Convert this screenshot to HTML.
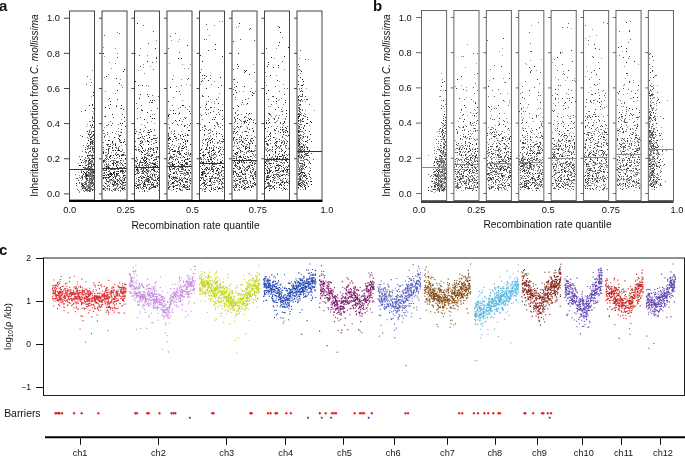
<!DOCTYPE html><html><head><meta charset="utf-8"><style>html,body{margin:0;padding:0;background:#fff;}svg{display:block;will-change:transform;}</style></head><body>
<svg width="685" height="456" viewBox="0 0 685 456" font-family='"Liberation Sans", sans-serif' fill="#111">
<path stroke="#222" stroke-width="1" fill="none" transform="translate(0,0.5)" d="M76 183h1M81 162h1M89 176h1M93 164h1M89 178h1M93 184h1M92 166h1M89 159h1M86 184h1M86 175h1M91 165h1M91 182h1M92 104h1M90 173h1M89 184h1M84 188h1M92 143h1M91 136h1M83 185h1M92 183h1M93 121h1M89 159h1M88 155h1M92 160h1M89 175h1M89 191h1M80 159h1M89 160h1M91 164h1M89 155h1M89 159h1M91 179h1M91 162h1M83 171h1M87 175h1M84 187h1M85 110h1M92 141h1M93 148h1M89 158h1M82 175h1M89 168h1M92 155h1M86 184h1M92 156h1M88 186h1M78 180h1M90 179h1M86 176h1M92 120h1M89 186h1M90 188h1M91 139h1M93 172h1M89 189h1M93 108h1M84 184h1M89 180h1M90 174h1M93 131h1M92 125h1M86 181h1M86 172h1M87 148h1M90 179h1M93 135h1M93 169h1M93 134h1M91 163h1M92 118h1M90 125h1M92 158h1M80 165h1M90 180h1M92 186h1M90 154h1M90 139h1M92 173h1M91 166h1M92 185h1M87 131h1M93 146h1M91 158h1M92 172h1M92 181h1M86 173h1M88 176h1M91 171h1M90 137h1M86 178h1M90 154h1M90 184h1M89 105h1M89 160h1M92 190h1M83 167h1M93 140h1M90 184h1M88 167h1M91 188h1M87 168h1M85 149h1M89 168h1M90 187h1M85 163h1M86 189h1M90 144h1M84 172h1M92 164h1M93 189h1M82 188h1M93 171h1M92 136h1M91 139h1M92 160h1M92 174h1M79 165h1M91 167h1M86 187h1M89 162h1M83 171h1M90 161h1M86 174h1M88 182h1M89 166h1M91 178h1M91 189h1M92 171h1M93 158h1M89 151h1M92 142h1M88 166h1M90 142h1M92 164h1M89 186h1M92 166h1M91 183h1M93 175h1M83 174h1M91 163h1M90 175h1M83 190h1M85 173h1M93 158h1M93 163h1M88 172h1M82 177h1M89 160h1M90 179h1M89 166h1M92 180h1M93 182h1M93 92h1M93 155h1M88 182h1M82 186h1M91 142h1M90 148h1M88 187h1M92 172h1M91 163h1M82 184h1M82 136h1M87 176h1M90 121h1M92 171h1M88 140h1M92 148h1M92 156h1M87 155h1M87 178h1M90 170h1M83 186h1M92 175h1M90 173h1M91 168h1M83 190h1M87 174h1M82 185h1M90 134h1M90 150h1M87 189h1M87 178h1M86 165h1M89 183h1M93 176h1M83 167h1M92 161h1M92 176h1M85 178h1M89 162h1M88 175h1M92 168h1M90 176h1M92 161h1M110 176h1M120 142h1M103 178h1M106 179h1M123 175h1M107 188h1M113 164h1M118 184h1M117 90h1M115 150h1M104 173h1M119 150h1M117 181h1M119 83h1M106 167h1M113 164h1M109 157h1M115 144h1M116 188h1M118 173h1M115 143h1M123 71h1M117 167h1M108 167h1M125 158h1M112 132h1M113 165h1M122 173h1M108 167h1M124 189h1M121 142h1M114 175h1M114 137h1M106 179h1M115 143h1M124 187h1M118 150h1M124 141h1M119 158h1M104 186h1M110 173h1M106 175h1M108 171h1M113 177h1M119 175h1M114 169h1M123 152h1M116 188h1M108 140h1M105 187h1M103 185h1M121 155h1M111 169h1M113 163h1M103 153h1M114 175h1M121 163h1M117 161h1M108 153h1M109 184h1M116 155h1M109 146h1M105 107h1M120 123h1M110 104h1M111 174h1M107 189h1M106 167h1M117 179h1M105 183h1M124 175h1M113 179h1M108 144h1M108 182h1M123 165h1M112 142h1M110 174h1M113 150h1M112 174h1M117 183h1M121 132h1M120 171h1M116 78h1M110 165h1M123 173h1M108 177h1M103 152h1M103 53h1M118 171h1M104 175h1M115 182h1M104 160h1M108 175h1M111 179h1M103 177h1M118 162h1M125 177h1M115 188h1M115 163h1M106 164h1M113 172h1M109 136h1M121 184h1M121 160h1M106 164h1M125 126h1M111 155h1M109 176h1M115 184h1M108 149h1M124 163h1M115 177h1M120 171h1M112 147h1M106 169h1M124 178h1M116 106h1M115 178h1M125 163h1M106 159h1M103 142h1M106 163h1M119 136h1M105 166h1M116 173h1M111 180h1M122 165h1M120 160h1M111 173h1M110 172h1M113 184h1M113 155h1M103 175h1M125 182h1M118 190h1M114 172h1M116 164h1M120 180h1M104 164h1M116 166h1M114 158h1M115 143h1M120 186h1M108 165h1M111 173h1M108 174h1M123 109h1M110 156h1M112 168h1M122 187h1M105 190h1M113 173h1M118 180h1M123 154h1M117 186h1M112 184h1M118 138h1M112 141h1M106 164h1M124 179h1M105 116h1M113 172h1M115 145h1M121 158h1M123 188h1M120 135h1M106 76h1M114 174h1M115 181h1M112 163h1M122 189h1M122 123h1M121 105h1M105 135h1M113 185h1M106 166h1M105 177h1M123 142h1M122 155h1M110 155h1M109 108h1M117 154h1M116 174h1M122 171h1M119 139h1M107 177h1M110 174h1M109 189h1M122 188h1M120 183h1M107 185h1M123 171h1M111 175h1M103 189h1M124 69h1M112 114h1M103 160h1M119 178h1M110 101h1M119 181h1M121 170h1M124 117h1M119 156h1M117 183h1M107 145h1M104 164h1M109 167h1M103 188h1M116 162h1M123 182h1M114 182h1M158 177h1M148 164h1M139 98h1M146 169h1M144 184h1M141 178h1M145 160h1M143 150h1M154 159h1M146 158h1M148 179h1M135 133h1M141 180h1M151 184h1M142 110h1M142 152h1M153 186h1M149 137h1M153 168h1M155 164h1M152 169h1M154 164h1M140 162h1M145 157h1M136 178h1M140 167h1M142 85h1M143 159h1M149 155h1M157 166h1M142 148h1M157 163h1M147 176h1M152 175h1M145 165h1M154 152h1M151 169h1M156 152h1M140 141h1M135 174h1M137 163h1M143 188h1M136 178h1M149 132h1M157 176h1M155 186h1M153 150h1M151 184h1M142 173h1M153 184h1M144 183h1M137 169h1M157 171h1M152 174h1M139 167h1M146 180h1M136 169h1M137 23h1M142 171h1M145 150h1M153 135h1M142 162h1M149 177h1M157 147h1M153 138h1M144 182h1M157 178h1M136 188h1M138 179h1M154 170h1M144 119h1M136 186h1M158 156h1M154 180h1M136 183h1M148 134h1M148 130h1M143 185h1M144 190h1M143 186h1M145 154h1M140 184h1M151 139h1M152 118h1M147 94h1M142 141h1M152 184h1M153 187h1M146 180h1M156 159h1M143 160h1M137 185h1M136 161h1M143 186h1M135 146h1M147 155h1M147 112h1M154 186h1M148 165h1M147 140h1M150 149h1M144 177h1M148 141h1M152 155h1M154 175h1M144 161h1M147 61h1M157 183h1M148 178h1M140 94h1M147 155h1M155 177h1M146 173h1M153 160h1M148 148h1M151 184h1M145 165h1M152 187h1M155 187h1M135 149h1M143 170h1M146 187h1M150 116h1M145 184h1M156 58h1M138 138h1M147 181h1M144 167h1M155 48h1M154 163h1M157 178h1M139 165h1M150 188h1M147 170h1M155 166h1M148 155h1M143 169h1M148 132h1M135 183h1M146 159h1M148 96h1M151 158h1M135 185h1M152 163h1M138 188h1M136 166h1M144 181h1M154 118h1M144 158h1M151 131h1M153 148h1M141 151h1M148 182h1M150 167h1M156 151h1M138 171h1M144 156h1M150 131h1M148 144h1M145 162h1M152 182h1M146 161h1M148 176h1M140 143h1M140 176h1M151 148h1M152 100h1M140 137h1M140 167h1M140 129h1M148 149h1M143 177h1M144 171h1M150 129h1M135 81h1M141 146h1M157 179h1M138 173h1M158 180h1M138 187h1M156 142h1M135 174h1M148 180h1M157 185h1M183 186h1M189 158h1M180 179h1M168 139h1M173 168h1M174 151h1M178 147h1M176 188h1M185 181h1M187 140h1M180 189h1M184 184h1M168 182h1M172 163h1M168 133h1M177 168h1M189 111h1M172 141h1M187 172h1M184 126h1M174 181h1M182 169h1M174 136h1M172 164h1M179 154h1M169 159h1M169 167h1M183 105h1M183 156h1M176 177h1M180 183h1M174 164h1M189 189h1M181 180h1M185 135h1M170 139h1M188 78h1M175 138h1M169 168h1M185 141h1M187 189h1M178 180h1M184 160h1M178 153h1M189 161h1M190 161h1M173 154h1M173 178h1M173 151h1M187 159h1M187 179h1M187 164h1M187 141h1M175 159h1M187 186h1M182 167h1M184 172h1M190 144h1M182 181h1M174 156h1M179 178h1M178 58h1M183 173h1M172 182h1M169 177h1M175 180h1M189 130h1M184 161h1M179 120h1M188 177h1M184 147h1M172 161h1M176 158h1M189 189h1M190 183h1M185 169h1M182 139h1M181 58h1M183 184h1M168 180h1M179 180h1M182 179h1M181 148h1M190 154h1M170 147h1M173 177h1M181 186h1M173 189h1M180 153h1M170 171h1M185 163h1M170 169h1M185 178h1M184 157h1M184 147h1M173 183h1M179 182h1M168 101h1M183 148h1M183 142h1M173 176h1M179 180h1M174 177h1M187 134h1M177 178h1M182 169h1M178 161h1M179 171h1M178 147h1M182 105h1M173 113h1M187 158h1M168 187h1M178 151h1M170 174h1M169 189h1M176 91h1M169 158h1M170 184h1M177 151h1M179 179h1M178 162h1M176 178h1M186 159h1M173 165h1M171 176h1M190 168h1M182 160h1M183 136h1M172 149h1M183 165h1M169 153h1M179 178h1M189 189h1M173 182h1M173 110h1M188 130h1M186 181h1M182 164h1M186 154h1M169 138h1M190 172h1M190 164h1M174 183h1M173 185h1M187 45h1M175 178h1M173 134h1M168 115h1M180 189h1M179 188h1M186 189h1M169 143h1M189 170h1M179 179h1M168 138h1M173 186h1M177 159h1M184 153h1M168 134h1M180 175h1M173 173h1M180 135h1M186 166h1M190 123h1M185 159h1M174 150h1M172 183h1M185 118h1M171 178h1M169 176h1M175 113h1M177 124h1M168 187h1M181 164h1M178 184h1M173 187h1M168 116h1M172 165h1M176 178h1M175 120h1M170 87h1M186 163h1M169 166h1M190 153h1M185 173h1M181 177h1M177 166h1M182 171h1M179 113h1M182 146h1M171 149h1M182 148h1M209 176h1M205 176h1M211 177h1M204 185h1M208 159h1M215 177h1M212 162h1M209 164h1M211 168h1M222 119h1M223 139h1M217 122h1M221 161h1M216 170h1M211 102h1M211 177h1M212 119h1M213 166h1M202 174h1M210 159h1M214 163h1M212 138h1M202 163h1M219 133h1M204 169h1M210 142h1M221 171h1M218 168h1M220 161h1M206 187h1M201 172h1M207 185h1M211 159h1M218 142h1M213 149h1M222 166h1M217 178h1M200 166h1M204 75h1M217 181h1M207 168h1M202 155h1M202 177h1M218 188h1M203 155h1M202 162h1M220 162h1M212 155h1M213 150h1M218 103h1M203 159h1M219 188h1M209 168h1M210 158h1M210 179h1M206 109h1M207 152h1M200 150h1M202 169h1M202 175h1M212 164h1M201 161h1M202 173h1M211 157h1M221 184h1M209 152h1M201 178h1M201 159h1M205 189h1M202 183h1M222 125h1M218 172h1M204 182h1M210 107h1M205 169h1M202 75h1M211 167h1M204 134h1M201 81h1M211 189h1M211 159h1M206 169h1M212 150h1M209 147h1M203 162h1M203 171h1M209 181h1M204 130h1M222 110h1M212 161h1M220 77h1M216 147h1M200 55h1M209 138h1M218 148h1M206 88h1M213 170h1M206 176h1M210 140h1M215 178h1M204 173h1M210 112h1M211 151h1M222 136h1M208 152h1M210 180h1M222 56h1M211 162h1M206 114h1M215 173h1M212 131h1M203 164h1M219 183h1M209 122h1M202 129h1M200 157h1M207 142h1M208 169h1M201 174h1M219 163h1M202 172h1M205 159h1M205 176h1M223 167h1M210 142h1M219 155h1M204 171h1M221 85h1M203 155h1M223 149h1M220 149h1M217 170h1M206 167h1M208 80h1M202 163h1M214 166h1M209 156h1M200 153h1M215 117h1M212 181h1M202 119h1M206 149h1M202 61h1M215 189h1M206 104h1M213 166h1M215 49h1M205 188h1M211 188h1M218 177h1M217 168h1M205 175h1M215 177h1M201 149h1M214 153h1M220 172h1M206 169h1M208 130h1M220 172h1M214 119h1M213 158h1M222 167h1M222 186h1M213 177h1M205 168h1M218 177h1M216 99h1M212 171h1M218 168h1M201 168h1M202 165h1M221 162h1M212 176h1M220 147h1M205 184h1M218 163h1M217 163h1M203 159h1M218 152h1M205 154h1M207 157h1M207 145h1M221 154h1M210 181h1M216 133h1M212 169h1M209 185h1M200 180h1M210 178h1M215 44h1M221 163h1M211 169h1M209 178h1M252 163h1M245 173h1M236 139h1M234 131h1M244 173h1M237 143h1M246 153h1M246 169h1M240 179h1M237 126h1M235 153h1M237 176h1M236 92h1M241 161h1M242 180h1M244 162h1M243 146h1M255 175h1M237 131h1M233 150h1M250 156h1M244 70h1M251 165h1M246 180h1M237 180h1M249 129h1M255 171h1M245 178h1M240 150h1M234 165h1M248 142h1M233 172h1M237 166h1M239 156h1M249 113h1M250 118h1M249 166h1M235 163h1M241 171h1M248 159h1M244 117h1M247 170h1M252 143h1M245 149h1M253 131h1M238 163h1M247 167h1M250 181h1M245 160h1M247 187h1M237 152h1M240 156h1M250 159h1M240 168h1M239 23h1M254 162h1M244 187h1M237 118h1M233 168h1M234 145h1M251 119h1M251 151h1M239 139h1M249 148h1M252 92h1M246 148h1M236 180h1M241 170h1M240 176h1M252 176h1M250 168h1M254 166h1M253 183h1M252 95h1M237 143h1M254 172h1M240 175h1M234 158h1M239 162h1M249 143h1M255 123h1M251 186h1M233 41h1M233 174h1M255 176h1M244 187h1M248 184h1M237 183h1M236 158h1M234 137h1M234 181h1M247 103h1M250 171h1M238 66h1M235 165h1M237 166h1M248 157h1M239 161h1M244 182h1M246 187h1M244 180h1M242 186h1M233 108h1M245 131h1M246 70h1M245 71h1M254 184h1M251 187h1M255 163h1M234 79h1M233 138h1M234 129h1M249 74h1M242 173h1M235 90h1M253 140h1M239 185h1M242 184h1M250 140h1M248 124h1M245 148h1M237 64h1M236 132h1M246 113h1M235 171h1M248 160h1M241 137h1M236 165h1M248 168h1M241 144h1M233 182h1M238 106h1M248 186h1M245 138h1M239 179h1M246 159h1M239 176h1M249 119h1M244 86h1M235 119h1M236 185h1M238 174h1M243 145h1M252 128h1M255 184h1M253 179h1M249 162h1M251 138h1M238 53h1M234 117h1M254 182h1M247 182h1M241 172h1M253 122h1M236 173h1M235 185h1M243 180h1M236 86h1M234 161h1M248 165h1M240 135h1M235 187h1M241 187h1M244 158h1M246 169h1M237 163h1M243 185h1M247 120h1M234 168h1M242 159h1M253 178h1M249 165h1M244 121h1M252 185h1M253 168h1M237 153h1M237 148h1M244 170h1M235 153h1M245 158h1M243 174h1M238 127h1M244 122h1M242 141h1M237 126h1M236 174h1M288 165h1M266 187h1M270 180h1M279 156h1M280 165h1M266 93h1M272 172h1M282 130h1M285 151h1M281 166h1M279 158h1M284 155h1M286 174h1M279 141h1M270 181h1M285 189h1M285 127h1M268 62h1M269 169h1M287 169h1M281 185h1M266 141h1M287 141h1M281 156h1M276 141h1M287 182h1M273 177h1M281 162h1M274 189h1M287 131h1M279 161h1M269 154h1M270 176h1M270 181h1M266 177h1M286 110h1M288 47h1M278 169h1M277 159h1M275 156h1M267 66h1M269 172h1M284 152h1M285 157h1M277 179h1M280 132h1M274 185h1M277 176h1M280 32h1M270 171h1M286 161h1M268 186h1M287 167h1M277 170h1M281 182h1M265 165h1M277 174h1M282 175h1M286 180h1M265 128h1M275 170h1M284 143h1M276 182h1M267 166h1M275 151h1M286 166h1M269 114h1M276 159h1M280 159h1M282 154h1M265 188h1M283 132h1M283 157h1M266 178h1M274 188h1M285 102h1M266 122h1M283 170h1M271 159h1M282 136h1M268 175h1M285 178h1M271 57h1M285 160h1M276 98h1M275 142h1M283 123h1M265 181h1M272 149h1M270 163h1M268 168h1M272 181h1M277 80h1M280 184h1M266 179h1M278 65h1M287 162h1M274 178h1M267 177h1M265 173h1M286 113h1M272 182h1M286 182h1M273 67h1M269 188h1M283 134h1M269 134h1M279 139h1M279 185h1M268 182h1M284 131h1M273 158h1M269 190h1M273 118h1M266 177h1M286 158h1M286 130h1M276 101h1M273 175h1M280 129h1M287 170h1M267 144h1M282 155h1M267 172h1M282 182h1M266 123h1M277 158h1M279 176h1M274 182h1M270 75h1M282 150h1M268 140h1M267 170h1M279 42h1M267 179h1M279 187h1M271 150h1M275 167h1M266 143h1M283 171h1M281 175h1M268 90h1M268 136h1M286 181h1M269 177h1M281 151h1M284 188h1M284 121h1M284 182h1M284 183h1M268 177h1M266 180h1M269 122h1M268 182h1M276 158h1M275 109h1M271 167h1M287 155h1M275 168h1M279 165h1M269 170h1M284 56h1M268 127h1M285 159h1M265 138h1M285 132h1M280 174h1M268 179h1M276 165h1M265 162h1M270 186h1M266 163h1M271 188h1M276 170h1M272 177h1M279 27h1M284 121h1M270 133h1M286 169h1M280 171h1M282 127h1M288 135h1M275 152h1M268 99h1M276 145h1M273 137h1M272 186h1M280 156h1M267 173h1M265 183h1M277 165h1M273 163h1M269 155h1M278 182h1M286 128h1M299 111h1M298 99h1M301 146h1M298 116h1M299 174h1M298 131h1M302 94h1M304 186h1M299 145h1M301 99h1M298 143h1M304 164h1M304 175h1M302 164h1M300 173h1M298 152h1M301 174h1M300 175h1M302 172h1M299 147h1M298 151h1M304 173h1M298 174h1M300 167h1M300 163h1M301 71h1M299 138h1M309 162h1M302 85h1M305 141h1M299 170h1M300 124h1M298 151h1M305 188h1M298 96h1M300 96h1M298 84h1M304 147h1M298 151h1M303 137h1M301 174h1M299 144h1M300 179h1M306 182h1M299 184h1M310 163h1M300 119h1M299 141h1M302 121h1M302 163h1M298 100h1M298 141h1M304 147h1M299 143h1M299 157h1M298 132h1M311 184h1M305 167h1M298 130h1M300 186h1M309 174h1M305 101h1M299 162h1M298 145h1M299 139h1M298 142h1M305 130h1M298 121h1M299 147h1M307 147h1M299 162h1M298 145h1M304 154h1M300 104h1M298 155h1M298 182h1M298 148h1M310 121h1M308 173h1M307 153h1M298 145h1M303 172h1M298 120h1M299 150h1M309 150h1M299 127h1M307 119h1M298 160h1M303 144h1M305 185h1M298 184h1M300 163h1M301 152h1M298 153h1M304 152h1M298 130h1M299 169h1M299 152h1M298 158h1M307 123h1M310 134h1M298 146h1M298 187h1M299 138h1M304 165h1M300 129h1M300 185h1M298 156h1M300 70h1M302 147h1M300 148h1M304 156h1M298 132h1M305 155h1M299 152h1M298 114h1M299 149h1M298 164h1M301 85h1M299 183h1M307 155h1M299 145h1M306 166h1M311 181h1M301 168h1M300 91h1M302 79h1M299 169h1M306 123h1M305 188h1M303 81h1M299 126h1M304 125h1M300 114h1M304 173h1M304 163h1M303 148h1M298 148h1M299 155h1M298 117h1M300 137h1M307 137h1M311 122h1M307 99h1M305 187h1M298 137h1M299 140h1M307 117h1M299 176h1M302 156h1M303 160h1M299 184h1M299 116h1M298 148h1M300 178h1M299 162h1M299 115h1M299 141h1M307 151h1M298 135h1M300 176h1M301 184h1M298 140h1M306 159h1M305 187h1M298 136h1M302 91h1M299 140h1M299 177h1M300 77h1M298 178h1M303 115h1M301 150h1M301 172h1M303 128h1M308 186h1M298 185h1"/>
<path stroke="#555" stroke-width="1" fill="none" transform="translate(0,0.5)" d="M86 186h1M76 178h1M84 184h1M89 182h1M90 163h1M91 168h1M86 160h1M85 175h1M91 132h1M92 181h1M87 186h1M91 158h1M89 163h1M85 162h1M92 189h1M90 141h1M88 173h1M83 188h1M91 170h1M81 186h1M85 151h1M91 183h1M92 156h1M88 180h1M90 172h1M90 146h1M85 168h1M90 163h1M91 182h1M91 181h1M84 191h1M81 184h1M75 174h1M88 161h1M92 161h1M93 127h1M84 159h1M90 187h1M91 179h1M89 174h1M91 127h1M93 140h1M91 173h1M85 174h1M87 189h1M90 155h1M93 179h1M92 166h1M88 176h1M89 163h1M85 187h1M89 158h1M89 176h1M77 178h1M89 184h1M93 187h1M84 169h1M91 82h1M92 164h1M91 171h1M92 181h1M87 168h1M86 179h1M90 180h1M91 184h1M86 187h1M88 170h1M90 172h1M88 167h1M83 186h1M93 95h1M93 150h1M92 166h1M89 180h1M91 158h1M92 171h1M85 188h1M87 76h1M89 186h1M89 173h1M92 142h1M92 160h1M86 190h1M87 137h1M92 174h1M87 156h1M85 184h1M90 159h1M83 145h1M90 180h1M93 189h1M93 178h1M90 146h1M88 186h1M90 189h1M88 160h1M92 154h1M90 162h1M88 152h1M89 190h1M92 182h1M87 146h1M83 190h1M79 156h1M90 150h1M86 84h1M91 166h1M92 175h1M89 163h1M82 175h1M85 182h1M85 187h1M92 105h1M86 183h1M89 187h1M81 172h1M86 173h1M90 151h1M92 169h1M91 168h1M92 183h1M93 138h1M89 181h1M87 171h1M85 183h1M91 167h1M92 176h1M89 158h1M90 148h1M92 150h1M86 186h1M92 124h1M92 176h1M83 188h1M90 176h1M87 185h1M91 136h1M89 179h1M89 178h1M92 161h1M92 177h1M91 178h1M91 164h1M81 156h1M90 183h1M85 165h1M91 137h1M93 135h1M84 188h1M89 121h1M88 190h1M92 136h1M88 176h1M79 182h1M93 170h1M88 145h1M92 170h1M88 155h1M79 177h1M93 152h1M90 143h1M88 164h1M89 175h1M89 184h1M89 131h1M87 167h1M90 161h1M76 185h1M92 171h1M84 176h1M90 167h1M89 164h1M85 160h1M82 183h1M92 117h1M92 172h1M82 160h1M88 169h1M86 183h1M87 149h1M81 171h1M91 182h1M91 188h1M91 183h1M83 190h1M91 172h1M92 179h1M92 144h1M87 180h1M87 143h1M83 187h1M91 181h1M93 184h1M88 176h1M82 178h1M86 168h1M85 167h1M91 181h1M92 147h1M92 181h1M84 186h1M88 163h1M81 176h1M90 182h1M88 188h1M89 181h1M86 171h1M88 175h1M88 157h1M90 179h1M86 186h1M86 126h1M88 134h1M91 186h1M90 187h1M87 188h1M90 182h1M91 131h1M89 188h1M90 171h1M93 142h1M89 121h1M85 190h1M89 185h1M91 152h1M88 180h1M89 176h1M89 130h1M89 162h1M92 162h1M79 191h1M86 180h1M89 166h1M90 187h1M91 160h1M92 149h1M92 176h1M88 175h1M90 172h1M90 172h1M86 152h1M80 178h1M90 146h1M86 182h1M89 134h1M89 158h1M91 166h1M88 187h1M91 141h1M93 155h1M86 173h1M92 142h1M93 165h1M92 176h1M85 188h1M88 161h1M90 182h1M85 177h1M83 169h1M77 189h1M117 57h1M108 178h1M108 159h1M125 166h1M107 134h1M107 186h1M122 183h1M106 180h1M118 188h1M120 162h1M114 175h1M106 172h1M124 167h1M122 188h1M116 176h1M112 132h1M110 158h1M122 182h1M124 121h1M104 159h1M119 182h1M119 135h1M120 162h1M114 158h1M115 143h1M122 172h1M117 175h1M116 171h1M117 99h1M122 154h1M105 155h1M104 137h1M121 167h1M115 178h1M122 169h1M107 132h1M112 169h1M119 187h1M103 147h1M113 189h1M122 168h1M109 156h1M125 159h1M108 171h1M106 149h1M112 148h1M114 171h1M116 175h1M117 174h1M111 169h1M108 150h1M111 190h1M121 125h1M118 149h1M117 161h1M107 188h1M123 180h1M113 181h1M119 182h1M118 169h1M105 187h1M110 146h1M104 173h1M114 162h1M113 162h1M115 176h1M118 168h1M104 35h1M103 151h1M124 180h1M122 114h1M123 180h1M122 168h1M121 180h1M125 171h1M106 172h1M123 185h1M108 182h1M118 162h1M122 170h1M117 189h1M118 169h1M110 161h1M113 144h1M118 147h1M109 148h1M104 161h1M112 169h1M117 173h1M123 167h1M107 174h1M106 167h1M124 182h1M116 147h1M118 134h1M109 173h1M103 185h1M103 130h1M115 190h1M122 187h1M103 169h1M111 125h1M109 171h1M106 155h1M120 190h1M117 164h1M104 177h1M115 168h1M119 178h1M105 158h1M120 167h1M109 174h1M108 164h1M109 188h1M121 151h1M121 181h1M122 173h1M116 183h1M124 185h1M104 177h1M110 169h1M125 155h1M116 176h1M108 124h1M121 171h1M115 188h1M108 185h1M104 160h1M108 148h1M103 168h1M107 144h1M121 188h1M118 190h1M120 170h1M124 182h1M104 172h1M123 160h1M122 177h1M122 165h1M107 185h1M107 181h1M104 170h1M112 123h1M114 180h1M106 170h1M118 154h1M108 181h1M109 167h1M113 117h1M120 177h1M120 180h1M103 142h1M108 166h1M121 129h1M125 170h1M125 144h1M116 161h1M116 179h1M120 151h1M118 148h1M125 175h1M117 171h1M121 108h1M115 154h1M112 183h1M121 163h1M123 176h1M109 186h1M117 162h1M124 139h1M112 180h1M124 172h1M119 33h1M106 177h1M118 169h1M120 170h1M109 177h1M105 178h1M123 155h1M105 170h1M104 136h1M108 151h1M115 189h1M110 144h1M113 160h1M120 140h1M114 183h1M120 167h1M107 154h1M112 176h1M116 152h1M116 165h1M109 98h1M103 189h1M106 179h1M107 177h1M109 179h1M103 162h1M124 167h1M108 181h1M109 140h1M103 161h1M139 172h1M147 174h1M144 168h1M143 168h1M157 148h1M157 182h1M157 161h1M139 55h1M136 150h1M144 186h1M147 179h1M146 188h1M141 162h1M153 152h1M150 171h1M143 183h1M147 150h1M142 173h1M154 182h1M138 185h1M137 173h1M150 188h1M147 173h1M138 180h1M141 134h1M153 167h1M147 170h1M148 43h1M152 102h1M138 177h1M141 140h1M140 66h1M141 168h1M141 105h1M137 159h1M145 180h1M137 118h1M149 164h1M143 25h1M138 171h1M150 100h1M137 108h1M146 177h1M151 110h1M142 172h1M157 149h1M151 169h1M141 109h1M144 136h1M138 170h1M146 172h1M143 169h1M140 160h1M143 173h1M138 150h1M148 172h1M139 162h1M154 187h1M139 132h1M139 164h1M157 176h1M153 170h1M152 95h1M140 145h1M153 180h1M149 102h1M144 165h1M144 151h1M156 174h1M138 167h1M140 162h1M155 140h1M153 69h1M150 151h1M145 186h1M144 163h1M139 151h1M146 162h1M150 174h1M138 184h1M152 154h1M154 176h1M140 117h1M151 144h1M139 184h1M144 154h1M150 151h1M147 153h1M142 187h1M154 166h1M158 178h1M138 85h1M152 184h1M145 163h1M145 167h1M148 151h1M153 152h1M153 166h1M158 169h1M144 174h1M141 175h1M154 100h1M139 144h1M155 180h1M149 184h1M140 161h1M135 160h1M146 180h1M155 138h1M154 152h1M151 179h1M137 168h1M143 131h1M138 147h1M136 183h1M147 122h1M148 184h1M136 103h1M153 164h1M142 157h1M149 179h1M146 170h1M154 169h1M150 129h1M149 187h1M142 181h1M136 131h1M138 188h1M142 176h1M148 166h1M156 165h1M155 159h1M136 157h1M145 149h1M147 178h1M156 156h1M138 185h1M143 168h1M141 158h1M154 174h1M142 178h1M147 163h1M152 139h1M150 181h1M151 169h1M154 167h1M155 186h1M142 142h1M144 139h1M158 184h1M155 171h1M156 167h1M150 176h1M147 141h1M153 31h1M138 149h1M150 156h1M137 172h1M142 164h1M158 157h1M155 138h1M156 156h1M148 181h1M143 172h1M135 141h1M156 138h1M155 147h1M154 138h1M148 179h1M155 162h1M145 168h1M149 162h1M156 57h1M139 180h1M149 188h1M153 163h1M149 180h1M148 168h1M147 171h1M141 154h1M150 149h1M140 186h1M141 169h1M139 162h1M142 165h1M147 185h1M154 171h1M150 177h1M136 178h1M139 182h1M142 158h1M152 178h1M145 127h1M144 160h1M143 160h1M144 191h1M146 153h1M139 166h1M152 62h1M151 177h1M141 152h1M151 155h1M138 165h1M158 156h1M156 157h1M148 172h1M157 186h1M145 150h1M146 170h1M136 157h1M147 170h1M155 135h1M146 135h1M143 138h1M148 171h1M137 170h1M140 187h1M137 187h1M139 177h1M138 181h1M145 175h1M146 164h1M157 108h1M151 102h1M142 136h1M144 174h1M146 85h1M158 96h1M149 189h1M180 154h1M172 105h1M187 184h1M179 146h1M169 137h1M175 185h1M173 183h1M184 187h1M175 166h1M176 156h1M180 143h1M170 156h1M184 186h1M171 156h1M171 131h1M174 173h1M172 151h1M184 184h1M186 162h1M184 177h1M176 177h1M186 172h1M188 153h1M178 149h1M186 187h1M183 169h1M175 178h1M172 186h1M182 150h1M175 150h1M181 178h1M177 174h1M172 123h1M178 170h1M177 182h1M175 177h1M168 140h1M186 164h1M178 147h1M170 147h1M168 136h1M186 152h1M185 154h1M174 133h1M174 172h1M169 186h1M179 151h1M181 165h1M174 179h1M176 138h1M190 180h1M168 163h1M178 139h1M169 114h1M176 185h1M177 152h1M169 175h1M189 125h1M169 178h1M182 160h1M190 178h1M181 171h1M182 180h1M169 128h1M182 134h1M179 179h1M168 173h1M175 151h1M188 174h1M178 168h1M180 162h1M189 155h1M188 135h1M178 157h1M187 163h1M168 163h1M175 138h1M168 160h1M176 91h1M185 187h1M185 143h1M184 117h1M171 183h1M170 36h1M181 150h1M183 145h1M182 165h1M182 180h1M185 107h1M179 182h1M174 131h1M174 145h1M180 167h1M181 85h1M169 163h1M182 179h1M179 188h1M178 170h1M190 180h1M174 186h1M174 168h1M179 152h1M172 157h1M184 139h1M185 140h1M179 163h1M186 179h1M189 180h1M190 168h1M177 181h1M186 174h1M181 171h1M176 177h1M181 173h1M171 157h1M178 134h1M181 169h1M185 185h1M177 188h1M169 181h1M172 144h1M189 182h1M169 127h1M185 167h1M182 121h1M180 164h1M168 188h1M187 135h1M176 191h1M185 170h1M177 174h1M186 146h1M168 185h1M168 183h1M187 173h1M168 153h1M180 167h1M183 168h1M168 139h1M181 155h1M175 33h1M187 181h1M187 174h1M184 165h1M170 157h1M177 182h1M170 164h1M178 153h1M177 185h1M176 140h1M180 164h1M186 149h1M181 160h1M179 189h1M169 169h1M183 165h1M181 167h1M178 165h1M174 167h1M174 154h1M168 48h1M168 145h1M169 187h1M176 173h1M168 148h1M175 136h1M184 177h1M168 135h1M189 186h1M176 185h1M187 174h1M189 185h1M180 157h1M171 162h1M184 185h1M172 79h1M172 179h1M180 144h1M178 165h1M184 125h1M180 173h1M173 183h1M170 110h1M178 143h1M168 162h1M176 181h1M168 143h1M180 184h1M170 165h1M178 180h1M173 164h1M169 149h1M176 172h1M179 179h1M176 169h1M170 137h1M178 148h1M179 91h1M174 131h1M176 178h1M170 156h1M180 107h1M179 52h1M168 146h1M178 169h1M188 189h1M174 150h1M187 162h1M179 178h1M187 187h1M172 169h1M173 134h1M181 124h1M169 143h1M185 144h1M189 175h1M173 159h1M214 157h1M202 165h1M209 169h1M200 130h1M213 177h1M217 142h1M201 184h1M206 174h1M211 167h1M216 180h1M206 184h1M223 178h1M203 182h1M211 139h1M208 153h1M211 176h1M219 140h1M204 125h1M208 101h1M221 141h1M213 164h1M221 181h1M200 162h1M205 140h1M222 160h1M202 80h1M218 184h1M205 149h1M222 183h1M214 180h1M204 78h1M212 142h1M200 166h1M202 145h1M213 145h1M213 154h1M209 152h1M219 173h1M217 174h1M219 114h1M202 95h1M200 162h1M202 127h1M219 150h1M222 191h1M211 178h1M201 69h1M215 164h1M217 180h1M211 185h1M219 187h1M220 127h1M209 148h1M202 171h1M209 133h1M218 174h1M207 173h1M208 141h1M216 114h1M206 170h1M220 165h1M206 139h1M207 144h1M222 178h1M214 189h1M218 178h1M210 158h1M214 184h1M222 141h1M203 163h1M219 179h1M212 141h1M211 168h1M217 123h1M203 143h1M210 173h1M201 115h1M218 177h1M209 154h1M206 76h1M221 174h1M208 109h1M219 187h1M214 162h1M205 180h1M207 167h1M215 178h1M210 178h1M223 154h1M204 126h1M216 173h1M215 152h1M206 183h1M205 128h1M221 170h1M220 179h1M223 187h1M202 96h1M222 125h1M217 122h1M206 24h1M203 183h1M210 170h1M220 143h1M207 182h1M210 191h1M211 188h1M213 182h1M220 153h1M218 126h1M222 179h1M216 122h1M215 187h1M220 163h1M213 169h1M204 39h1M220 180h1M206 161h1M211 107h1M205 173h1M219 181h1M200 188h1M203 139h1M222 157h1M213 134h1M208 50h1M203 164h1M209 150h1M205 168h1M208 173h1M219 181h1M204 155h1M218 87h1M204 183h1M217 159h1M214 128h1M223 141h1M220 188h1M217 124h1M222 151h1M218 142h1M217 143h1M211 160h1M209 190h1M204 180h1M201 69h1M211 148h1M218 109h1M208 96h1M213 188h1M210 132h1M216 136h1M219 175h1M212 167h1M213 111h1M204 191h1M209 178h1M204 189h1M214 178h1M210 78h1M222 104h1M201 159h1M211 185h1M213 188h1M220 180h1M210 185h1M209 161h1M221 175h1M208 161h1M200 72h1M203 186h1M214 139h1M215 163h1M219 169h1M205 186h1M206 147h1M200 177h1M214 125h1M203 154h1M211 187h1M211 162h1M205 139h1M201 168h1M207 185h1M219 151h1M204 155h1M202 165h1M200 107h1M205 107h1M203 179h1M215 168h1M208 160h1M204 165h1M205 191h1M221 161h1M222 182h1M206 148h1M234 189h1M248 118h1M239 172h1M233 185h1M245 116h1M240 120h1M236 156h1M245 121h1M238 114h1M243 181h1M235 113h1M234 180h1M239 182h1M242 151h1M241 178h1M253 177h1M245 186h1M234 176h1M247 144h1M255 173h1M249 147h1M246 162h1M255 172h1M235 166h1M248 132h1M255 178h1M235 172h1M250 182h1M240 172h1M250 91h1M253 130h1M253 170h1M238 169h1M248 151h1M239 137h1M253 155h1M236 152h1M239 181h1M242 180h1M234 84h1M242 132h1M247 169h1M251 113h1M235 164h1M255 154h1M250 151h1M238 148h1M252 138h1M240 135h1M250 28h1M241 186h1M239 119h1M235 121h1M235 183h1M246 140h1M237 160h1M251 161h1M235 133h1M242 165h1M237 68h1M240 176h1M243 161h1M239 159h1M243 188h1M236 186h1M236 157h1M235 183h1M239 189h1M244 183h1M251 150h1M244 169h1M242 102h1M240 181h1M253 120h1M239 141h1M247 147h1M243 166h1M249 167h1M234 158h1M244 167h1M246 131h1M239 166h1M249 29h1M252 169h1M244 189h1M242 181h1M252 162h1M234 190h1M235 112h1M237 115h1M233 180h1M254 173h1M237 82h1M240 126h1M234 142h1M237 134h1M250 190h1M237 183h1M248 98h1M233 187h1M243 178h1M233 69h1M253 93h1M245 177h1M245 99h1M234 171h1M245 176h1M255 174h1M245 184h1M245 146h1M252 153h1M237 105h1M236 154h1M233 158h1M233 146h1M240 157h1M236 156h1M239 169h1M255 175h1M254 136h1M241 140h1M252 167h1M233 89h1M240 152h1M242 164h1M250 162h1M250 185h1M254 40h1M234 122h1M250 172h1M241 121h1M247 138h1M241 176h1M245 174h1M249 150h1M233 138h1M248 159h1M239 139h1M233 171h1M235 97h1M246 122h1M247 151h1M235 179h1M244 72h1M235 113h1M249 162h1M244 163h1M244 167h1M246 135h1M253 151h1M248 114h1M240 172h1M252 151h1M249 177h1M251 141h1M255 145h1M235 165h1M247 128h1M235 162h1M253 168h1M240 167h1M237 162h1M241 136h1M235 154h1M241 157h1M246 152h1M233 133h1M235 119h1M244 160h1M247 135h1M244 143h1M254 72h1M242 174h1M237 173h1M245 147h1M242 142h1M247 156h1M245 173h1M252 165h1M243 180h1M243 178h1M246 167h1M253 186h1M244 188h1M248 166h1M239 172h1M252 171h1M250 175h1M237 139h1M233 140h1M233 94h1M243 157h1M254 164h1M242 162h1M239 167h1M246 146h1M247 166h1M234 176h1M245 168h1M253 169h1M244 188h1M254 174h1M255 183h1M237 123h1M243 145h1M240 39h1M233 139h1M251 141h1M250 175h1M275 149h1M280 174h1M279 91h1M286 145h1M282 171h1M281 142h1M267 183h1M267 148h1M279 184h1M282 129h1M278 175h1M282 114h1M271 160h1M282 158h1M275 122h1M277 141h1M275 133h1M269 183h1M274 160h1M285 175h1M277 161h1M281 145h1M266 48h1M282 136h1M270 140h1M286 154h1M279 172h1M279 153h1M278 154h1M267 151h1M275 174h1M265 168h1M284 169h1M279 185h1M267 159h1M285 100h1M278 131h1M278 146h1M267 171h1M278 107h1M286 116h1M265 141h1M269 185h1M285 147h1M278 174h1M267 186h1M283 84h1M282 170h1M269 164h1M280 180h1M280 146h1M268 64h1M286 135h1M288 183h1M286 160h1M268 118h1M284 122h1M283 144h1M281 149h1M286 158h1M269 160h1M272 96h1M269 163h1M281 111h1M267 182h1M266 143h1M278 45h1M281 156h1M276 183h1M274 119h1M274 176h1M286 166h1M273 174h1M273 96h1M287 88h1M283 174h1M268 184h1M270 185h1M269 160h1M267 158h1M282 61h1M270 165h1M270 138h1M271 158h1M279 168h1M268 183h1M286 161h1M276 128h1M285 170h1M287 126h1M275 86h1M271 167h1M271 163h1M266 155h1M279 151h1M275 177h1M280 123h1M266 160h1M272 151h1M281 188h1M285 130h1M275 174h1M280 183h1M276 182h1M268 113h1M272 147h1M275 159h1M282 111h1M271 170h1M270 143h1M278 118h1M268 150h1M266 169h1M287 158h1M274 143h1M280 145h1M273 187h1M277 147h1M284 141h1M283 189h1M270 188h1M270 132h1M277 156h1M287 171h1M278 26h1M266 159h1M269 139h1M274 129h1M274 118h1M274 130h1M269 171h1M276 145h1M284 168h1M284 185h1M282 181h1M282 190h1M275 139h1M278 170h1M287 155h1M281 143h1M284 94h1M288 148h1M276 146h1M278 166h1M284 142h1M283 187h1M283 167h1M280 180h1M267 176h1M269 164h1M271 104h1M271 160h1M276 148h1M278 165h1M268 120h1M271 185h1M276 161h1M273 186h1M283 159h1M267 143h1M279 178h1M268 185h1M273 179h1M279 151h1M288 169h1M272 181h1M276 143h1M275 122h1M282 142h1M286 172h1M266 177h1M269 139h1M268 161h1M275 130h1M275 145h1M268 186h1M283 178h1M284 142h1M283 140h1M286 143h1M278 67h1M268 179h1M282 137h1M270 136h1M280 122h1M270 170h1M283 165h1M269 169h1M277 157h1M283 129h1M279 147h1M298 153h1M303 181h1M299 185h1M301 147h1M299 163h1M308 173h1M301 135h1M311 141h1M304 181h1M303 121h1M301 151h1M301 169h1M298 81h1M304 151h1M298 157h1M303 158h1M298 182h1M300 186h1M309 171h1M305 154h1M310 181h1M298 173h1M300 121h1M298 141h1M298 148h1M305 116h1M298 181h1M299 100h1M301 169h1M305 189h1M299 184h1M302 174h1M301 176h1M299 167h1M301 88h1M301 113h1M299 173h1M304 184h1M299 156h1M298 152h1M300 172h1M313 159h1M301 124h1M300 101h1M300 124h1M298 128h1M301 96h1M299 163h1M303 166h1M310 179h1M302 118h1M299 171h1M298 113h1M299 131h1M298 75h1M302 165h1M299 66h1M302 182h1M310 170h1M300 109h1M300 172h1M310 177h1M301 160h1M299 152h1M301 184h1M301 154h1M301 170h1M300 50h1M309 104h1M304 149h1M299 179h1M298 126h1M303 168h1M301 88h1M309 176h1M300 157h1M306 176h1M298 160h1M298 64h1M303 118h1M302 110h1M300 151h1M303 176h1M303 132h1M300 73h1M304 154h1M304 150h1M307 148h1M300 183h1M298 161h1M305 153h1M298 150h1M300 121h1M298 157h1M304 182h1M302 167h1M300 96h1M299 115h1M299 120h1M306 153h1M298 97h1M300 156h1M298 185h1M298 183h1M302 119h1M308 152h1M298 145h1M305 180h1M301 160h1M308 155h1M298 151h1M298 174h1M305 177h1M300 70h1M298 138h1M306 141h1M299 155h1M308 181h1M305 155h1M306 99h1M305 116h1M298 144h1M298 139h1M303 157h1M301 157h1M300 150h1M298 150h1M300 160h1M300 135h1M307 140h1M307 136h1M304 162h1M300 156h1M305 136h1M300 146h1M302 152h1M298 123h1M300 73h1M307 149h1M302 138h1M299 176h1M299 109h1M299 114h1M305 175h1M303 136h1M299 180h1M302 131h1M302 118h1M305 96h1M304 152h1M305 174h1M299 132h1M300 176h1M301 157h1M301 143h1M309 157h1M300 119h1M303 84h1M299 168h1M298 118h1M298 171h1M302 167h1M300 176h1M299 107h1M303 184h1M304 176h1M300 170h1M300 121h1M299 170h1M306 183h1M298 143h1M301 166h1M306 178h1M298 125h1M299 135h1M301 90h1M299 169h1M303 157h1M298 123h1M301 154h1M303 145h1M309 131h1M307 178h1M301 155h1M301 171h1M301 113h1M302 165h1M299 181h1M303 175h1M306 155h1M302 149h1M305 59h1M298 148h1M311 153h1M300 100h1M302 183h1M299 108h1M300 167h1M300 112h1M299 95h1M298 162h1M301 152h1M302 146h1M301 186h1M299 147h1M299 155h1M300 165h1M301 163h1M300 148h1M300 148h1M309 139h1M298 100h1M298 160h1M298 121h1M304 149h1M298 146h1M301 151h1M307 142h1M299 154h1M303 189h1"/>
<path stroke="#888" stroke-width="1" fill="none" transform="translate(0,0.5)" d="M82 165h1M90 154h1M91 163h1M92 173h1M79 183h1M87 176h1M92 120h1M91 143h1M90 79h1M91 156h1M90 146h1M91 161h1M92 171h1M81 189h1M92 154h1M91 169h1M89 135h1M91 96h1M92 181h1M93 170h1M87 191h1M90 190h1M85 163h1M92 164h1M93 146h1M91 133h1M86 161h1M84 182h1M85 178h1M87 179h1M85 162h1M90 184h1M89 186h1M91 171h1M92 116h1M91 174h1M89 180h1M89 148h1M91 189h1M92 144h1M81 170h1M85 147h1M86 186h1M93 187h1M87 124h1M86 187h1M89 184h1M86 184h1M92 181h1M93 113h1M88 168h1M88 162h1M89 136h1M92 111h1M90 175h1M91 131h1M93 159h1M90 178h1M90 185h1M79 191h1M91 173h1M90 170h1M92 171h1M90 79h1M88 138h1M90 173h1M90 168h1M86 145h1M92 173h1M90 172h1M93 182h1M89 174h1M89 170h1M91 166h1M86 169h1M88 147h1M91 146h1M82 187h1M91 174h1M87 190h1M83 188h1M92 154h1M91 174h1M89 182h1M93 151h1M89 176h1M88 173h1M81 177h1M85 182h1M91 171h1M90 129h1M87 185h1M93 173h1M85 189h1M85 157h1M92 160h1M87 167h1M92 178h1M93 165h1M86 180h1M91 136h1M86 169h1M92 157h1M91 173h1M90 191h1M88 165h1M89 169h1M91 186h1M91 162h1M81 183h1M86 182h1M87 167h1M85 181h1M81 183h1M92 131h1M88 158h1M88 180h1M91 186h1M92 135h1M90 150h1M93 177h1M89 186h1M86 181h1M91 142h1M92 150h1M91 170h1M90 147h1M90 188h1M87 164h1M91 175h1M89 132h1M93 150h1M90 180h1M92 146h1M83 162h1M81 182h1M92 174h1M92 140h1M87 158h1M79 175h1M89 185h1M91 186h1M88 188h1M88 153h1M82 176h1M84 161h1M90 178h1M90 179h1M84 167h1M84 168h1M88 148h1M93 169h1M88 146h1M86 171h1M92 164h1M89 183h1M93 176h1M81 111h1M90 162h1M85 161h1M82 186h1M86 182h1M89 177h1M89 145h1M89 189h1M92 160h1M85 158h1M92 154h1M85 176h1M87 186h1M90 138h1M83 173h1M93 173h1M91 180h1M80 135h1M91 188h1M87 148h1M88 174h1M93 185h1M91 180h1M84 187h1M81 156h1M91 176h1M86 126h1M90 166h1M82 179h1M89 176h1M89 164h1M91 175h1M92 179h1M92 177h1M83 183h1M89 173h1M93 179h1M89 175h1M91 176h1M81 189h1M90 186h1M86 185h1M91 126h1M93 144h1M86 177h1M82 160h1M93 183h1M79 192h1M89 158h1M89 172h1M91 184h1M83 187h1M78 163h1M92 168h1M92 162h1M92 186h1M91 177h1M91 155h1M86 186h1M90 85h1M82 156h1M78 190h1M93 155h1M78 172h1M91 152h1M85 162h1M88 184h1M93 163h1M92 186h1M87 174h1M81 180h1M92 70h1M79 177h1M85 169h1M91 168h1M85 152h1M88 133h1M88 185h1M82 151h1M90 166h1M89 169h1M90 121h1M86 161h1M86 182h1M112 160h1M109 170h1M110 182h1M120 79h1M103 173h1M117 180h1M107 185h1M109 179h1M115 185h1M107 125h1M106 181h1M124 182h1M106 152h1M123 183h1M124 152h1M124 152h1M105 160h1M113 180h1M117 53h1M107 158h1M123 178h1M122 169h1M122 185h1M108 99h1M108 163h1M115 147h1M116 188h1M125 189h1M116 158h1M118 124h1M118 131h1M119 181h1M123 160h1M107 166h1M109 173h1M109 184h1M106 183h1M119 141h1M115 184h1M119 146h1M122 149h1M116 179h1M103 170h1M109 181h1M116 184h1M105 152h1M108 105h1M104 189h1M119 140h1M122 181h1M121 160h1M116 131h1M113 179h1M119 158h1M117 32h1M108 152h1M122 164h1M114 160h1M104 56h1M106 188h1M104 164h1M106 161h1M114 176h1M118 161h1M122 179h1M106 125h1M106 156h1M104 116h1M104 182h1M108 165h1M111 160h1M107 165h1M112 176h1M112 182h1M114 184h1M114 160h1M117 184h1M112 167h1M107 156h1M114 189h1M106 163h1M120 172h1M115 93h1M121 154h1M116 164h1M112 145h1M123 161h1M117 169h1M105 174h1M115 153h1M122 150h1M104 167h1M117 189h1M105 166h1M122 169h1M104 165h1M122 184h1M120 132h1M107 189h1M114 185h1M120 108h1M118 162h1M115 153h1M122 179h1M116 148h1M114 188h1M123 165h1M115 48h1M116 187h1M113 169h1M125 175h1M114 180h1M112 183h1M111 155h1M108 168h1M120 164h1M114 190h1M120 179h1M110 179h1M108 146h1M108 178h1M117 157h1M104 77h1M104 188h1M122 164h1M104 133h1M119 155h1M115 133h1M105 162h1M104 159h1M114 181h1M111 68h1M116 105h1M108 161h1M123 173h1M120 187h1M119 167h1M122 150h1M124 189h1M125 168h1M108 169h1M114 173h1M118 128h1M111 180h1M107 167h1M121 119h1M105 140h1M115 160h1M121 125h1M114 162h1M118 165h1M103 149h1M112 182h1M106 184h1M108 74h1M125 185h1M106 144h1M103 47h1M122 87h1M121 145h1M105 135h1M110 180h1M120 191h1M109 190h1M113 161h1M104 127h1M121 85h1M111 152h1M123 170h1M119 175h1M112 157h1M124 163h1M119 179h1M124 188h1M110 183h1M122 186h1M106 157h1M107 145h1M109 136h1M117 150h1M105 91h1M124 154h1M104 137h1M118 147h1M116 179h1M117 185h1M119 163h1M112 178h1M123 190h1M110 121h1M109 62h1M119 176h1M112 191h1M103 133h1M110 165h1M112 150h1M116 188h1M109 180h1M114 168h1M115 63h1M115 169h1M118 175h1M112 143h1M113 186h1M123 152h1M125 184h1M110 179h1M142 147h1M144 180h1M148 189h1M143 176h1M157 163h1M144 168h1M148 154h1M147 180h1M151 188h1M150 182h1M156 174h1M155 174h1M143 162h1M142 191h1M152 179h1M139 163h1M147 169h1M140 186h1M155 142h1M147 55h1M137 160h1M135 161h1M142 168h1M145 180h1M158 172h1M149 159h1M153 135h1M137 171h1M150 162h1M137 138h1M145 172h1M147 165h1M135 53h1M145 141h1M153 185h1M147 184h1M157 156h1M151 154h1M155 135h1M151 173h1M156 185h1M141 188h1M151 165h1M141 175h1M147 175h1M149 175h1M136 165h1M146 178h1M152 185h1M146 173h1M154 176h1M153 143h1M156 158h1M139 144h1M158 190h1M144 125h1M151 156h1M152 149h1M139 191h1M140 132h1M153 187h1M136 150h1M136 181h1M138 169h1M141 183h1M153 149h1M150 66h1M141 171h1M151 187h1M152 162h1M150 148h1M146 166h1M155 165h1M147 191h1M149 153h1M156 147h1M145 171h1M150 186h1M145 181h1M154 182h1M135 183h1M151 185h1M149 182h1M156 181h1M144 130h1M136 173h1M147 132h1M147 174h1M144 157h1M136 149h1M148 155h1M147 175h1M136 158h1M141 152h1M135 129h1M140 48h1M148 159h1M141 188h1M141 124h1M135 165h1M153 183h1M137 184h1M138 147h1M150 166h1M154 160h1M151 163h1M157 137h1M145 179h1M156 140h1M155 167h1M155 185h1M158 175h1M154 114h1M155 157h1M154 130h1M149 160h1M147 158h1M141 110h1M151 141h1M157 165h1M143 166h1M143 67h1M144 130h1M140 169h1M157 167h1M141 143h1M139 163h1M155 163h1M146 162h1M156 183h1M154 123h1M148 172h1M150 147h1M146 157h1M142 167h1M141 173h1M148 165h1M149 142h1M139 185h1M142 189h1M141 165h1M140 150h1M153 169h1M142 137h1M145 179h1M142 172h1M138 180h1M155 147h1M138 70h1M136 170h1M143 184h1M154 143h1M135 171h1M150 163h1M152 114h1M141 142h1M156 40h1M147 138h1M148 172h1M150 131h1M151 121h1M146 181h1M142 182h1M156 172h1M149 170h1M154 154h1M139 138h1M152 176h1M153 169h1M143 144h1M151 170h1M155 179h1M139 149h1M158 190h1M151 163h1M144 73h1M145 185h1M144 181h1M138 134h1M153 179h1M148 86h1M138 170h1M153 157h1M156 180h1M152 166h1M151 178h1M148 170h1M154 129h1M143 64h1M141 177h1M139 165h1M153 173h1M155 167h1M147 152h1M146 165h1M151 183h1M153 179h1M143 166h1M144 165h1M156 61h1M154 135h1M144 174h1M146 179h1M145 149h1M148 164h1M149 135h1M142 170h1M169 174h1M184 173h1M184 164h1M175 176h1M173 75h1M188 189h1M185 146h1M172 168h1M180 118h1M188 154h1M176 180h1M169 164h1M181 186h1M169 63h1M174 183h1M171 190h1M184 170h1M185 125h1M187 178h1M190 173h1M176 158h1M185 185h1M181 168h1M172 169h1M188 150h1M188 68h1M176 158h1M184 172h1M183 182h1M179 167h1M168 118h1M181 131h1M177 176h1M188 152h1M168 162h1M184 175h1M175 160h1M171 184h1M173 172h1M189 188h1M182 162h1M171 164h1M170 184h1M173 134h1M176 155h1M186 185h1M171 183h1M179 150h1M186 147h1M168 176h1M179 186h1M178 125h1M187 167h1M185 162h1M171 176h1M188 173h1M175 171h1M183 178h1M179 179h1M169 148h1M170 186h1M182 187h1M178 143h1M169 178h1M172 158h1M186 159h1M169 151h1M181 178h1M174 183h1M168 180h1M173 147h1M183 119h1M176 121h1M183 182h1M181 138h1M179 185h1M184 178h1M186 182h1M182 173h1M168 114h1M187 182h1M168 134h1M187 174h1M185 188h1M188 189h1M179 185h1M181 177h1M187 79h1M169 157h1M185 166h1M177 184h1M186 174h1M179 147h1M186 117h1M183 166h1M183 173h1M169 170h1M172 168h1M187 162h1M176 137h1M184 68h1M171 167h1M181 190h1M173 157h1M185 174h1M185 173h1M185 175h1M186 171h1M182 168h1M181 160h1M183 174h1M173 176h1M179 147h1M180 182h1M187 156h1M190 113h1M184 178h1M183 168h1M181 178h1M168 175h1M170 150h1M168 160h1M189 182h1M178 114h1M171 145h1M187 124h1M168 189h1M189 176h1M173 139h1M173 122h1M187 187h1M182 189h1M185 185h1M181 177h1M182 157h1M180 136h1M190 85h1M176 146h1M170 180h1M174 169h1M188 172h1M168 124h1M168 184h1M179 112h1M182 162h1M169 152h1M175 167h1M186 182h1M176 171h1M176 163h1M180 144h1M188 159h1M182 190h1M178 184h1M178 108h1M182 171h1M169 162h1M177 168h1M171 133h1M188 187h1M185 182h1M169 189h1M179 153h1M189 165h1M190 64h1M180 190h1M171 40h1M170 162h1M180 94h1M187 184h1M190 156h1M168 145h1M172 177h1M189 106h1M174 130h1M179 178h1M168 114h1M183 187h1M186 84h1M173 97h1M188 177h1M188 169h1M182 185h1M181 79h1M190 168h1M179 39h1M171 158h1M187 166h1M182 64h1M170 164h1M182 100h1M176 86h1M187 109h1M172 186h1M178 41h1M187 127h1M172 169h1M180 138h1M189 179h1M185 174h1M180 171h1M190 181h1M188 170h1M187 184h1M173 185h1M170 155h1M179 177h1M180 162h1M187 162h1M185 133h1M212 162h1M211 158h1M210 135h1M205 112h1M219 176h1M210 75h1M213 172h1M207 152h1M206 101h1M216 156h1M208 136h1M209 35h1M220 110h1M207 146h1M204 135h1M207 143h1M211 147h1M217 122h1M206 184h1M214 146h1M215 182h1M201 177h1M211 154h1M212 142h1M220 123h1M213 152h1M202 152h1M215 164h1M203 152h1M223 176h1M206 103h1M201 148h1M221 183h1M217 187h1M202 129h1M214 154h1M213 155h1M210 129h1M211 102h1M207 182h1M204 172h1M207 29h1M217 169h1M216 167h1M209 140h1M222 147h1M214 164h1M214 101h1M217 191h1M213 117h1M216 164h1M209 169h1M211 165h1M218 173h1M208 139h1M216 156h1M213 190h1M205 189h1M208 185h1M213 171h1M210 158h1M203 180h1M209 168h1M201 188h1M212 181h1M206 129h1M211 176h1M210 136h1M212 168h1M211 160h1M210 184h1M200 124h1M202 142h1M200 185h1M207 149h1M205 169h1M209 129h1M217 160h1M203 186h1M223 183h1M211 84h1M222 142h1M210 173h1M219 165h1M207 179h1M200 159h1M206 174h1M206 161h1M218 97h1M217 186h1M217 162h1M211 177h1M214 107h1M222 129h1M204 184h1M203 152h1M203 151h1M206 39h1M207 159h1M201 158h1M205 105h1M214 150h1M200 158h1M219 163h1M222 21h1M222 138h1M218 112h1M219 141h1M205 159h1M215 154h1M203 159h1M223 173h1M215 126h1M217 180h1M214 146h1M220 159h1M209 164h1M203 96h1M206 162h1M217 142h1M218 151h1M222 170h1M203 172h1M218 171h1M210 156h1M212 184h1M214 103h1M216 177h1M203 161h1M211 177h1M202 140h1M202 119h1M205 189h1M200 114h1M210 143h1M204 158h1M211 166h1M222 104h1M203 174h1M221 188h1M215 157h1M217 181h1M223 170h1M202 190h1M222 176h1M216 155h1M221 161h1M220 153h1M213 148h1M217 180h1M222 189h1M202 78h1M213 148h1M218 184h1M218 189h1M214 182h1M214 81h1M217 160h1M214 25h1M211 153h1M212 178h1M217 169h1M203 177h1M216 171h1M210 130h1M201 175h1M205 126h1M206 179h1M211 102h1M219 21h1M208 113h1M202 163h1M218 173h1M213 174h1M205 181h1M209 180h1M219 146h1M208 172h1M209 171h1M212 165h1M211 155h1M212 175h1M203 178h1M202 189h1M202 129h1M213 147h1M205 181h1M218 182h1M209 167h1M217 175h1M215 154h1M210 157h1M205 181h1M200 84h1M223 118h1M201 177h1M218 124h1M219 93h1M203 156h1M203 188h1M207 138h1M205 144h1M222 116h1M209 151h1M217 169h1M214 159h1M214 143h1M209 155h1M210 99h1M212 155h1M222 187h1M211 183h1M212 165h1M204 184h1M203 173h1M221 134h1M213 147h1M216 131h1M203 157h1M205 159h1M211 182h1M221 168h1M208 133h1M203 178h1M216 134h1M236 184h1M254 151h1M249 145h1M245 156h1M234 156h1M234 143h1M255 91h1M255 148h1M250 139h1M245 189h1M242 177h1M250 183h1M244 154h1M241 114h1M233 156h1M239 147h1M255 137h1M240 178h1M233 162h1M237 160h1M251 175h1M240 175h1M235 163h1M239 91h1M236 159h1M238 161h1M234 153h1M249 159h1M235 128h1M234 118h1M238 175h1M250 164h1M248 174h1M233 177h1M249 165h1M252 183h1M243 162h1M244 182h1M236 27h1M246 159h1M254 150h1M238 145h1M249 152h1M242 160h1M246 183h1M243 141h1M243 145h1M243 142h1M241 139h1M250 168h1M251 172h1M235 120h1M242 162h1M236 167h1M246 104h1M233 137h1M244 131h1M240 141h1M244 152h1M247 167h1M253 175h1M246 170h1M251 113h1M235 190h1M254 172h1M241 147h1M248 150h1M234 186h1M246 178h1M234 87h1M240 172h1M239 157h1M255 173h1M242 168h1M243 156h1M237 184h1M244 173h1M233 128h1M249 187h1M246 153h1M233 79h1M237 183h1M252 175h1M242 184h1M249 180h1M242 184h1M236 127h1M233 182h1M235 178h1M241 123h1M246 117h1M237 110h1M248 147h1M237 155h1M244 123h1M254 156h1M236 141h1M251 172h1M251 172h1M246 144h1M255 185h1M243 182h1M255 155h1M233 132h1M244 160h1M242 164h1M235 184h1M237 142h1M252 142h1M245 188h1M250 141h1M246 169h1M236 157h1M249 122h1M247 127h1M235 181h1M254 180h1M242 180h1M248 165h1M240 127h1M233 131h1M239 182h1M245 120h1M242 100h1M250 170h1M247 181h1M238 151h1M241 151h1M234 145h1M233 163h1M254 119h1M245 140h1M251 88h1M250 176h1M241 104h1M238 26h1M249 144h1M255 150h1M238 157h1M243 104h1M255 175h1M243 91h1M245 177h1M236 160h1M238 176h1M252 186h1M253 64h1M235 179h1M237 168h1M240 182h1M242 186h1M255 81h1M255 154h1M251 156h1M239 129h1M253 161h1M238 184h1M254 136h1M233 173h1M248 187h1M243 154h1M234 168h1M240 155h1M240 151h1M242 145h1M248 184h1M235 99h1M234 126h1M234 188h1M238 189h1M236 175h1M254 163h1M237 183h1M239 168h1M240 172h1M254 166h1M233 155h1M250 143h1M253 170h1M251 135h1M247 157h1M253 155h1M241 126h1M236 174h1M239 190h1M243 121h1M254 162h1M247 183h1M254 93h1M236 146h1M239 142h1M234 181h1M255 146h1M244 174h1M245 180h1M233 170h1M236 187h1M239 149h1M245 171h1M241 162h1M243 138h1M235 140h1M239 187h1M253 154h1M252 158h1M255 161h1M255 157h1M251 173h1M246 126h1M242 168h1M240 183h1M238 178h1M240 176h1M254 166h1M251 173h1M244 139h1M252 178h1M246 187h1M249 146h1M237 190h1M275 116h1M277 179h1M267 161h1M276 174h1M286 140h1M277 159h1M280 162h1M270 132h1M269 164h1M287 172h1M273 118h1M283 131h1M287 136h1M268 172h1M266 149h1M269 186h1M270 149h1M285 182h1M287 172h1M280 174h1M270 158h1M284 162h1M286 188h1M285 118h1M265 82h1M281 148h1M272 146h1M284 174h1M285 139h1M274 174h1M286 180h1M287 132h1M276 159h1M276 115h1M273 101h1M268 145h1M282 107h1M266 180h1M287 185h1M279 141h1M266 178h1M278 172h1M266 144h1M281 111h1M277 172h1M281 109h1M271 159h1M286 148h1M281 184h1M288 175h1M265 187h1M270 115h1M272 156h1M284 163h1M285 147h1M278 175h1M282 160h1M281 98h1M285 146h1M276 142h1M274 58h1M266 144h1M285 158h1M269 150h1M266 120h1M276 173h1M283 184h1M282 180h1M286 182h1M266 177h1M269 184h1M281 145h1M270 138h1M268 173h1M279 115h1M271 175h1M278 168h1M275 171h1M267 160h1M276 103h1M283 125h1M288 154h1M266 150h1M268 106h1M267 145h1M285 135h1M287 159h1M276 48h1M272 166h1M282 124h1M274 159h1M268 160h1M288 173h1M279 148h1M276 121h1M282 180h1M278 100h1M267 171h1M278 117h1M272 186h1M283 172h1M279 161h1M265 72h1M266 170h1M278 177h1M274 189h1M265 149h1M267 157h1M269 150h1M279 99h1M268 176h1M288 183h1M268 163h1M269 160h1M271 150h1M283 156h1M273 160h1M287 189h1M283 84h1M275 144h1M277 126h1M280 176h1M273 180h1M269 149h1M283 189h1M276 175h1M269 119h1M274 158h1M267 182h1M276 75h1M288 181h1M283 158h1M275 180h1M266 176h1M270 167h1M272 157h1M276 160h1M265 161h1M286 171h1M274 180h1M279 81h1M267 159h1M282 180h1M284 69h1M279 167h1M283 162h1M267 167h1M268 144h1M273 171h1M282 37h1M285 175h1M270 114h1M281 160h1M282 190h1M284 153h1M282 141h1M283 104h1M287 174h1M281 140h1M269 158h1M282 179h1M272 187h1M285 119h1M284 131h1M268 184h1M283 181h1M271 126h1M288 166h1M266 186h1M278 164h1M266 169h1M270 188h1M271 158h1M273 118h1M282 163h1M271 157h1M266 85h1M272 182h1M280 179h1M281 180h1M276 159h1M284 138h1M277 182h1M274 137h1M269 162h1M269 168h1M270 106h1M286 148h1M273 154h1M284 88h1M281 170h1M269 113h1M265 183h1M282 174h1M267 175h1M267 171h1M274 122h1M268 123h1M265 147h1M270 135h1M275 153h1M279 175h1M276 167h1M281 168h1M274 166h1M266 136h1M276 163h1M280 127h1M266 76h1M266 161h1M275 161h1M285 145h1M276 138h1M287 179h1M269 173h1M271 116h1M277 164h1M275 155h1M267 164h1M283 155h1M267 131h1M285 167h1M277 120h1M276 187h1M305 155h1M300 189h1M300 169h1M302 181h1M308 160h1M300 105h1M302 180h1M298 165h1M298 160h1M298 167h1M300 160h1M298 185h1M299 177h1M300 73h1M301 115h1M298 157h1M299 154h1M302 169h1M301 179h1M299 88h1M302 177h1M299 170h1M299 140h1M304 169h1M305 144h1M298 160h1M298 149h1M306 179h1M306 175h1M300 177h1M298 164h1M310 168h1M301 180h1M299 153h1M300 165h1M303 164h1M314 110h1M305 159h1M300 131h1M301 158h1M298 139h1M298 144h1M299 69h1M301 182h1M299 146h1M302 178h1M301 131h1M299 180h1M299 110h1M307 160h1M300 142h1M304 116h1M302 136h1M298 69h1M301 139h1M303 141h1M306 88h1M300 182h1M307 184h1M302 187h1M306 146h1M298 165h1M301 165h1M302 174h1M300 152h1M299 132h1M303 180h1M298 153h1M301 175h1M301 158h1M301 120h1M298 179h1M301 135h1M298 105h1M308 160h1M300 147h1M303 127h1M298 181h1M306 154h1M298 157h1M298 125h1M303 183h1M299 58h1M304 113h1M299 177h1M298 179h1M299 113h1M298 160h1M302 180h1M299 130h1M300 70h1M304 126h1M298 134h1M298 107h1M301 176h1M302 100h1M302 96h1M302 140h1M303 189h1M300 157h1M299 120h1M299 157h1M298 167h1M303 132h1M299 150h1M300 170h1M302 109h1M300 146h1M303 150h1M299 127h1M302 96h1M304 99h1M308 163h1M298 166h1M300 167h1M302 160h1M301 166h1M300 177h1M303 148h1M299 156h1M301 182h1M301 165h1M300 122h1M298 137h1M301 150h1M308 59h1M300 144h1M304 172h1M298 127h1M300 146h1M299 105h1M302 185h1M304 185h1M298 178h1M300 175h1M299 138h1M310 179h1M309 167h1M299 136h1M301 174h1M298 175h1M299 155h1M305 114h1M302 101h1M304 145h1M299 104h1M301 169h1M299 120h1M302 95h1M300 138h1M302 164h1M298 103h1M298 181h1M300 157h1M307 159h1M302 168h1M298 158h1M301 147h1M304 146h1M301 127h1M302 155h1M300 158h1M307 183h1M303 127h1M304 181h1M303 161h1M298 169h1M298 188h1M300 180h1M298 102h1M305 154h1M302 166h1M300 166h1M299 167h1M309 125h1M306 147h1M299 128h1M300 156h1M304 159h1M300 120h1M303 183h1M300 149h1M301 176h1M309 161h1M298 126h1M302 164h1M305 101h1M302 138h1M300 144h1M298 149h1M302 173h1M298 110h1M298 159h1M305 151h1M300 169h1M307 183h1M303 160h1M298 169h1M298 185h1M299 178h1M298 136h1M298 162h1M298 151h1M299 109h1M299 145h1M300 134h1M311 178h1M302 165h1M303 132h1M301 149h1M305 174h1M300 165h1M304 150h1M303 134h1M305 110h1M299 124h1M304 163h1M304 133h1M298 108h1M299 89h1M299 162h1M300 156h1M298 171h1M300 166h1"/>
<rect x="69.50" y="11.00" width="25.00" height="189.00" fill="none" stroke="#444" stroke-width="1"/>
<line x1="69.50" x2="94.50" y1="169.50" y2="169.50" stroke="#333" stroke-width="1"/>
<line x1="64.00" x2="69.50" y1="193.90" y2="193.90" stroke="#444" stroke-width="1"/>
<line x1="64.00" x2="69.50" y1="158.76" y2="158.76" stroke="#444" stroke-width="1"/>
<line x1="64.00" x2="69.50" y1="123.62" y2="123.62" stroke="#444" stroke-width="1"/>
<line x1="64.00" x2="69.50" y1="88.48" y2="88.48" stroke="#444" stroke-width="1"/>
<line x1="64.00" x2="69.50" y1="53.34" y2="53.34" stroke="#444" stroke-width="1"/>
<line x1="64.00" x2="69.50" y1="18.20" y2="18.20" stroke="#444" stroke-width="1"/>
<rect x="102.00" y="11.00" width="25.00" height="189.00" fill="none" stroke="#444" stroke-width="1"/>
<line x1="102.00" x2="127.00" y1="168.50" y2="168.50" stroke="#333" stroke-width="1"/>
<line x1="99.00" x2="102.00" y1="193.90" y2="193.90" stroke="#444" stroke-width="1"/>
<line x1="99.00" x2="102.00" y1="158.76" y2="158.76" stroke="#444" stroke-width="1"/>
<line x1="99.00" x2="102.00" y1="123.62" y2="123.62" stroke="#444" stroke-width="1"/>
<line x1="99.00" x2="102.00" y1="88.48" y2="88.48" stroke="#444" stroke-width="1"/>
<line x1="99.00" x2="102.00" y1="53.34" y2="53.34" stroke="#444" stroke-width="1"/>
<line x1="99.00" x2="102.00" y1="18.20" y2="18.20" stroke="#444" stroke-width="1"/>
<rect x="134.50" y="11.00" width="25.00" height="189.00" fill="none" stroke="#444" stroke-width="1"/>
<line x1="134.50" x2="159.50" y1="167.50" y2="167.50" stroke="#333" stroke-width="1"/>
<line x1="131.50" x2="134.50" y1="193.90" y2="193.90" stroke="#444" stroke-width="1"/>
<line x1="131.50" x2="134.50" y1="158.76" y2="158.76" stroke="#444" stroke-width="1"/>
<line x1="131.50" x2="134.50" y1="123.62" y2="123.62" stroke="#444" stroke-width="1"/>
<line x1="131.50" x2="134.50" y1="88.48" y2="88.48" stroke="#444" stroke-width="1"/>
<line x1="131.50" x2="134.50" y1="53.34" y2="53.34" stroke="#444" stroke-width="1"/>
<line x1="131.50" x2="134.50" y1="18.20" y2="18.20" stroke="#444" stroke-width="1"/>
<rect x="167.00" y="11.00" width="25.00" height="189.00" fill="none" stroke="#444" stroke-width="1"/>
<line x1="167.00" x2="192.00" y1="166.50" y2="166.50" stroke="#333" stroke-width="1"/>
<line x1="164.00" x2="167.00" y1="193.90" y2="193.90" stroke="#444" stroke-width="1"/>
<line x1="164.00" x2="167.00" y1="158.76" y2="158.76" stroke="#444" stroke-width="1"/>
<line x1="164.00" x2="167.00" y1="123.62" y2="123.62" stroke="#444" stroke-width="1"/>
<line x1="164.00" x2="167.00" y1="88.48" y2="88.48" stroke="#444" stroke-width="1"/>
<line x1="164.00" x2="167.00" y1="53.34" y2="53.34" stroke="#444" stroke-width="1"/>
<line x1="164.00" x2="167.00" y1="18.20" y2="18.20" stroke="#444" stroke-width="1"/>
<rect x="199.50" y="11.00" width="25.00" height="189.00" fill="none" stroke="#444" stroke-width="1"/>
<line x1="199.50" x2="224.50" y1="163.50" y2="163.50" stroke="#333" stroke-width="1"/>
<line x1="196.50" x2="199.50" y1="193.90" y2="193.90" stroke="#444" stroke-width="1"/>
<line x1="196.50" x2="199.50" y1="158.76" y2="158.76" stroke="#444" stroke-width="1"/>
<line x1="196.50" x2="199.50" y1="123.62" y2="123.62" stroke="#444" stroke-width="1"/>
<line x1="196.50" x2="199.50" y1="88.48" y2="88.48" stroke="#444" stroke-width="1"/>
<line x1="196.50" x2="199.50" y1="53.34" y2="53.34" stroke="#444" stroke-width="1"/>
<line x1="196.50" x2="199.50" y1="18.20" y2="18.20" stroke="#444" stroke-width="1"/>
<rect x="232.00" y="11.00" width="25.00" height="189.00" fill="none" stroke="#444" stroke-width="1"/>
<line x1="232.00" x2="257.00" y1="160.50" y2="160.50" stroke="#333" stroke-width="1"/>
<line x1="229.00" x2="232.00" y1="193.90" y2="193.90" stroke="#444" stroke-width="1"/>
<line x1="229.00" x2="232.00" y1="158.76" y2="158.76" stroke="#444" stroke-width="1"/>
<line x1="229.00" x2="232.00" y1="123.62" y2="123.62" stroke="#444" stroke-width="1"/>
<line x1="229.00" x2="232.00" y1="88.48" y2="88.48" stroke="#444" stroke-width="1"/>
<line x1="229.00" x2="232.00" y1="53.34" y2="53.34" stroke="#444" stroke-width="1"/>
<line x1="229.00" x2="232.00" y1="18.20" y2="18.20" stroke="#444" stroke-width="1"/>
<rect x="264.50" y="11.00" width="25.00" height="189.00" fill="none" stroke="#444" stroke-width="1"/>
<line x1="264.50" x2="289.50" y1="159.50" y2="159.50" stroke="#333" stroke-width="1"/>
<line x1="261.50" x2="264.50" y1="193.90" y2="193.90" stroke="#444" stroke-width="1"/>
<line x1="261.50" x2="264.50" y1="158.76" y2="158.76" stroke="#444" stroke-width="1"/>
<line x1="261.50" x2="264.50" y1="123.62" y2="123.62" stroke="#444" stroke-width="1"/>
<line x1="261.50" x2="264.50" y1="88.48" y2="88.48" stroke="#444" stroke-width="1"/>
<line x1="261.50" x2="264.50" y1="53.34" y2="53.34" stroke="#444" stroke-width="1"/>
<line x1="261.50" x2="264.50" y1="18.20" y2="18.20" stroke="#444" stroke-width="1"/>
<rect x="297.00" y="11.00" width="25.00" height="189.00" fill="none" stroke="#444" stroke-width="1"/>
<line x1="297.00" x2="322.00" y1="151.50" y2="151.50" stroke="#333" stroke-width="1"/>
<line x1="294.00" x2="297.00" y1="193.90" y2="193.90" stroke="#444" stroke-width="1"/>
<line x1="294.00" x2="297.00" y1="158.76" y2="158.76" stroke="#444" stroke-width="1"/>
<line x1="294.00" x2="297.00" y1="123.62" y2="123.62" stroke="#444" stroke-width="1"/>
<line x1="294.00" x2="297.00" y1="88.48" y2="88.48" stroke="#444" stroke-width="1"/>
<line x1="294.00" x2="297.00" y1="53.34" y2="53.34" stroke="#444" stroke-width="1"/>
<line x1="294.00" x2="297.00" y1="18.20" y2="18.20" stroke="#444" stroke-width="1"/>
<line x1="69" x2="322.5" y1="201" y2="201" stroke="#000" stroke-width="2"/>
<text x="60" y="197.10" text-anchor="end" font-size="9.3">0.0</text>
<text x="60" y="161.96" text-anchor="end" font-size="9.3">0.2</text>
<text x="60" y="126.82" text-anchor="end" font-size="9.3">0.4</text>
<text x="60" y="91.68" text-anchor="end" font-size="9.3">0.6</text>
<text x="60" y="56.54" text-anchor="end" font-size="9.3">0.8</text>
<text x="60" y="21.40" text-anchor="end" font-size="9.3">1.0</text>
<text x="69.6" y="213.4" text-anchor="middle" font-size="9.3">0.0</text>
<text x="125.8" y="213.4" text-anchor="middle" font-size="9.3">0.25</text>
<text x="192.5" y="213.4" text-anchor="middle" font-size="9.3">0.5</text>
<text x="257.8" y="213.4" text-anchor="middle" font-size="9.3">0.75</text>
<text x="326.9" y="213.4" text-anchor="middle" font-size="9.3">1.0</text>
<text x="195.5" y="228.6" text-anchor="middle" font-size="10.3">Recombination rate quantile</text>
<text transform="translate(37.7,105.6) rotate(-90)" text-anchor="middle" font-size="10.0">Inheritance proportion from <tspan font-style="italic">C. mollissima</tspan></text>
<text x="-1" y="10.8" font-size="15" font-weight="bold">a</text>
<path stroke="#333" stroke-width="1" fill="none" transform="translate(0,0.5)" d="M443 181h1M440 177h1M436 179h1M441 188h1M438 176h1M439 184h1M443 137h1M442 185h1M444 179h1M443 174h1M441 186h1M437 186h1M442 183h1M434 165h1M433 176h1M444 179h1M444 178h1M432 181h1M437 177h1M441 160h1M438 185h1M433 169h1M445 185h1M433 189h1M439 161h1M445 184h1M441 175h1M436 162h1M445 185h1M444 125h1M441 108h1M444 140h1M441 183h1M445 154h1M445 169h1M438 181h1M427 167h1M437 184h1M445 117h1M439 191h1M440 180h1M435 175h1M442 129h1M428 190h1M440 172h1M444 180h1M439 149h1M440 151h1M443 173h1M443 169h1M445 187h1M438 183h1M438 172h1M437 189h1M436 182h1M442 168h1M443 179h1M445 172h1M437 169h1M437 175h1M444 176h1M433 172h1M445 120h1M443 132h1M445 153h1M442 172h1M441 182h1M444 187h1M443 126h1M441 181h1M444 144h1M440 161h1M444 170h1M443 189h1M437 188h1M445 159h1M436 178h1M443 155h1M440 185h1M441 182h1M443 173h1M435 175h1M441 174h1M443 178h1M444 163h1M435 171h1M445 145h1M436 139h1M434 171h1M441 158h1M445 173h1M438 170h1M435 159h1M442 178h1M435 189h1M440 164h1M433 183h1M439 176h1M444 146h1M437 171h1M445 185h1M436 184h1M445 179h1M443 155h1M440 128h1M443 168h1M440 177h1M428 187h1M434 189h1M439 189h1M441 162h1M441 178h1M440 155h1M437 163h1M444 180h1M438 173h1M443 150h1M434 162h1M445 142h1M441 156h1M435 174h1M441 183h1M439 184h1M438 180h1M444 169h1M441 150h1M439 190h1M443 148h1M434 185h1M436 176h1M443 147h1M442 130h1M443 151h1M444 136h1M441 172h1M444 162h1M444 170h1M442 82h1M439 155h1M444 139h1M443 179h1M440 180h1M442 187h1M443 183h1M443 161h1M438 161h1M434 162h1M442 172h1M436 178h1M443 100h1M442 185h1M444 181h1M439 164h1M431 187h1M438 166h1M440 136h1M441 188h1M441 185h1M438 187h1M445 131h1M445 177h1M440 152h1M442 134h1M443 116h1M441 162h1M442 130h1M444 156h1M442 181h1M439 191h1M444 179h1M444 114h1M441 180h1M437 175h1M442 161h1M440 179h1M443 120h1M436 170h1M443 185h1M439 169h1M437 174h1M442 175h1M443 182h1M444 188h1M430 190h1M442 167h1M445 155h1M444 171h1M441 163h1M441 86h1M440 145h1M445 90h1M443 169h1M435 191h1M445 176h1M441 164h1M438 165h1M469 180h1M470 188h1M468 184h1M466 185h1M458 143h1M457 188h1M459 148h1M466 163h1M476 170h1M475 149h1M466 149h1M476 139h1M467 166h1M460 138h1M461 166h1M473 155h1M460 178h1M468 131h1M474 185h1M461 178h1M463 114h1M468 182h1M463 178h1M476 123h1M477 73h1M457 176h1M459 149h1M472 180h1M468 151h1M475 167h1M477 107h1M463 136h1M472 190h1M477 120h1M469 146h1M463 171h1M475 148h1M475 103h1M465 183h1M456 165h1M477 170h1M460 147h1M471 173h1M464 148h1M472 165h1M455 179h1M476 171h1M459 179h1M464 160h1M463 175h1M458 188h1M477 164h1M461 174h1M465 145h1M455 161h1M468 162h1M461 155h1M474 115h1M469 148h1M463 127h1M465 170h1M471 165h1M474 128h1M467 162h1M469 163h1M467 179h1M469 172h1M476 190h1M466 170h1M477 148h1M458 159h1M468 161h1M463 121h1M467 169h1M477 187h1M475 157h1M457 188h1M466 176h1M475 161h1M466 181h1M468 163h1M464 165h1M465 155h1M470 155h1M474 159h1M456 88h1M460 187h1M463 182h1M477 161h1M477 151h1M477 182h1M475 168h1M477 186h1M467 115h1M469 172h1M469 138h1M462 167h1M476 113h1M464 119h1M460 152h1M471 157h1M461 154h1M460 164h1M458 171h1M469 170h1M462 167h1M477 182h1M475 151h1M457 79h1M459 98h1M474 182h1M477 183h1M465 154h1M472 170h1M469 187h1M470 150h1M464 183h1M470 159h1M476 155h1M471 186h1M466 164h1M456 176h1M465 141h1M469 188h1M462 176h1M460 187h1M457 183h1M461 76h1M469 138h1M464 105h1M456 129h1M464 170h1M457 152h1M461 149h1M461 109h1M461 143h1M473 172h1M465 136h1M456 144h1M462 145h1M475 140h1M472 144h1M455 171h1M476 143h1M459 180h1M474 161h1M474 153h1M455 186h1M456 158h1M466 126h1M475 156h1M470 122h1M466 148h1M476 144h1M477 139h1M475 130h1M460 186h1M476 180h1M470 143h1M456 176h1M493 136h1M509 138h1M500 170h1M498 174h1M498 189h1M502 166h1M505 182h1M501 167h1M509 170h1M509 78h1M509 171h1M500 148h1M498 186h1M503 185h1M502 175h1M490 172h1M503 170h1M492 179h1M506 153h1M489 154h1M499 177h1M501 184h1M500 178h1M503 175h1M501 174h1M509 172h1M488 174h1M508 148h1M489 180h1M505 149h1M510 158h1M491 158h1M509 184h1M489 185h1M488 180h1M498 176h1M508 164h1M490 178h1M497 179h1M502 137h1M500 144h1M510 152h1M510 172h1M496 146h1M510 175h1M505 148h1M494 136h1M498 134h1M491 187h1M499 124h1M492 132h1M490 164h1M509 163h1M500 178h1M488 163h1M489 162h1M504 169h1M495 163h1M501 66h1M489 188h1M509 177h1M503 168h1M488 86h1M508 161h1M502 185h1M492 162h1M501 175h1M508 143h1M499 118h1M499 135h1M504 183h1M496 166h1M510 141h1M490 170h1M508 163h1M504 165h1M505 166h1M488 177h1M492 162h1M497 154h1M506 152h1M499 153h1M502 176h1M510 176h1M499 143h1M509 139h1M495 184h1M500 144h1M490 146h1M495 184h1M510 136h1M507 185h1M495 172h1M503 187h1M487 133h1M499 161h1M490 157h1M489 175h1M491 151h1M493 153h1M499 155h1M491 180h1M500 169h1M507 157h1M508 177h1M498 105h1M488 147h1M498 180h1M491 172h1M493 171h1M493 163h1M498 184h1M503 166h1M509 167h1M493 153h1M505 185h1M492 177h1M492 179h1M503 100h1M495 129h1M508 128h1M508 176h1M491 165h1M496 170h1M501 174h1M504 143h1M509 130h1M489 107h1M508 159h1M491 165h1M500 163h1M499 162h1M499 187h1M493 78h1M502 140h1M495 174h1M503 38h1M495 181h1M504 152h1M489 152h1M498 174h1M504 180h1M505 126h1M503 148h1M502 138h1M491 179h1M506 188h1M503 182h1M510 156h1M504 188h1M492 167h1M494 170h1M487 174h1M488 173h1M487 151h1M497 162h1M508 185h1M500 168h1M510 168h1M495 180h1M495 176h1M536 156h1M527 180h1M528 168h1M532 177h1M532 153h1M537 79h1M529 90h1M540 137h1M522 157h1M536 136h1M540 142h1M533 165h1M527 188h1M520 103h1M522 142h1M525 178h1M522 163h1M533 146h1M531 150h1M539 152h1M524 170h1M532 118h1M526 184h1M523 130h1M542 150h1M534 180h1M525 187h1M530 185h1M530 148h1M538 177h1M526 170h1M529 163h1M542 136h1M532 182h1M527 160h1M522 186h1M542 186h1M528 189h1M523 156h1M539 175h1M536 154h1M538 173h1M535 183h1M526 131h1M539 146h1M521 166h1M522 165h1M528 188h1M531 184h1M522 97h1M530 179h1M524 147h1M530 72h1M534 165h1M526 186h1M537 146h1M529 173h1M523 165h1M521 165h1M542 178h1M531 184h1M523 142h1M522 122h1M530 144h1M527 159h1M534 66h1M525 185h1M524 181h1M538 147h1M532 173h1M537 188h1M522 178h1M520 166h1M526 122h1M539 167h1M529 165h1M521 108h1M524 159h1M531 162h1M519 111h1M537 179h1M533 182h1M542 178h1M521 160h1M528 171h1M540 132h1M521 159h1M542 138h1M539 127h1M522 155h1M523 143h1M531 51h1M531 164h1M522 171h1M535 173h1M538 149h1M535 185h1M540 102h1M531 164h1M527 163h1M527 173h1M541 184h1M520 186h1M533 176h1M523 186h1M528 155h1M528 180h1M537 179h1M521 183h1M528 183h1M522 135h1M525 139h1M522 187h1M530 163h1M534 179h1M537 158h1M530 166h1M538 92h1M526 154h1M528 158h1M538 153h1M524 185h1M526 181h1M528 177h1M538 176h1M536 129h1M534 159h1M520 170h1M519 164h1M535 180h1M530 139h1M523 170h1M520 166h1M533 159h1M542 172h1M527 173h1M529 162h1M529 188h1M530 153h1M538 150h1M530 150h1M530 149h1M520 152h1M532 178h1M536 115h1M537 152h1M522 158h1M535 179h1M535 144h1M526 154h1M536 190h1M522 155h1M535 188h1M524 176h1M540 186h1M528 187h1M536 162h1M533 152h1M525 157h1M541 174h1M540 181h1M524 171h1M540 153h1M538 179h1M534 165h1M562 98h1M568 166h1M574 144h1M565 108h1M560 187h1M554 170h1M565 102h1M555 170h1M573 123h1M574 136h1M558 186h1M574 142h1M565 145h1M566 162h1M564 135h1M558 153h1M566 140h1M567 161h1M568 155h1M568 125h1M558 177h1M557 116h1M573 165h1M562 166h1M566 179h1M557 128h1M555 182h1M566 179h1M558 149h1M571 102h1M572 165h1M560 145h1M553 155h1M559 176h1M564 167h1M564 171h1M562 156h1M558 113h1M558 85h1M564 168h1M562 183h1M552 157h1M574 143h1M574 173h1M554 152h1M568 178h1M566 179h1M566 184h1M558 180h1M560 164h1M568 179h1M555 170h1M561 185h1M573 139h1M565 151h1M556 146h1M564 179h1M564 175h1M575 101h1M561 166h1M555 182h1M563 126h1M562 163h1M567 179h1M573 179h1M555 164h1M565 170h1M563 122h1M563 187h1M567 175h1M559 183h1M574 154h1M555 180h1M561 179h1M563 169h1M561 155h1M565 184h1M559 172h1M565 188h1M567 181h1M553 166h1M558 189h1M565 172h1M552 183h1M571 167h1M557 94h1M567 184h1M571 136h1M560 52h1M572 97h1M553 166h1M571 166h1M553 111h1M574 149h1M563 105h1M559 134h1M556 180h1M573 189h1M556 167h1M553 156h1M559 131h1M566 135h1M557 57h1M556 183h1M556 160h1M554 144h1M567 155h1M567 130h1M554 188h1M557 153h1M564 133h1M564 170h1M554 140h1M568 158h1M555 98h1M552 176h1M573 170h1M572 157h1M570 132h1M569 98h1M571 154h1M568 70h1M561 170h1M564 135h1M573 115h1M554 164h1M562 139h1M567 146h1M572 147h1M565 158h1M571 183h1M555 89h1M555 163h1M570 180h1M552 164h1M572 168h1M554 157h1M571 121h1M572 61h1M572 186h1M574 176h1M558 184h1M571 50h1M569 140h1M558 153h1M557 149h1M568 174h1M569 186h1M569 145h1M574 146h1M557 185h1M553 138h1M571 167h1M554 157h1M556 173h1M560 154h1M558 144h1M568 151h1M567 176h1M595 93h1M604 178h1M590 170h1M593 57h1M585 180h1M593 176h1M596 187h1M588 175h1M585 175h1M597 177h1M604 131h1M604 137h1M588 132h1M600 106h1M602 126h1M602 150h1M592 178h1M590 138h1M597 163h1M600 138h1M590 189h1M586 164h1M601 146h1M585 179h1M601 160h1M594 165h1M603 169h1M589 139h1M585 126h1M606 155h1M588 135h1M586 182h1M589 154h1M586 163h1M594 178h1M594 162h1M592 175h1M603 151h1M601 166h1M592 125h1M596 74h1M604 163h1M599 102h1M584 147h1M590 117h1M600 165h1M588 178h1M590 158h1M589 178h1M604 187h1M607 172h1M607 145h1M601 179h1M586 99h1M601 150h1M603 153h1M598 152h1M585 159h1M584 185h1M598 139h1M599 120h1M590 153h1M589 172h1M594 184h1M585 120h1M601 171h1M597 145h1M584 156h1M587 181h1M601 129h1M597 158h1M595 143h1M589 115h1M598 142h1M595 116h1M586 185h1M595 163h1M597 172h1M603 171h1M589 166h1M607 149h1M593 189h1M586 139h1M594 70h1M603 137h1M599 98h1M595 170h1M604 152h1M597 101h1M596 153h1M592 160h1M603 154h1M587 188h1M587 169h1M591 128h1M588 155h1M588 173h1M587 125h1M593 151h1M584 133h1M586 140h1M596 150h1M594 84h1M596 181h1M597 182h1M589 170h1M606 132h1M585 152h1M594 44h1M601 129h1M605 132h1M601 136h1M603 180h1M593 139h1M585 106h1M597 160h1M592 176h1M592 188h1M593 162h1M600 177h1M594 163h1M588 164h1M595 173h1M601 101h1M594 120h1M604 181h1M595 155h1M592 116h1M598 175h1M594 147h1M595 48h1M590 159h1M592 137h1M585 146h1M585 188h1M595 109h1M585 144h1M599 180h1M596 116h1M604 167h1M603 171h1M599 68h1M605 169h1M590 101h1M602 156h1M593 154h1M600 168h1M595 164h1M606 161h1M624 169h1M626 164h1M634 153h1M627 141h1M633 154h1M638 145h1M632 109h1M625 183h1M634 61h1M621 140h1M620 183h1M621 144h1M618 130h1M635 151h1M620 165h1M634 151h1M619 143h1M630 153h1M625 150h1M626 51h1M630 113h1M631 155h1M622 160h1M639 169h1M623 132h1M627 160h1M625 184h1M634 172h1M617 180h1M637 126h1M635 176h1M629 81h1M635 137h1M637 150h1M636 149h1M617 140h1M619 117h1M631 170h1M628 168h1M625 141h1M620 151h1M622 138h1M627 185h1M639 159h1M625 115h1M637 97h1M623 183h1M638 180h1M627 140h1M618 175h1M630 148h1M635 93h1M632 181h1M626 107h1M627 154h1M630 176h1M623 147h1M620 146h1M623 57h1M618 47h1M625 145h1M621 124h1M631 186h1M620 166h1M617 130h1M617 159h1M637 124h1M629 160h1M632 134h1M627 168h1M638 85h1M620 154h1M626 165h1M637 138h1M637 159h1M631 143h1M618 179h1M625 174h1M629 108h1M618 121h1M620 179h1M619 176h1M637 152h1M639 112h1M633 157h1M630 162h1M630 147h1M618 93h1M619 160h1M626 62h1M629 186h1M636 169h1M622 128h1M618 156h1M628 158h1M619 184h1M627 138h1M636 181h1M619 157h1M634 163h1M636 135h1M617 169h1M617 139h1M621 114h1M632 115h1M623 121h1M618 185h1M625 122h1M636 108h1M632 157h1M623 131h1M634 154h1M631 177h1M627 164h1M620 127h1M626 168h1M626 169h1M638 183h1M636 128h1M629 31h1M619 91h1M635 174h1M618 162h1M623 151h1M629 180h1M638 139h1M639 149h1M638 172h1M621 46h1M619 112h1M623 139h1M622 189h1M637 117h1M620 167h1M631 180h1M626 22h1M630 129h1M619 172h1M622 138h1M636 134h1M621 116h1M618 168h1M626 73h1M628 186h1M636 137h1M633 97h1M656 147h1M649 92h1M650 85h1M653 164h1M650 104h1M651 186h1M650 159h1M649 54h1M655 118h1M650 179h1M656 142h1M653 77h1M652 164h1M657 140h1M651 128h1M650 158h1M659 179h1M654 148h1M653 135h1M649 93h1M653 171h1M664 164h1M653 146h1M651 139h1M652 124h1M662 150h1M652 70h1M653 172h1M650 141h1M649 184h1M653 179h1M656 177h1M651 170h1M650 160h1M650 105h1M649 118h1M653 167h1M650 154h1M653 112h1M649 80h1M659 162h1M652 132h1M653 135h1M653 144h1M652 168h1M652 110h1M651 175h1M649 149h1M649 166h1M653 145h1M651 170h1M650 98h1M653 145h1M649 164h1M653 144h1M651 181h1M661 185h1M649 140h1M651 149h1M652 56h1M649 148h1M654 181h1M650 114h1M655 183h1M654 181h1M653 184h1M650 168h1M656 165h1M663 118h1M650 146h1M652 102h1M650 145h1M649 161h1M652 166h1M651 152h1M650 136h1M650 137h1M654 187h1M660 165h1M658 162h1M650 166h1M652 171h1M651 184h1M655 176h1M649 141h1M650 177h1M658 146h1M653 134h1M651 146h1M649 140h1M650 72h1M652 186h1M657 147h1M656 123h1M653 176h1M658 99h1M656 181h1M660 172h1M657 173h1M650 111h1M654 158h1M649 119h1M651 134h1M650 115h1M657 166h1M652 170h1M651 183h1M655 120h1M650 117h1M650 185h1M655 75h1M649 174h1M653 184h1M650 149h1M656 168h1M653 131h1M650 166h1M656 182h1M652 182h1M654 161h1M654 116h1M651 148h1M659 167h1M653 179h1M653 137h1M651 94h1M657 173h1M650 164h1M651 147h1M650 115h1M649 164h1M652 95h1M649 158h1M652 120h1M649 156h1M655 134h1M660 159h1M653 117h1M657 158h1M649 169h1M651 126h1M660 135h1M649 176h1M654 169h1M651 127h1M650 162h1M650 132h1M650 95h1M652 143h1M649 177h1M657 130h1M653 161h1M649 143h1M650 177h1M651 172h1M651 127h1M649 130h1"/>
<path stroke="#666" stroke-width="1" fill="none" transform="translate(0,0.5)" d="M435 187h1M442 135h1M442 161h1M444 154h1M434 175h1M431 191h1M438 165h1M443 173h1M442 175h1M432 178h1M442 187h1M445 152h1M437 185h1M439 186h1M444 136h1M444 161h1M444 176h1M438 183h1M445 158h1M444 162h1M440 161h1M436 169h1M437 164h1M440 147h1M443 166h1M438 182h1M435 158h1M443 152h1M443 165h1M445 178h1M438 188h1M440 176h1M439 166h1M443 174h1M435 179h1M441 182h1M443 174h1M441 187h1M442 179h1M442 178h1M443 174h1M440 167h1M443 178h1M442 131h1M432 191h1M443 153h1M444 168h1M442 174h1M436 162h1M437 169h1M428 174h1M436 157h1M441 160h1M444 182h1M440 182h1M441 148h1M438 184h1M443 126h1M440 184h1M445 128h1M441 152h1M441 184h1M437 175h1M443 188h1M442 185h1M441 139h1M442 176h1M437 183h1M442 162h1M440 177h1M440 187h1M441 157h1M444 177h1M445 182h1M438 182h1M434 150h1M442 133h1M443 175h1M434 161h1M441 190h1M438 143h1M445 167h1M442 171h1M444 168h1M437 183h1M433 172h1M442 166h1M444 172h1M443 116h1M439 181h1M440 167h1M441 175h1M443 174h1M435 185h1M444 147h1M440 169h1M445 185h1M433 172h1M444 189h1M439 174h1M434 175h1M444 169h1M439 171h1M438 177h1M434 183h1M436 179h1M443 162h1M441 158h1M444 128h1M437 185h1M434 187h1M440 90h1M443 118h1M438 182h1M431 186h1M445 158h1M444 168h1M441 182h1M442 184h1M435 171h1M440 172h1M435 183h1M444 135h1M435 183h1M444 173h1M444 141h1M443 130h1M437 161h1M445 172h1M441 183h1M444 136h1M441 131h1M444 162h1M439 150h1M442 181h1M442 190h1M437 176h1M442 133h1M435 189h1M441 141h1M443 173h1M437 149h1M443 143h1M445 104h1M437 186h1M441 167h1M442 167h1M431 175h1M441 105h1M440 158h1M443 169h1M433 169h1M436 175h1M442 170h1M441 169h1M435 158h1M438 173h1M441 171h1M439 131h1M431 181h1M442 174h1M445 149h1M440 175h1M444 141h1M441 163h1M435 191h1M434 153h1M441 122h1M434 174h1M440 164h1M435 186h1M441 174h1M442 174h1M443 185h1M444 152h1M445 178h1M443 164h1M445 169h1M442 175h1M436 179h1M443 144h1M436 167h1M445 122h1M441 172h1M440 160h1M440 150h1M445 164h1M439 166h1M443 152h1M439 188h1M438 149h1M436 159h1M430 176h1M439 174h1M444 172h1M443 173h1M438 174h1M440 187h1M441 187h1M437 161h1M445 165h1M443 106h1M442 154h1M443 173h1M433 176h1M439 129h1M442 158h1M440 186h1M443 169h1M444 154h1M438 168h1M439 181h1M444 170h1M444 163h1M443 182h1M442 189h1M434 186h1M439 159h1M444 186h1M440 176h1M442 169h1M444 179h1M444 147h1M441 176h1M445 176h1M444 186h1M440 150h1M442 161h1M440 181h1M436 162h1M438 178h1M436 180h1M445 168h1M443 160h1M432 191h1M435 171h1M437 146h1M443 130h1M443 190h1M442 179h1M439 185h1M444 140h1M440 96h1M442 123h1M441 166h1M437 159h1M438 141h1M442 165h1M440 182h1M445 155h1M444 175h1M444 81h1M445 184h1M441 132h1M433 176h1M440 175h1M439 165h1M438 184h1M436 173h1M434 181h1M440 186h1M444 180h1M445 179h1M443 116h1M459 176h1M469 155h1M470 169h1M474 122h1M474 139h1M468 178h1M470 157h1M466 187h1M469 142h1M466 161h1M476 167h1M457 173h1M457 182h1M470 112h1M477 176h1M470 149h1M468 167h1M477 158h1M460 139h1M476 177h1M463 169h1M461 159h1M464 99h1M457 177h1M472 176h1M474 170h1M459 151h1M466 159h1M464 181h1M466 167h1M477 166h1M466 164h1M472 149h1M454 167h1M472 179h1M464 159h1M473 155h1M471 125h1M457 148h1M459 153h1M473 186h1M471 162h1M472 123h1M474 175h1M460 159h1M472 172h1M463 173h1M473 125h1M459 170h1M462 175h1M460 174h1M469 173h1M472 167h1M474 159h1M466 148h1M474 184h1M457 185h1M455 159h1M459 118h1M476 157h1M473 87h1M468 165h1M467 187h1M477 139h1M456 166h1M466 90h1M458 179h1M459 187h1M463 134h1M465 143h1M471 173h1M460 152h1M456 165h1M471 175h1M463 146h1M457 131h1M458 167h1M465 187h1M459 160h1M475 140h1M473 53h1M463 177h1M460 187h1M465 176h1M470 171h1M474 172h1M458 172h1M455 183h1M466 158h1M459 173h1M469 151h1M475 187h1M457 160h1M458 188h1M472 183h1M460 164h1M456 166h1M470 181h1M463 181h1M462 185h1M474 156h1M463 126h1M469 186h1M477 187h1M468 134h1M458 126h1M455 181h1M469 186h1M469 145h1M465 142h1M462 181h1M455 163h1M457 145h1M465 137h1M473 188h1M457 169h1M464 169h1M472 175h1M457 188h1M474 180h1M469 169h1M471 153h1M461 173h1M463 89h1M464 167h1M455 161h1M463 171h1M457 187h1M464 171h1M459 127h1M469 181h1M472 188h1M464 129h1M470 165h1M471 160h1M471 181h1M474 178h1M475 167h1M463 171h1M472 155h1M467 157h1M469 179h1M468 164h1M457 133h1M468 159h1M474 166h1M476 154h1M470 123h1M460 155h1M462 115h1M475 102h1M460 179h1M460 151h1M462 169h1M462 139h1M468 188h1M461 183h1M471 188h1M477 90h1M465 158h1M465 107h1M455 164h1M460 182h1M460 165h1M462 157h1M456 148h1M467 174h1M467 166h1M467 159h1M474 161h1M456 174h1M465 143h1M472 163h1M465 182h1M474 159h1M455 178h1M459 154h1M468 171h1M464 171h1M470 124h1M456 176h1M475 131h1M465 188h1M459 174h1M473 178h1M457 184h1M466 138h1M456 186h1M477 179h1M459 187h1M468 179h1M475 83h1M462 130h1M477 130h1M459 173h1M467 137h1M476 169h1M456 158h1M463 172h1M470 158h1M457 186h1M472 158h1M474 160h1M460 181h1M467 159h1M472 171h1M466 159h1M457 163h1M470 157h1M477 173h1M465 151h1M462 165h1M462 145h1M471 179h1M460 164h1M455 169h1M473 189h1M466 158h1M463 171h1M468 183h1M466 179h1M455 152h1M471 185h1M474 167h1M474 149h1M471 134h1M474 93h1M463 56h1M471 99h1M475 182h1M457 180h1M466 183h1M466 157h1M456 174h1M477 53h1M464 170h1M457 132h1M457 158h1M468 161h1M464 130h1M464 152h1M463 171h1M461 171h1M468 177h1M464 167h1M460 169h1M470 176h1M473 177h1M456 158h1M470 136h1M465 187h1M455 164h1M496 172h1M492 175h1M496 174h1M495 182h1M509 158h1M492 154h1M497 166h1M508 105h1M504 176h1M501 140h1M488 184h1M493 149h1M490 69h1M491 178h1M489 178h1M487 173h1M491 168h1M498 150h1M501 184h1M510 165h1M487 40h1M503 161h1M492 153h1M487 160h1M500 151h1M495 134h1M504 170h1M499 166h1M509 185h1M510 179h1M497 185h1M509 175h1M487 178h1M492 146h1M495 168h1M505 155h1M493 183h1M489 173h1M505 162h1M488 167h1M487 165h1M492 179h1M505 139h1M499 149h1M507 172h1M502 179h1M501 168h1M510 159h1M492 168h1M496 171h1M510 186h1M507 179h1M487 135h1M510 141h1M500 154h1M491 153h1M498 188h1M489 189h1M508 183h1M494 65h1M489 139h1M503 124h1M510 170h1M507 151h1M502 131h1M501 157h1M498 149h1M500 134h1M505 161h1M487 164h1M500 161h1M495 154h1M499 147h1M496 179h1M497 138h1M505 155h1M499 173h1M497 155h1M491 148h1M492 90h1M501 169h1M487 153h1M497 150h1M507 151h1M499 181h1M499 123h1M509 160h1M488 144h1M496 143h1M496 161h1M500 156h1M508 157h1M499 169h1M500 157h1M506 177h1M504 180h1M502 160h1M492 163h1M503 138h1M506 145h1M508 166h1M505 169h1M498 168h1M490 165h1M500 150h1M491 133h1M491 138h1M494 141h1M489 178h1M489 167h1M496 108h1M509 171h1M510 182h1M500 93h1M493 177h1M488 163h1M494 119h1M497 145h1M493 128h1M490 177h1M498 155h1M497 140h1M504 148h1M488 149h1M495 159h1M508 158h1M498 151h1M494 174h1M488 96h1M495 150h1M491 146h1M509 102h1M496 179h1M502 159h1M497 188h1M498 156h1M500 173h1M504 157h1M503 175h1M494 132h1M494 134h1M497 168h1M491 186h1M492 127h1M500 165h1M505 189h1M495 184h1M499 155h1M508 155h1M498 184h1M501 156h1M501 161h1M510 165h1M503 159h1M509 185h1M498 125h1M489 162h1M492 186h1M507 164h1M494 166h1M488 155h1M506 162h1M510 165h1M506 171h1M500 166h1M493 149h1M490 118h1M507 167h1M491 159h1M493 168h1M493 186h1M496 165h1M504 175h1M498 164h1M497 168h1M503 178h1M496 147h1M504 186h1M489 185h1M496 135h1M492 144h1M497 146h1M495 188h1M494 164h1M499 113h1M494 166h1M501 159h1M494 108h1M507 168h1M490 132h1M492 119h1M507 122h1M490 129h1M505 82h1M504 188h1M505 156h1M488 106h1M490 168h1M503 120h1M506 154h1M492 175h1M509 170h1M489 168h1M499 157h1M491 161h1M496 165h1M506 169h1M502 173h1M506 160h1M506 170h1M495 174h1M504 161h1M494 96h1M508 167h1M490 172h1M491 129h1M495 136h1M495 180h1M498 89h1M490 149h1M496 150h1M504 161h1M493 186h1M507 146h1M491 156h1M504 175h1M501 174h1M497 168h1M508 151h1M487 151h1M496 164h1M487 170h1M502 179h1M490 179h1M494 171h1M491 178h1M504 121h1M509 130h1M498 161h1M491 109h1M505 179h1M493 182h1M501 188h1M501 173h1M491 162h1M493 178h1M496 164h1M491 188h1M491 182h1M507 190h1M502 177h1M494 170h1M488 187h1M508 164h1M501 133h1M504 176h1M491 156h1M499 173h1M523 159h1M530 182h1M531 158h1M525 111h1M523 160h1M530 172h1M539 153h1M521 113h1M532 130h1M534 157h1M540 144h1M524 98h1M540 144h1M529 153h1M542 166h1M530 164h1M534 179h1M522 187h1M527 135h1M538 160h1M536 177h1M525 81h1M532 164h1M531 132h1M528 161h1M521 158h1M530 71h1M526 175h1M542 126h1M538 95h1M520 172h1M527 133h1M540 143h1M541 163h1M538 184h1M520 179h1M530 165h1M538 173h1M522 166h1M533 178h1M524 187h1M540 170h1M528 186h1M523 167h1M527 139h1M523 178h1M523 148h1M521 178h1M524 165h1M536 144h1M524 186h1M541 182h1M539 173h1M540 149h1M520 182h1M525 164h1M531 168h1M523 168h1M537 171h1M538 162h1M536 160h1M531 128h1M525 143h1M540 179h1M541 152h1M522 86h1M522 120h1M527 153h1M528 181h1M535 181h1M538 22h1M542 157h1M531 177h1M530 136h1M540 159h1M530 43h1M526 180h1M536 158h1M536 153h1M525 163h1M530 155h1M540 147h1M541 185h1M536 180h1M536 160h1M534 185h1M529 167h1M522 153h1M539 142h1M521 165h1M530 131h1M524 166h1M528 104h1M538 175h1M532 160h1M527 149h1M529 161h1M537 164h1M531 178h1M540 137h1M540 72h1M529 159h1M537 153h1M537 137h1M531 166h1M531 162h1M526 163h1M538 188h1M540 95h1M527 151h1M536 182h1M536 188h1M521 109h1M520 168h1M533 178h1M530 149h1M530 167h1M536 116h1M541 165h1M541 148h1M531 140h1M529 67h1M534 87h1M537 162h1M542 184h1M532 179h1M521 123h1M527 182h1M520 187h1M522 143h1M519 159h1M526 185h1M528 175h1M525 183h1M531 160h1M524 152h1M539 166h1M531 146h1M542 169h1M528 177h1M531 70h1M523 165h1M526 175h1M533 174h1M527 186h1M520 184h1M522 176h1M527 141h1M538 146h1M524 165h1M525 128h1M536 159h1M527 172h1M534 145h1M541 173h1M522 92h1M536 144h1M526 183h1M529 172h1M521 175h1M524 173h1M522 149h1M528 147h1M530 158h1M526 148h1M539 172h1M534 178h1M534 186h1M536 180h1M537 173h1M524 183h1M537 143h1M525 173h1M534 156h1M535 162h1M522 155h1M542 159h1M527 167h1M524 143h1M538 166h1M539 161h1M542 184h1M534 153h1M531 157h1M522 160h1M541 173h1M534 151h1M529 181h1M524 184h1M535 160h1M531 178h1M526 166h1M521 163h1M531 169h1M523 146h1M534 182h1M532 151h1M528 170h1M524 164h1M537 185h1M539 150h1M540 170h1M525 164h1M520 189h1M523 111h1M539 161h1M519 161h1M527 168h1M520 140h1M529 159h1M523 163h1M525 159h1M536 156h1M542 162h1M527 188h1M529 32h1M523 164h1M522 147h1M539 184h1M541 123h1M541 125h1M531 166h1M534 186h1M540 171h1M521 177h1M536 188h1M530 137h1M520 187h1M539 83h1M520 93h1M539 178h1M532 183h1M520 161h1M520 175h1M530 160h1M541 135h1M527 165h1M524 169h1M527 176h1M528 146h1M541 180h1M537 183h1M529 168h1M536 184h1M536 184h1M527 152h1M532 161h1M525 181h1M565 146h1M572 128h1M568 89h1M562 169h1M570 128h1M558 139h1M561 163h1M562 64h1M560 85h1M571 188h1M565 163h1M571 172h1M563 181h1M553 167h1M554 188h1M574 167h1M561 117h1M573 151h1M565 162h1M567 157h1M558 150h1M571 174h1M561 174h1M571 177h1M554 155h1M574 144h1M556 157h1M567 136h1M565 183h1M553 144h1M565 170h1M561 156h1M574 180h1M565 144h1M561 181h1M557 178h1M570 164h1M558 123h1M574 148h1M554 59h1M561 143h1M572 140h1M571 175h1M566 161h1M565 185h1M554 151h1M573 183h1M570 162h1M560 181h1M562 167h1M555 172h1M561 175h1M562 163h1M573 152h1M553 188h1M574 147h1M556 166h1M570 171h1M558 140h1M564 103h1M562 165h1M575 174h1M554 151h1M552 185h1M564 182h1M572 80h1M556 153h1M562 171h1M558 148h1M552 143h1M567 77h1M569 180h1M570 116h1M560 146h1M569 100h1M560 165h1M554 154h1M570 184h1M554 177h1M561 169h1M557 172h1M571 181h1M567 98h1M574 171h1M574 127h1M561 132h1M555 181h1M558 102h1M554 110h1M566 93h1M572 176h1M569 159h1M565 170h1M568 149h1M552 95h1M554 174h1M570 175h1M561 148h1M564 175h1M568 163h1M563 162h1M561 135h1M560 180h1M571 188h1M563 136h1M565 171h1M562 121h1M554 140h1M554 187h1M569 147h1M554 155h1M566 142h1M569 179h1M560 163h1M563 73h1M554 146h1M562 134h1M552 110h1M565 184h1M555 156h1M570 143h1M574 179h1M556 173h1M560 163h1M565 149h1M562 149h1M562 153h1M556 146h1M562 155h1M559 146h1M572 164h1M575 81h1M563 184h1M558 159h1M552 154h1M556 160h1M571 90h1M566 164h1M559 187h1M556 180h1M563 148h1M573 167h1M574 122h1M553 124h1M571 162h1M559 156h1M567 164h1M567 175h1M566 138h1M571 162h1M562 27h1M552 138h1M560 175h1M567 27h1M555 130h1M568 23h1M570 186h1M555 188h1M565 185h1M557 70h1M564 176h1M561 177h1M568 130h1M567 171h1M555 156h1M563 186h1M565 149h1M556 166h1M553 155h1M568 170h1M556 166h1M559 158h1M557 161h1M555 99h1M569 163h1M560 53h1M572 180h1M556 186h1M561 149h1M552 160h1M568 107h1M562 186h1M574 154h1M554 166h1M556 153h1M569 155h1M568 141h1M555 105h1M574 169h1M562 164h1M569 164h1M564 168h1M560 141h1M556 148h1M565 158h1M572 153h1M564 182h1M572 146h1M570 172h1M561 156h1M572 182h1M568 150h1M571 152h1M561 117h1M565 128h1M567 188h1M558 172h1M569 165h1M560 178h1M554 149h1M557 181h1M555 173h1M552 164h1M570 184h1M572 159h1M558 183h1M569 158h1M563 169h1M565 135h1M553 183h1M565 170h1M559 155h1M569 169h1M570 118h1M569 152h1M553 153h1M590 100h1M590 145h1M597 186h1M586 134h1M594 162h1M603 189h1M596 185h1M605 184h1M606 175h1M591 135h1M586 185h1M603 172h1M585 182h1M586 178h1M591 72h1M591 152h1M605 178h1M595 153h1M587 150h1M591 159h1M597 178h1M599 162h1M585 159h1M593 161h1M590 147h1M604 153h1M596 122h1M596 189h1M586 166h1M592 94h1M587 116h1M591 102h1M605 159h1M604 95h1M587 176h1M603 179h1M599 49h1M589 152h1M596 130h1M597 163h1M603 176h1M585 186h1M599 190h1M602 166h1M594 180h1M590 142h1M597 133h1M604 121h1M590 180h1M589 166h1M606 189h1M588 122h1M602 108h1M606 154h1M601 125h1M593 114h1M585 162h1M606 167h1M597 163h1M585 147h1M603 184h1M589 174h1M595 158h1M593 148h1M598 173h1M589 153h1M596 164h1M592 171h1M586 165h1M604 188h1M593 161h1M597 181h1M585 146h1M595 129h1M590 189h1M592 135h1M599 172h1M585 146h1M591 133h1M601 129h1M589 132h1M587 168h1M600 138h1M593 165h1M594 144h1M607 165h1M588 134h1M603 116h1M601 163h1M598 136h1M599 79h1M587 132h1M600 163h1M590 188h1M601 147h1M588 166h1M594 184h1M587 117h1M587 134h1M591 168h1M597 143h1M588 40h1M604 134h1M588 178h1M598 141h1M589 185h1M601 146h1M605 124h1M587 164h1M602 177h1M587 183h1M586 163h1M604 142h1M597 157h1M588 180h1M595 114h1M601 161h1M588 156h1M589 79h1M585 25h1M591 178h1M593 100h1M594 157h1M587 173h1M607 177h1M605 93h1M605 140h1M598 89h1M590 168h1M606 143h1M603 155h1M587 184h1M594 171h1M588 170h1M596 185h1M591 94h1M589 127h1M589 152h1M588 111h1M590 140h1M595 85h1M589 147h1M593 148h1M589 166h1M600 170h1M598 151h1M587 150h1M595 164h1M585 172h1M598 167h1M596 164h1M599 166h1M606 162h1M591 170h1M604 107h1M589 111h1M594 155h1M587 157h1M600 187h1M603 22h1M586 159h1M597 146h1M605 128h1M585 127h1M587 175h1M607 143h1M590 185h1M598 146h1M594 112h1M603 136h1M590 157h1M604 172h1M598 116h1M600 126h1M592 56h1M596 180h1M603 188h1M603 139h1M593 122h1M590 169h1M604 158h1M592 154h1M594 131h1M584 161h1M594 167h1M599 163h1M588 156h1M601 143h1M602 152h1M605 169h1M594 171h1M585 143h1M587 179h1M596 176h1M607 23h1M602 178h1M600 150h1M592 160h1M595 179h1M600 165h1M602 176h1M589 168h1M594 168h1M594 134h1M588 182h1M606 125h1M605 184h1M586 156h1M606 159h1M599 95h1M597 149h1M603 181h1M604 132h1M592 181h1M606 144h1M592 94h1M598 131h1M597 180h1M593 167h1M597 84h1M596 116h1M592 179h1M606 139h1M593 176h1M588 185h1M584 154h1M607 134h1M590 161h1M591 142h1M599 170h1M602 189h1M594 184h1M594 165h1M607 143h1M585 148h1M589 115h1M597 127h1M601 179h1M588 156h1M584 185h1M603 145h1M588 170h1M592 135h1M596 175h1M584 176h1M605 159h1M588 185h1M604 171h1M605 184h1M591 137h1M601 154h1M585 116h1M588 138h1M589 161h1M617 140h1M636 174h1M620 144h1M629 162h1M636 179h1M621 153h1M639 169h1M630 21h1M617 138h1M619 166h1M624 179h1M630 140h1M634 160h1M623 178h1M634 153h1M631 177h1M636 150h1M626 188h1M638 169h1M619 129h1M622 154h1M633 181h1M623 158h1M622 151h1M639 116h1M634 181h1M629 30h1M630 166h1M636 162h1M617 170h1M632 149h1M631 164h1M631 114h1M631 91h1M624 146h1M627 176h1M620 169h1M633 185h1M638 142h1M623 146h1M636 172h1M638 157h1M626 153h1M636 168h1M618 164h1M623 149h1M637 148h1M621 165h1M635 130h1M630 39h1M639 187h1M631 144h1M636 168h1M626 179h1M630 183h1M621 120h1M623 142h1M624 143h1M624 122h1M618 118h1M619 177h1M622 110h1M638 135h1M617 178h1M628 146h1M629 143h1M631 138h1M622 186h1M629 144h1M628 183h1M622 154h1M620 172h1M638 156h1M636 117h1M625 147h1M639 139h1M617 184h1M630 179h1M629 82h1M636 182h1M625 165h1M624 119h1M626 111h1M621 178h1M621 126h1M620 174h1M626 171h1M635 142h1M623 139h1M626 109h1M617 105h1M626 129h1M620 188h1M638 148h1M638 150h1M639 148h1M632 184h1M623 165h1M625 118h1M624 154h1M624 84h1M637 174h1M633 101h1M634 182h1M628 187h1M637 141h1M631 176h1M635 135h1M623 88h1M627 170h1M623 164h1M627 179h1M620 100h1M625 186h1M629 115h1M617 179h1M638 165h1M633 180h1M639 147h1M626 176h1M625 173h1M639 188h1M637 162h1M628 178h1M628 180h1M633 155h1M639 162h1M631 145h1M622 162h1M635 165h1M637 170h1M630 162h1M617 167h1M622 170h1M631 178h1M617 178h1M623 185h1M634 190h1M621 103h1M629 165h1M626 48h1M638 144h1M622 116h1M624 120h1M628 42h1M638 163h1M621 176h1M634 145h1M629 182h1M620 163h1M618 149h1M627 154h1M628 126h1M634 121h1M628 58h1M626 163h1M621 120h1M625 131h1M637 183h1M627 178h1M633 186h1M634 172h1M626 122h1M621 124h1M634 161h1M618 171h1M639 183h1M631 160h1M627 149h1M628 89h1M624 103h1M635 168h1M637 172h1M629 177h1M624 140h1M640 140h1M624 151h1M632 128h1M634 125h1M616 169h1M619 183h1M624 138h1M628 154h1M633 168h1M628 178h1M625 150h1M629 56h1M623 106h1M618 133h1M630 156h1M639 179h1M624 166h1M638 148h1M628 110h1M633 114h1M619 31h1M620 179h1M623 179h1M629 159h1M617 160h1M629 158h1M620 185h1M627 175h1M638 117h1M620 163h1M619 180h1M631 177h1M637 165h1M633 122h1M624 143h1M619 55h1M626 157h1M625 141h1M624 121h1M620 163h1M623 176h1M621 147h1M619 166h1M629 170h1M624 102h1M637 183h1M622 129h1M629 146h1M629 135h1M634 139h1M627 73h1M650 177h1M651 168h1M653 159h1M657 181h1M666 150h1M653 176h1M651 165h1M650 141h1M657 177h1M652 170h1M651 181h1M651 152h1M651 137h1M652 146h1M656 75h1M649 134h1M653 94h1M654 165h1M654 137h1M652 148h1M650 122h1M662 139h1M654 153h1M651 172h1M657 150h1M653 156h1M649 169h1M651 151h1M654 116h1M653 88h1M649 154h1M650 101h1M652 89h1M649 140h1M659 160h1M651 166h1M649 116h1M650 140h1M659 133h1M650 131h1M656 166h1M655 147h1M654 153h1M650 142h1M658 179h1M649 180h1M651 181h1M650 151h1M656 177h1M654 119h1M656 149h1M653 129h1M651 143h1M654 149h1M651 112h1M657 97h1M658 175h1M649 149h1M649 64h1M656 149h1M650 185h1M653 156h1M654 173h1M650 183h1M651 159h1M651 174h1M650 153h1M649 127h1M652 133h1M655 113h1M656 103h1M652 165h1M652 94h1M649 121h1M650 106h1M652 71h1M659 102h1M652 182h1M652 95h1M650 178h1M652 175h1M653 180h1M655 146h1M650 140h1M657 157h1M649 143h1M649 176h1M657 157h1M651 134h1M650 135h1M654 150h1M650 162h1M653 138h1M654 150h1M650 132h1M651 86h1M653 168h1M656 140h1M652 145h1M651 184h1M651 108h1M651 174h1M652 180h1M650 151h1M653 140h1M650 169h1M650 172h1M654 143h1M650 184h1M652 156h1M652 149h1M650 159h1M649 95h1M662 161h1M649 124h1M660 170h1M651 133h1M659 154h1M650 146h1M654 128h1M649 155h1M651 95h1M658 154h1M652 173h1M650 163h1M652 166h1M650 106h1M660 176h1M653 163h1M649 163h1M650 140h1M653 151h1M652 174h1M661 133h1M653 137h1M653 177h1M654 97h1M656 187h1M660 183h1M649 160h1M660 184h1M654 177h1M654 156h1M656 179h1M652 165h1M651 159h1M649 123h1M649 174h1M652 126h1M653 158h1M649 136h1M658 177h1M657 100h1M650 106h1M649 112h1M650 141h1M651 115h1M651 141h1M654 183h1M661 171h1M660 185h1M662 151h1M652 136h1M651 162h1M653 167h1M649 131h1M649 117h1M654 150h1M652 98h1M657 173h1M650 135h1M656 150h1M649 132h1M653 157h1M651 128h1M650 154h1M651 165h1M651 184h1M650 130h1M656 164h1M665 181h1M657 174h1M650 151h1M651 154h1M657 145h1M651 172h1M654 138h1M652 180h1M654 186h1M652 66h1M650 106h1M649 181h1M661 179h1M650 180h1M653 170h1M651 135h1M652 135h1M649 125h1M653 128h1M649 161h1M650 53h1M658 153h1M651 161h1M650 163h1M649 140h1M657 92h1M656 183h1M650 90h1M651 177h1M653 60h1M652 159h1M656 109h1M650 152h1M653 152h1M656 154h1M651 154h1M650 164h1M650 155h1M649 144h1M654 170h1M653 153h1M657 151h1M654 175h1M651 105h1M649 144h1M655 132h1M655 181h1M650 135h1M652 159h1M651 172h1M653 185h1M652 134h1M651 173h1M653 108h1M654 189h1M652 161h1M652 108h1M661 185h1M650 149h1"/>
<path stroke="#999" stroke-width="1" fill="none" transform="translate(0,0.5)" d="M445 158h1M445 124h1M443 123h1M443 174h1M440 184h1M444 176h1M436 143h1M445 155h1M445 186h1M443 163h1M442 160h1M444 171h1M442 179h1M443 146h1M445 133h1M441 169h1M439 170h1M442 153h1M434 172h1M436 153h1M442 168h1M441 153h1M438 136h1M434 175h1M444 111h1M440 173h1M438 147h1M443 124h1M439 158h1M444 179h1M442 152h1M443 171h1M444 172h1M440 164h1M444 140h1M442 159h1M442 179h1M442 125h1M442 137h1M434 182h1M440 180h1M435 187h1M443 148h1M444 152h1M443 90h1M440 187h1M435 187h1M435 176h1M442 176h1M440 188h1M445 167h1M444 141h1M444 166h1M441 152h1M445 156h1M433 174h1M444 176h1M440 167h1M443 144h1M430 190h1M444 155h1M440 158h1M443 178h1M443 139h1M444 180h1M444 187h1M442 156h1M445 183h1M440 175h1M440 162h1M433 165h1M441 145h1M441 187h1M444 152h1M439 185h1M438 181h1M445 172h1M443 138h1M439 183h1M443 175h1M444 108h1M444 163h1M433 163h1M440 185h1M445 189h1M443 163h1M443 130h1M444 179h1M439 184h1M441 183h1M443 158h1M439 184h1M439 133h1M428 155h1M437 190h1M443 176h1M444 148h1M444 177h1M444 181h1M445 167h1M444 158h1M442 139h1M443 148h1M445 185h1M440 188h1M438 190h1M440 175h1M440 188h1M443 163h1M437 146h1M441 180h1M445 184h1M442 79h1M438 166h1M435 191h1M443 181h1M439 150h1M443 179h1M442 151h1M441 159h1M443 163h1M441 189h1M436 151h1M442 174h1M441 100h1M442 181h1M444 143h1M434 147h1M443 181h1M444 154h1M440 169h1M445 153h1M438 179h1M432 191h1M440 185h1M443 168h1M444 167h1M442 127h1M431 187h1M437 184h1M440 185h1M444 181h1M438 189h1M435 182h1M435 168h1M443 176h1M442 165h1M439 178h1M444 177h1M440 167h1M445 184h1M437 189h1M436 190h1M442 185h1M440 171h1M442 166h1M439 96h1M432 189h1M443 169h1M435 156h1M436 161h1M438 162h1M432 186h1M445 185h1M440 159h1M442 181h1M439 180h1M441 176h1M442 186h1M444 174h1M441 161h1M441 164h1M445 127h1M439 176h1M444 141h1M441 188h1M444 187h1M443 144h1M443 168h1M439 157h1M445 176h1M444 149h1M444 183h1M442 156h1M440 165h1M440 143h1M445 169h1M444 133h1M438 175h1M438 167h1M444 160h1M444 154h1M442 181h1M445 125h1M444 163h1M435 178h1M444 190h1M437 131h1M445 187h1M443 136h1M438 163h1M440 156h1M437 174h1M441 73h1M444 154h1M443 185h1M439 174h1M436 179h1M444 168h1M445 162h1M437 179h1M444 180h1M438 176h1M444 154h1M441 169h1M437 177h1M443 182h1M440 152h1M442 183h1M441 175h1M434 192h1M442 180h1M440 150h1M443 142h1M439 175h1M435 184h1M443 183h1M443 138h1M445 141h1M443 187h1M445 183h1M443 161h1M443 155h1M444 164h1M437 160h1M445 170h1M433 183h1M443 191h1M439 188h1M460 186h1M457 164h1M474 109h1M461 85h1M474 116h1M458 167h1M463 162h1M460 176h1M459 173h1M472 171h1M468 180h1M472 175h1M466 183h1M465 125h1M466 158h1M468 177h1M469 160h1M462 161h1M475 148h1M470 155h1M477 179h1M471 134h1M459 182h1M456 187h1M464 137h1M473 181h1M474 184h1M466 180h1M461 164h1M465 189h1M463 190h1M476 184h1M457 155h1M468 182h1M466 179h1M472 156h1M465 161h1M461 184h1M475 173h1M464 170h1M473 182h1M469 176h1M476 173h1M471 186h1M459 147h1M476 182h1M465 67h1M454 169h1M462 148h1M468 179h1M469 182h1M467 115h1M470 165h1M477 112h1M455 173h1M463 155h1M461 190h1M475 155h1M475 182h1M473 162h1M469 139h1M477 163h1M459 145h1M461 184h1M472 161h1M463 178h1M467 152h1M464 180h1M473 169h1M468 142h1M466 167h1M455 183h1M461 167h1M468 156h1M462 127h1M461 179h1M473 187h1M472 151h1M469 182h1M458 186h1M474 179h1M474 158h1M467 167h1M463 151h1M460 155h1M470 160h1M466 164h1M473 131h1M472 133h1M457 182h1M463 182h1M466 87h1M475 110h1M473 188h1M477 157h1M463 176h1M470 177h1M460 177h1M472 175h1M468 152h1M467 44h1M459 172h1M473 101h1M457 171h1M476 63h1M466 154h1M467 146h1M471 154h1M475 125h1M476 139h1M461 162h1M461 168h1M456 185h1M476 121h1M460 112h1M461 160h1M458 177h1M475 128h1M461 143h1M467 188h1M455 149h1M473 186h1M467 179h1M474 74h1M470 130h1M461 110h1M455 178h1M456 187h1M456 142h1M471 186h1M471 181h1M463 177h1M460 135h1M476 116h1M476 187h1M467 145h1M475 180h1M472 168h1M467 187h1M471 138h1M473 138h1M471 167h1M461 56h1M466 182h1M475 179h1M458 184h1M457 160h1M458 149h1M463 169h1M476 170h1M460 118h1M462 152h1M470 177h1M468 163h1M469 182h1M465 184h1M463 171h1M476 170h1M458 121h1M461 145h1M474 156h1M471 186h1M455 140h1M469 136h1M462 178h1M462 147h1M459 166h1M455 187h1M456 152h1M476 167h1M462 177h1M473 128h1M464 167h1M457 161h1M472 178h1M466 169h1M470 165h1M473 113h1M467 137h1M477 160h1M467 177h1M475 158h1M475 179h1M468 179h1M465 164h1M455 186h1M460 147h1M470 133h1M456 190h1M476 160h1M466 97h1M475 186h1M459 169h1M472 115h1M455 86h1M476 123h1M465 167h1M460 146h1M468 175h1M457 172h1M456 169h1M474 152h1M458 187h1M472 148h1M474 158h1M464 169h1M458 177h1M473 178h1M509 137h1M505 159h1M490 188h1M504 113h1M497 176h1M491 158h1M499 171h1M494 137h1M505 137h1M498 190h1M501 169h1M498 159h1M503 167h1M506 118h1M491 169h1M502 146h1M499 152h1M498 142h1M499 159h1M504 132h1M505 160h1M497 116h1M502 167h1M491 115h1M491 148h1M503 137h1M506 188h1M488 181h1M504 166h1M487 157h1M504 176h1M497 167h1M499 177h1M496 157h1M489 133h1M499 153h1M504 156h1M505 144h1M492 181h1M492 158h1M503 185h1M504 163h1M509 165h1M503 166h1M491 162h1M501 176h1M491 106h1M504 144h1M507 166h1M496 170h1M493 131h1M495 125h1M489 187h1M496 170h1M491 184h1M500 148h1M506 181h1M487 179h1M504 82h1M507 183h1M508 134h1M506 146h1M496 138h1M498 187h1M493 143h1M500 150h1M496 182h1M509 73h1M500 187h1M492 187h1M508 152h1M509 147h1M501 183h1M499 187h1M496 170h1M509 173h1M496 131h1M498 187h1M504 101h1M498 174h1M487 142h1M503 182h1M494 165h1M506 136h1M491 127h1M496 150h1M502 182h1M507 129h1M488 153h1M501 165h1M487 142h1M498 178h1M507 93h1M493 179h1M498 190h1M510 149h1M494 157h1M492 179h1M510 154h1M491 180h1M495 171h1M500 173h1M500 184h1M502 153h1M498 173h1M498 154h1M499 167h1M502 180h1M491 174h1M505 160h1M489 80h1M497 173h1M497 138h1M489 177h1M504 158h1M491 134h1M488 150h1M503 160h1M500 141h1M509 160h1M488 127h1M505 159h1M504 144h1M499 184h1M500 180h1M507 180h1M495 164h1M498 157h1M495 152h1M502 159h1M488 156h1M506 153h1M493 157h1M497 172h1M487 167h1M495 159h1M507 185h1M490 111h1M499 182h1M491 182h1M492 172h1M508 134h1M509 100h1M502 184h1M495 134h1M500 165h1M501 150h1M510 164h1M490 174h1M505 179h1M507 138h1M493 157h1M499 51h1M497 187h1M505 174h1M496 132h1M508 138h1M506 141h1M510 163h1M498 140h1M498 148h1M498 121h1M503 143h1M504 136h1M496 168h1M502 161h1M507 185h1M503 78h1M495 174h1M489 154h1M496 164h1M508 178h1M505 168h1M494 190h1M502 164h1M501 187h1M501 161h1M505 182h1M502 190h1M498 169h1M507 140h1M505 147h1M504 189h1M488 152h1M495 169h1M502 48h1M497 162h1M499 141h1M503 148h1M502 55h1M494 162h1M492 171h1M492 170h1M505 186h1M503 176h1M505 179h1M491 166h1M491 158h1M504 165h1M493 187h1M492 168h1M524 189h1M532 164h1M540 185h1M541 59h1M542 180h1M538 148h1M529 182h1M542 186h1M526 181h1M540 164h1M534 166h1M540 185h1M523 118h1M540 108h1M531 188h1M539 185h1M539 166h1M527 144h1M532 142h1M539 159h1M535 188h1M538 115h1M531 155h1M523 128h1M537 177h1M542 179h1M541 124h1M542 184h1M526 172h1M537 159h1M529 95h1M539 176h1M521 184h1M521 117h1M541 160h1M537 99h1M539 181h1M540 159h1M525 171h1M536 143h1M534 164h1M541 181h1M537 170h1M538 149h1M539 151h1M539 145h1M522 154h1M530 68h1M536 180h1M532 180h1M527 151h1M528 189h1M521 175h1M522 127h1M536 117h1M536 141h1M519 184h1M532 190h1M534 144h1M531 167h1M535 137h1M541 136h1M530 150h1M522 128h1M532 157h1M525 157h1M523 161h1M528 181h1M529 150h1M523 107h1M542 117h1M521 187h1M533 149h1M521 162h1M526 167h1M530 51h1M523 180h1M533 166h1M523 148h1M542 174h1M524 163h1M522 184h1M526 178h1M533 166h1M529 169h1M529 113h1M532 158h1M539 137h1M536 70h1M530 174h1M519 169h1M539 164h1M525 167h1M542 121h1M533 170h1M538 186h1M521 187h1M526 64h1M522 161h1M534 183h1M535 184h1M536 187h1M522 119h1M532 137h1M520 186h1M526 169h1M529 117h1M542 149h1M530 151h1M526 164h1M524 166h1M527 182h1M519 155h1M538 108h1M540 173h1M529 176h1M533 170h1M527 183h1M524 158h1M540 113h1M536 162h1M521 169h1M541 180h1M522 161h1M535 170h1M538 133h1M535 183h1M541 180h1M527 137h1M520 141h1M537 166h1M523 137h1M522 182h1M525 63h1M525 180h1M536 165h1M533 142h1M531 25h1M533 169h1M523 147h1M530 146h1M538 170h1M534 180h1M532 169h1M525 142h1M538 168h1M523 157h1M536 164h1M537 159h1M520 163h1M522 168h1M539 183h1M522 178h1M542 145h1M540 169h1M537 187h1M540 182h1M529 182h1M542 176h1M526 182h1M521 147h1M523 140h1M527 107h1M538 160h1M539 159h1M535 179h1M537 150h1M538 173h1M534 165h1M539 128h1M528 186h1M529 164h1M540 121h1M542 170h1M522 169h1M524 137h1M525 162h1M532 147h1M520 177h1M529 166h1M536 177h1M523 166h1M523 175h1M542 187h1M533 168h1M522 154h1M528 126h1M524 182h1M532 175h1M525 136h1M542 157h1M533 121h1M539 190h1M540 182h1M530 60h1M538 169h1M537 109h1M537 155h1M540 160h1M534 134h1M538 152h1M534 147h1M531 158h1M538 150h1M526 153h1M531 160h1M534 167h1M562 154h1M563 163h1M569 171h1M561 140h1M555 163h1M569 135h1M554 175h1M564 163h1M558 165h1M568 172h1M575 116h1M566 165h1M570 190h1M567 181h1M561 155h1M568 94h1M558 141h1M562 164h1M573 163h1M553 103h1M559 161h1M565 166h1M567 157h1M573 168h1M552 152h1M568 184h1M574 149h1M563 186h1M557 121h1M562 74h1M569 141h1M558 79h1M557 142h1M558 146h1M569 175h1M555 128h1M562 166h1M569 118h1M572 158h1M562 150h1M563 150h1M567 174h1M565 155h1M562 167h1M570 180h1M573 171h1M567 115h1M558 170h1M573 133h1M565 80h1M573 171h1M568 189h1M566 182h1M563 71h1M574 166h1M560 177h1M562 140h1M555 160h1M563 116h1M561 178h1M573 183h1M553 171h1M562 153h1M557 130h1M552 62h1M570 174h1M574 183h1M566 147h1M552 148h1M572 176h1M563 152h1M557 159h1M553 149h1M564 156h1M569 148h1M573 117h1M556 184h1M566 167h1M570 166h1M555 181h1M554 156h1M563 162h1M561 123h1M571 138h1M565 147h1M569 133h1M553 175h1M562 154h1M556 185h1M572 173h1M553 149h1M564 163h1M556 145h1M558 98h1M560 136h1M555 182h1M555 179h1M557 124h1M568 140h1M563 169h1M571 153h1M570 123h1M562 52h1M562 163h1M574 80h1M553 168h1M569 151h1M563 152h1M573 180h1M573 164h1M567 185h1M561 159h1M559 171h1M563 148h1M570 158h1M568 177h1M571 175h1M564 137h1M573 176h1M555 93h1M571 166h1M563 145h1M556 164h1M568 116h1M570 141h1M573 169h1M558 179h1M563 109h1M564 176h1M564 176h1M552 149h1M553 162h1M559 162h1M559 164h1M563 131h1M571 166h1M573 149h1M553 154h1M567 181h1M552 163h1M568 168h1M567 151h1M567 166h1M557 163h1M573 186h1M561 175h1M552 132h1M571 28h1M554 120h1M560 163h1M565 139h1M565 166h1M571 145h1M568 172h1M570 151h1M555 174h1M555 146h1M556 170h1M554 169h1M562 158h1M554 179h1M574 78h1M564 183h1M562 172h1M558 145h1M552 160h1M564 141h1M568 183h1M555 154h1M561 172h1M555 65h1M569 181h1M566 171h1M570 132h1M558 133h1M568 150h1M555 145h1M574 175h1M563 176h1M568 155h1M574 164h1M557 161h1M557 126h1M571 173h1M566 165h1M553 147h1M555 168h1M566 184h1M555 77h1M573 163h1M564 74h1M570 161h1M557 162h1M556 167h1M556 153h1M559 140h1M563 156h1M555 179h1M559 148h1M570 163h1M565 183h1M573 167h1M574 160h1M570 158h1M556 143h1M567 137h1M572 160h1M564 185h1M566 153h1M557 160h1M556 160h1M564 124h1M561 132h1M558 89h1M559 181h1M559 141h1M567 182h1M555 160h1M555 181h1M558 113h1M562 171h1M571 180h1M557 159h1M568 185h1M556 165h1M570 140h1M558 168h1M554 164h1M555 149h1M565 159h1M564 152h1M565 168h1M598 176h1M598 157h1M599 186h1M598 92h1M594 185h1M587 163h1M592 141h1M589 116h1M596 35h1M592 131h1M603 90h1M605 163h1M604 167h1M598 154h1M598 172h1M601 163h1M584 164h1M598 151h1M588 163h1M596 151h1M597 173h1M593 155h1M585 38h1M599 121h1M601 185h1M602 156h1M589 188h1M593 173h1M588 138h1M606 188h1M597 182h1M605 160h1M594 163h1M593 171h1M588 92h1M592 157h1M590 175h1M592 170h1M594 133h1M606 158h1M588 145h1M589 169h1M596 189h1M594 184h1M605 154h1M598 178h1M585 140h1M601 114h1M606 142h1M599 178h1M603 144h1M594 120h1M591 150h1M595 148h1M600 167h1M593 124h1M603 130h1M606 166h1M606 189h1M602 91h1M595 140h1M593 133h1M586 102h1M585 160h1M590 156h1M604 139h1M604 100h1M586 113h1M606 165h1M585 187h1M588 179h1M588 44h1M587 166h1M607 167h1M606 175h1M604 185h1M600 109h1M605 186h1M599 169h1M606 179h1M599 83h1M596 174h1M587 168h1M595 182h1M601 161h1M594 179h1M593 150h1M593 125h1M592 165h1M593 183h1M595 156h1M596 173h1M591 90h1M594 154h1M598 170h1M594 152h1M589 176h1M604 176h1M606 164h1M587 186h1M591 185h1M603 172h1M588 163h1M605 97h1M596 128h1M606 167h1M592 29h1M593 103h1M603 190h1M597 133h1M588 168h1M607 115h1M594 100h1M590 87h1M598 119h1M600 134h1M606 106h1M601 114h1M596 130h1M595 156h1M598 129h1M602 153h1M585 181h1M594 178h1M587 172h1M603 163h1M602 120h1M607 128h1M597 170h1M589 36h1M595 171h1M588 123h1M591 119h1M586 185h1M592 174h1M602 132h1M605 184h1M586 170h1M604 163h1M602 177h1M588 117h1M587 137h1M605 165h1M599 155h1M588 154h1M607 188h1M603 142h1M606 134h1M588 183h1M600 178h1M587 119h1M595 99h1M594 114h1M592 183h1M596 145h1M603 139h1M598 182h1M599 150h1M587 71h1M595 162h1M605 151h1M599 132h1M601 58h1M598 62h1M598 175h1M585 76h1M591 157h1M596 178h1M599 146h1M601 144h1M588 177h1M600 171h1M591 142h1M602 133h1M587 149h1M603 175h1M602 164h1M585 155h1M601 164h1M599 146h1M597 159h1M600 187h1M591 163h1M590 151h1M586 66h1M603 153h1M599 169h1M601 104h1M591 77h1M590 182h1M596 143h1M586 171h1M588 115h1M600 155h1M605 177h1M607 154h1M594 134h1M591 183h1M598 178h1M593 171h1M600 129h1M593 181h1M595 157h1M599 135h1M586 118h1M600 146h1M593 167h1M595 178h1M595 164h1M595 188h1M590 132h1M598 152h1M602 134h1M626 125h1M632 118h1M634 190h1M632 156h1M631 173h1M622 118h1M635 157h1M626 171h1M618 162h1M630 156h1M633 162h1M636 185h1M623 94h1M637 161h1M624 166h1M623 85h1M626 180h1M624 153h1M624 173h1M636 187h1M636 175h1M638 89h1M637 90h1M622 184h1M624 160h1M637 173h1M624 159h1M624 66h1M618 156h1M630 183h1M634 141h1M636 162h1M631 162h1M617 179h1M617 154h1M623 121h1M622 112h1M635 187h1M620 131h1M619 177h1M637 125h1M617 145h1M618 164h1M624 153h1M620 150h1M619 131h1M633 157h1M630 157h1M632 168h1M626 181h1M630 147h1M620 179h1M619 148h1M633 129h1M620 165h1M630 170h1M629 184h1M631 165h1M636 161h1M634 157h1M633 174h1M622 161h1M623 142h1M626 181h1M635 173h1M617 128h1M638 141h1M631 161h1M637 100h1M625 157h1M628 156h1M639 157h1M633 171h1M631 152h1M630 128h1M617 185h1M635 133h1M639 142h1M621 138h1M634 154h1M627 167h1M620 183h1M623 160h1M627 182h1M617 181h1M630 140h1M619 162h1M639 179h1M627 127h1M621 169h1M639 173h1M638 186h1M626 153h1M617 164h1M634 172h1M620 119h1M626 113h1M627 75h1M629 186h1M621 170h1M621 165h1M636 127h1M636 184h1M627 162h1M633 82h1M638 64h1M632 185h1M638 135h1M640 185h1M619 169h1M622 183h1M635 169h1M630 183h1M630 171h1M621 158h1M618 172h1M626 176h1M628 183h1M630 165h1M618 148h1M638 172h1M639 185h1M635 125h1M629 179h1M624 122h1M621 106h1M623 143h1M622 51h1M622 110h1M629 148h1M635 154h1M634 161h1M621 145h1M631 98h1M635 176h1M617 92h1M635 183h1M638 169h1M617 174h1M636 134h1M630 141h1M631 134h1M623 172h1M638 172h1M638 182h1M630 133h1M630 148h1M619 168h1M628 183h1M636 184h1M630 98h1M636 146h1M622 159h1M636 148h1M627 143h1M630 137h1M622 132h1M622 186h1M634 172h1M635 148h1M638 178h1M633 166h1M623 185h1M637 149h1M623 169h1M632 184h1M628 186h1M622 146h1M620 151h1M627 122h1M626 131h1M627 167h1M617 178h1M633 170h1M623 188h1M637 182h1M637 119h1M633 132h1M625 78h1M623 155h1M624 153h1M632 132h1M626 168h1M627 164h1M636 149h1M626 170h1M629 166h1M621 179h1M632 171h1M626 124h1M618 135h1M624 147h1M632 141h1M627 93h1M626 172h1M628 150h1M633 133h1M631 180h1M635 157h1M621 117h1M622 143h1M633 171h1M639 110h1M635 138h1M621 184h1M619 131h1M625 185h1M621 152h1M630 137h1M633 149h1M634 176h1M635 185h1M623 148h1M633 80h1M627 153h1M625 155h1M623 154h1M638 172h1M636 179h1M627 181h1M634 143h1M622 166h1M629 119h1M634 159h1M631 134h1M630 133h1M623 180h1M636 151h1M639 137h1M628 126h1M623 166h1M639 138h1M619 156h1M633 175h1M630 155h1M618 99h1M634 175h1M633 174h1M637 140h1M636 166h1M635 174h1M618 171h1M657 155h1M650 180h1M651 137h1M654 137h1M651 166h1M650 159h1M650 104h1M652 102h1M653 158h1M656 163h1M652 172h1M655 184h1M653 159h1M650 104h1M657 174h1M651 127h1M653 147h1M654 179h1M653 174h1M651 150h1M651 161h1M652 158h1M652 146h1M661 168h1M652 149h1M651 162h1M651 100h1M650 154h1M660 116h1M652 150h1M649 126h1M651 163h1M650 134h1M653 151h1M649 159h1M650 120h1M652 185h1M649 157h1M650 77h1M653 107h1M649 119h1M649 171h1M652 158h1M652 86h1M652 183h1M656 174h1M649 123h1M649 185h1M655 119h1M649 109h1M656 127h1M653 129h1M651 132h1M660 139h1M653 125h1M649 137h1M652 150h1M651 161h1M658 156h1M650 144h1M654 164h1M651 155h1M649 157h1M649 58h1M651 173h1M651 146h1M657 153h1M650 68h1M650 121h1M652 137h1M652 93h1M649 111h1M651 142h1M649 184h1M651 119h1M654 117h1M651 138h1M653 161h1M650 122h1M656 168h1M651 118h1M651 130h1M651 107h1M656 153h1M649 91h1M652 165h1M655 110h1M657 116h1M653 175h1M652 109h1M662 146h1M651 173h1M652 189h1M654 146h1M650 152h1M656 143h1M655 159h1M651 103h1M653 113h1M667 100h1M658 166h1M655 182h1M650 175h1M653 102h1M657 161h1M651 162h1M649 159h1M654 166h1M656 168h1M651 148h1M654 115h1M653 123h1M654 129h1M657 152h1M654 170h1M650 145h1M649 156h1M654 160h1M649 169h1M655 162h1M654 104h1M652 157h1M651 83h1M654 132h1M655 182h1M659 185h1M650 175h1M649 181h1M656 135h1M650 163h1M649 144h1M650 176h1M651 91h1M649 92h1M650 143h1M655 142h1M650 142h1M654 183h1M650 158h1M657 178h1M650 136h1M651 152h1M663 158h1M659 135h1M649 150h1M650 162h1M650 121h1M650 163h1M651 161h1M650 149h1M654 141h1M658 184h1M654 117h1M649 177h1M657 144h1M653 150h1M653 87h1M653 148h1M655 136h1M651 145h1M649 142h1M649 161h1M650 102h1M650 173h1M649 175h1M655 116h1M657 85h1M650 144h1M649 133h1M654 76h1M653 97h1M662 154h1M649 123h1M651 163h1M651 159h1M655 180h1M650 89h1M649 146h1M654 182h1M649 134h1M655 176h1M650 122h1M650 167h1M654 156h1M649 174h1M650 143h1M655 136h1M651 168h1M649 173h1M656 101h1M656 164h1M651 170h1M658 177h1M656 105h1M654 181h1M653 85h1M651 126h1M653 135h1M650 113h1M650 168h1M659 166h1M652 146h1M650 152h1M662 149h1M658 177h1M650 150h1M649 135h1M653 182h1M654 184h1M663 165h1M650 96h1M650 118h1M652 180h1M653 181h1M661 127h1M652 156h1M650 149h1M650 77h1M655 183h1M658 152h1M653 107h1M650 101h1M652 86h1M652 131h1M653 130h1M655 163h1M652 166h1M653 135h1M651 171h1"/>
<rect x="421.50" y="10.50" width="25.10" height="190.00" fill="none" stroke="#666" stroke-width="1"/>
<line x1="421.50" x2="446.60" y1="167.50" y2="167.50" stroke="#888" stroke-width="1"/>
<line x1="416.00" x2="421.50" y1="193.50" y2="193.50" stroke="#666" stroke-width="1"/>
<line x1="416.00" x2="421.50" y1="158.30" y2="158.30" stroke="#666" stroke-width="1"/>
<line x1="416.00" x2="421.50" y1="123.10" y2="123.10" stroke="#666" stroke-width="1"/>
<line x1="416.00" x2="421.50" y1="87.90" y2="87.90" stroke="#666" stroke-width="1"/>
<line x1="416.00" x2="421.50" y1="52.70" y2="52.70" stroke="#666" stroke-width="1"/>
<line x1="416.00" x2="421.50" y1="17.50" y2="17.50" stroke="#666" stroke-width="1"/>
<rect x="453.91" y="10.50" width="25.10" height="190.00" fill="none" stroke="#666" stroke-width="1"/>
<line x1="453.91" x2="479.01" y1="164.50" y2="164.50" stroke="#888" stroke-width="1"/>
<line x1="450.91" x2="453.91" y1="193.50" y2="193.50" stroke="#666" stroke-width="1"/>
<line x1="450.91" x2="453.91" y1="158.30" y2="158.30" stroke="#666" stroke-width="1"/>
<line x1="450.91" x2="453.91" y1="123.10" y2="123.10" stroke="#666" stroke-width="1"/>
<line x1="450.91" x2="453.91" y1="87.90" y2="87.90" stroke="#666" stroke-width="1"/>
<line x1="450.91" x2="453.91" y1="52.70" y2="52.70" stroke="#666" stroke-width="1"/>
<line x1="450.91" x2="453.91" y1="17.50" y2="17.50" stroke="#666" stroke-width="1"/>
<rect x="486.32" y="10.50" width="25.10" height="190.00" fill="none" stroke="#666" stroke-width="1"/>
<line x1="486.32" x2="511.42" y1="163.50" y2="163.50" stroke="#888" stroke-width="1"/>
<line x1="483.32" x2="486.32" y1="193.50" y2="193.50" stroke="#666" stroke-width="1"/>
<line x1="483.32" x2="486.32" y1="158.30" y2="158.30" stroke="#666" stroke-width="1"/>
<line x1="483.32" x2="486.32" y1="123.10" y2="123.10" stroke="#666" stroke-width="1"/>
<line x1="483.32" x2="486.32" y1="87.90" y2="87.90" stroke="#666" stroke-width="1"/>
<line x1="483.32" x2="486.32" y1="52.70" y2="52.70" stroke="#666" stroke-width="1"/>
<line x1="483.32" x2="486.32" y1="17.50" y2="17.50" stroke="#666" stroke-width="1"/>
<rect x="518.73" y="10.50" width="25.10" height="190.00" fill="none" stroke="#666" stroke-width="1"/>
<line x1="518.73" x2="543.83" y1="162.50" y2="162.50" stroke="#888" stroke-width="1"/>
<line x1="515.73" x2="518.73" y1="193.50" y2="193.50" stroke="#666" stroke-width="1"/>
<line x1="515.73" x2="518.73" y1="158.30" y2="158.30" stroke="#666" stroke-width="1"/>
<line x1="515.73" x2="518.73" y1="123.10" y2="123.10" stroke="#666" stroke-width="1"/>
<line x1="515.73" x2="518.73" y1="87.90" y2="87.90" stroke="#666" stroke-width="1"/>
<line x1="515.73" x2="518.73" y1="52.70" y2="52.70" stroke="#666" stroke-width="1"/>
<line x1="515.73" x2="518.73" y1="17.50" y2="17.50" stroke="#666" stroke-width="1"/>
<rect x="551.14" y="10.50" width="25.10" height="190.00" fill="none" stroke="#666" stroke-width="1"/>
<line x1="551.14" x2="576.24" y1="158.50" y2="158.50" stroke="#888" stroke-width="1"/>
<line x1="548.14" x2="551.14" y1="193.50" y2="193.50" stroke="#666" stroke-width="1"/>
<line x1="548.14" x2="551.14" y1="158.30" y2="158.30" stroke="#666" stroke-width="1"/>
<line x1="548.14" x2="551.14" y1="123.10" y2="123.10" stroke="#666" stroke-width="1"/>
<line x1="548.14" x2="551.14" y1="87.90" y2="87.90" stroke="#666" stroke-width="1"/>
<line x1="548.14" x2="551.14" y1="52.70" y2="52.70" stroke="#666" stroke-width="1"/>
<line x1="548.14" x2="551.14" y1="17.50" y2="17.50" stroke="#666" stroke-width="1"/>
<rect x="583.55" y="10.50" width="25.10" height="190.00" fill="none" stroke="#666" stroke-width="1"/>
<line x1="583.55" x2="608.65" y1="157.50" y2="157.50" stroke="#888" stroke-width="1"/>
<line x1="580.55" x2="583.55" y1="193.50" y2="193.50" stroke="#666" stroke-width="1"/>
<line x1="580.55" x2="583.55" y1="158.30" y2="158.30" stroke="#666" stroke-width="1"/>
<line x1="580.55" x2="583.55" y1="123.10" y2="123.10" stroke="#666" stroke-width="1"/>
<line x1="580.55" x2="583.55" y1="87.90" y2="87.90" stroke="#666" stroke-width="1"/>
<line x1="580.55" x2="583.55" y1="52.70" y2="52.70" stroke="#666" stroke-width="1"/>
<line x1="580.55" x2="583.55" y1="17.50" y2="17.50" stroke="#666" stroke-width="1"/>
<rect x="615.96" y="10.50" width="25.10" height="190.00" fill="none" stroke="#666" stroke-width="1"/>
<line x1="615.96" x2="641.06" y1="154.50" y2="154.50" stroke="#888" stroke-width="1"/>
<line x1="612.96" x2="615.96" y1="193.50" y2="193.50" stroke="#666" stroke-width="1"/>
<line x1="612.96" x2="615.96" y1="158.30" y2="158.30" stroke="#666" stroke-width="1"/>
<line x1="612.96" x2="615.96" y1="123.10" y2="123.10" stroke="#666" stroke-width="1"/>
<line x1="612.96" x2="615.96" y1="87.90" y2="87.90" stroke="#666" stroke-width="1"/>
<line x1="612.96" x2="615.96" y1="52.70" y2="52.70" stroke="#666" stroke-width="1"/>
<line x1="612.96" x2="615.96" y1="17.50" y2="17.50" stroke="#666" stroke-width="1"/>
<rect x="648.37" y="10.50" width="25.10" height="190.00" fill="none" stroke="#666" stroke-width="1"/>
<line x1="648.37" x2="673.47" y1="149.50" y2="149.50" stroke="#888" stroke-width="1"/>
<line x1="645.37" x2="648.37" y1="193.50" y2="193.50" stroke="#666" stroke-width="1"/>
<line x1="645.37" x2="648.37" y1="158.30" y2="158.30" stroke="#666" stroke-width="1"/>
<line x1="645.37" x2="648.37" y1="123.10" y2="123.10" stroke="#666" stroke-width="1"/>
<line x1="645.37" x2="648.37" y1="87.90" y2="87.90" stroke="#666" stroke-width="1"/>
<line x1="645.37" x2="648.37" y1="52.70" y2="52.70" stroke="#666" stroke-width="1"/>
<line x1="645.37" x2="648.37" y1="17.50" y2="17.50" stroke="#666" stroke-width="1"/>
<line x1="421" x2="673.6" y1="202.1" y2="202.1" stroke="#000" stroke-width="1.5"/>
<text x="411.8" y="196.70" text-anchor="end" font-size="9.3">0.0</text>
<text x="411.8" y="161.50" text-anchor="end" font-size="9.3">0.2</text>
<text x="411.8" y="126.30" text-anchor="end" font-size="9.3">0.4</text>
<text x="411.8" y="91.10" text-anchor="end" font-size="9.3">0.6</text>
<text x="411.8" y="55.90" text-anchor="end" font-size="9.3">0.8</text>
<text x="411.8" y="20.70" text-anchor="end" font-size="9.3">1.0</text>
<text x="419.3" y="213.4" text-anchor="middle" font-size="9.3">0.0</text>
<text x="476.3" y="213.4" text-anchor="middle" font-size="9.3">0.25</text>
<text x="548.3" y="213.4" text-anchor="middle" font-size="9.3">0.5</text>
<text x="610.9" y="213.4" text-anchor="middle" font-size="9.3">0.75</text>
<text x="677" y="213.4" text-anchor="middle" font-size="9.3">1.0</text>
<text x="547.5" y="228.4" text-anchor="middle" font-size="10.3">Recombination rate quantile</text>
<text transform="translate(390.2,105.6) rotate(-90)" text-anchor="middle" font-size="10.0">Inheritance proportion from <tspan font-style="italic">C. mollissima</tspan></text>
<text x="373" y="10.6" font-size="15" font-weight="bold">b</text>
<path stroke="#de2d32" stroke-width="1.1" fill="none" d="M88.1 296.6h1.1M108.5 306.3h1.1M108.9 307.4h1.1M60.0 292.5h1.1M58.0 304.6h1.1M78.9 293.3h1.1M101.7 295.9h1.1M119.4 289.1h1.1M100.1 299.0h1.1M58.8 283.6h1.1M58.5 294.3h1.1M64.0 300.2h1.1M58.3 300.0h1.1M80.1 299.4h1.1M110.5 296.0h1.1M60.1 289.8h1.1M101.5 296.8h1.1M87.5 299.6h1.1M103.8 297.5h1.1M69.3 302.6h1.1M77.7 295.1h1.1M63.6 297.8h1.1M68.3 297.6h1.1M93.7 297.0h1.1M104.8 303.3h1.1M88.1 305.6h1.1M57.2 286.1h1.1M118.8 313.0h1.1M84.2 292.6h1.1M60.1 299.4h1.1M98.3 297.3h1.1M123.8 291.4h1.1M110.8 290.5h1.1M93.5 285.0h1.1M117.5 296.0h1.1M80.9 302.8h1.1M77.2 296.4h1.1M55.2 285.6h1.1M75.9 291.9h1.1M95.1 300.6h1.1M109.5 292.5h1.1M82.0 292.2h1.1M59.0 305.9h1.1M92.0 298.0h1.1M107.7 301.4h1.1M54.9 298.9h1.1M107.8 311.7h1.1M83.5 298.6h1.1M94.3 308.6h1.1M121.2 305.9h1.1M117.2 295.9h1.1M58.0 292.2h1.1M119.5 293.3h1.1M119.3 295.5h1.1M72.6 298.9h1.1M81.3 279.1h1.1M59.1 283.8h1.1M71.0 292.3h1.1M75.6 308.1h1.1M97.8 297.2h1.1M97.6 296.1h1.1M78.9 290.8h1.1M74.2 296.5h1.1M84.8 302.1h1.1M67.7 290.4h1.1M81.7 316.4h1.1M122.3 296.6h1.1M60.5 292.3h1.1M118.4 294.5h1.1M95.8 298.8h1.1M74.7 297.2h1.1M75.2 293.0h1.1M118.7 294.6h1.1M106.5 305.1h1.1M85.4 282.0h1.1M53.4 298.3h1.1M101.3 302.7h1.1M124.5 292.6h1.1M123.3 304.3h1.1M67.1 299.3h1.1M82.1 291.4h1.1M86.2 299.2h1.1M66.9 299.8h1.1M93.1 304.1h1.1M86.1 300.2h1.1M59.2 299.4h1.1M63.2 286.2h1.1M75.4 294.3h1.1M98.0 310.3h1.1M122.7 289.9h1.1M77.2 298.2h1.1M76.2 290.4h1.1M88.5 303.5h1.1M69.5 290.1h1.1M76.5 299.5h1.1M104.1 294.0h1.1M85.6 301.6h1.1M109.9 309.1h1.1M115.7 293.5h1.1M53.2 280.0h1.1M112.8 290.2h1.1M99.0 297.3h1.1M89.3 310.4h1.1M55.9 285.1h1.1M62.0 291.7h1.1M122.9 300.1h1.1M73.0 293.2h1.1M100.5 298.1h1.1M86.2 289.3h1.1M93.7 301.8h1.1M98.8 301.9h1.1M87.2 292.0h1.1M87.2 292.1h1.1M55.3 295.5h1.1M59.0 292.4h1.1M76.7 284.2h1.1M74.9 296.4h1.1M100.4 293.3h1.1M115.5 301.5h1.1M99.5 310.3h1.1M117.8 299.2h1.1M84.8 301.7h1.1M81.7 303.8h1.1M64.3 288.6h1.1M83.5 308.1h1.1M60.1 295.2h1.1M67.0 305.0h1.1M60.3 297.8h1.1M111.8 292.4h1.1M92.4 304.6h1.1M123.9 284.1h1.1M93.6 301.5h1.1M80.1 297.6h1.1M86.0 306.4h1.1M59.0 291.2h1.1M97.8 285.4h1.1M83.4 303.4h1.1M80.5 292.2h1.1M81.7 294.0h1.1M122.4 295.6h1.1M95.0 301.7h1.1M86.0 297.4h1.1M79.3 298.8h1.1M102.3 299.8h1.1M75.1 298.9h1.1M105.3 288.8h1.1M116.6 295.2h1.1M116.0 292.4h1.1M122.6 289.2h1.1M79.5 329.0h1.1M101.4 295.5h1.1M55.8 296.8h1.1M125.0 292.8h1.1M113.7 308.3h1.1M108.3 303.0h1.1M101.4 295.9h1.1M101.2 306.6h1.1M89.2 303.5h1.1M112.3 310.5h1.1M69.1 281.6h1.1M80.0 286.4h1.1M108.0 300.9h1.1M111.5 287.2h1.1M69.1 293.6h1.1M120.0 291.6h1.1M62.3 300.1h1.1M74.8 294.1h1.1M94.7 287.0h1.1M89.3 296.0h1.1M58.9 297.7h1.1M82.0 302.6h1.1M102.6 293.7h1.1M99.4 298.1h1.1M61.3 294.3h1.1M123.0 292.7h1.1M54.8 295.0h1.1M119.8 303.7h1.1M63.6 295.8h1.1M99.1 293.8h1.1M76.5 298.0h1.1M81.6 292.6h1.1M90.6 300.1h1.1M120.6 291.4h1.1M73.8 293.2h1.1M70.8 293.4h1.1M94.3 293.4h1.1M64.9 291.3h1.1M65.4 288.8h1.1M100.0 301.3h1.1M61.4 293.3h1.1M103.9 293.5h1.1M61.4 286.8h1.1M75.8 297.1h1.1M102.4 297.0h1.1M98.6 282.4h1.1M114.6 307.7h1.1M121.2 293.6h1.1M124.7 287.7h1.1M64.5 296.0h1.1M89.1 293.9h1.1M96.6 296.9h1.1M84.7 298.6h1.1M91.2 316.6h1.1M69.1 293.4h1.1M119.8 287.4h1.1M103.5 294.8h1.1M61.5 293.8h1.1M80.7 296.8h1.1M77.7 294.2h1.1M116.4 300.5h1.1M107.8 307.5h1.1M69.8 293.5h1.1M103.7 296.6h1.1M92.0 293.3h1.1M103.2 299.5h1.1M124.6 295.4h1.1M96.9 302.9h1.1M56.9 283.5h1.1M52.8 300.2h1.1M53.3 286.0h1.1M106.0 307.4h1.1M76.5 288.6h1.1M90.4 305.3h1.1M108.2 280.4h1.1M93.0 304.7h1.1M104.1 296.1h1.1M81.6 290.3h1.1M101.8 302.1h1.1M75.9 298.7h1.1M70.8 294.8h1.1M117.8 300.6h1.1M78.4 292.7h1.1M58.3 288.0h1.1M116.7 301.0h1.1M88.0 300.9h1.1M87.2 294.1h1.1M73.4 298.4h1.1M76.4 302.7h1.1M115.6 309.0h1.1M73.6 287.1h1.1M56.5 300.5h1.1M80.3 301.6h1.1M106.5 302.0h1.1M59.2 296.6h1.1M107.2 307.2h1.1M59.6 281.5h1.1M98.9 301.2h1.1M69.0 299.9h1.1M111.6 300.0h1.1M62.8 301.7h1.1M78.4 296.0h1.1M52.1 285.7h1.1M78.1 296.9h1.1M96.4 302.4h1.1M77.1 290.3h1.1M73.9 299.3h1.1M64.5 293.9h1.1M96.3 297.8h1.1M110.4 293.3h1.1M112.8 303.6h1.1M74.3 297.2h1.1M118.8 287.4h1.1M120.6 296.6h1.1M104.4 300.9h1.1M104.4 298.3h1.1M109.1 303.5h1.1M103.3 299.3h1.1M101.1 300.9h1.1M57.9 293.1h1.1M93.3 305.4h1.1M59.5 295.4h1.1M111.1 291.4h1.1M54.2 285.4h1.1M57.1 282.8h1.1M59.3 302.7h1.1M99.7 301.0h1.1M68.5 295.7h1.1M66.2 295.8h1.1M104.2 292.3h1.1M56.0 288.7h1.1M57.3 292.2h1.1M105.2 299.1h1.1M77.8 294.4h1.1M61.4 294.4h1.1M116.9 294.2h1.1M76.7 284.3h1.1M70.9 295.4h1.1M56.2 288.3h1.1M67.2 305.4h1.1M121.9 283.8h1.1M55.8 296.0h1.1M101.0 305.1h1.1M64.6 296.1h1.1M93.3 282.9h1.1M67.6 293.8h1.1M73.1 292.9h1.1M60.5 298.4h1.1M108.3 312.6h1.1M55.1 285.3h1.1M89.8 291.2h1.1M80.6 299.3h1.1M67.3 289.0h1.1M106.0 295.4h1.1M84.3 298.1h1.1M85.2 294.7h1.1M76.3 296.7h1.1M115.7 296.1h1.1M109.7 302.7h1.1M118.0 286.5h1.1M111.4 291.5h1.1M70.9 300.4h1.1M113.1 299.2h1.1M107.3 303.9h1.1M63.5 296.4h1.1M110.8 296.4h1.1M58.0 301.0h1.1M92.7 291.5h1.1M89.0 298.9h1.1M125.1 304.0h1.1M97.1 308.4h1.1M101.3 286.8h1.1M74.8 302.8h1.1M52.0 298.6h1.1M69.5 303.2h1.1M59.1 297.5h1.1M102.2 294.6h1.1M79.1 292.5h1.1M63.2 304.2h1.1M89.4 305.8h1.1M54.6 292.1h1.1M113.1 292.0h1.1M72.9 292.3h1.1M108.6 296.8h1.1M104.7 303.9h1.1M106.5 298.1h1.1M80.9 299.2h1.1M71.6 294.7h1.1M101.6 300.1h1.1M107.9 300.7h1.1M116.8 292.8h1.1M72.6 294.1h1.1M117.5 285.9h1.1M118.2 286.9h1.1M66.1 300.7h1.1M113.7 299.4h1.1M110.6 295.1h1.1M83.6 294.9h1.1M114.3 284.4h1.1M122.0 293.6h1.1M101.5 294.8h1.1M106.4 290.4h1.1M98.4 306.0h1.1M112.4 292.2h1.1M57.0 291.4h1.1M87.4 291.0h1.1M63.8 307.5h1.1M107.2 297.1h1.1M75.5 286.5h1.1M89.4 294.9h1.1M67.7 312.8h1.1M118.6 294.3h1.1M94.1 306.9h1.1M52.3 293.2h1.1M63.5 310.8h1.1M81.0 304.1h1.1M116.6 308.3h1.1M117.5 308.2h1.1M115.5 293.7h1.1M57.8 284.8h1.1M92.2 299.8h1.1M66.9 290.5h1.1M111.5 292.5h1.1M54.9 287.4h1.1M93.7 297.4h1.1M97.1 299.6h1.1M114.5 298.0h1.1M73.3 291.6h1.1M83.5 297.6h1.1M115.1 297.7h1.1M113.6 302.3h1.1M101.9 301.8h1.1M86.9 290.9h1.1M116.5 291.6h1.1M81.8 297.6h1.1M104.9 290.8h1.1M83.9 309.2h1.1M60.7 291.4h1.1M56.4 298.8h1.1M97.3 309.0h1.1M64.8 283.9h1.1M59.5 288.5h1.1M98.4 293.0h1.1M70.1 292.2h1.1M82.4 294.9h1.1M122.1 299.8h1.1M71.3 305.8h1.1M69.5 291.0h1.1M53.0 305.7h1.1M63.3 303.5h1.1M101.7 300.4h1.1M64.6 290.1h1.1M90.7 298.8h1.1M98.5 297.9h1.1M84.6 296.5h1.1M92.0 300.8h1.1M114.0 304.9h1.1M88.3 299.7h1.1M123.2 287.9h1.1M75.1 289.0h1.1M84.9 342.3h1.1M117.1 293.3h1.1M112.6 286.9h1.1M67.1 291.8h1.1M84.2 290.0h1.1M86.4 290.7h1.1M66.2 283.1h1.1M108.7 304.3h1.1M101.5 299.8h1.1M122.8 296.6h1.1M120.1 291.2h1.1M71.3 305.2h1.1M90.5 302.0h1.1M119.1 283.0h1.1M95.5 296.6h1.1M125.5 291.7h1.1M65.1 297.2h1.1M72.0 294.7h1.1M116.4 298.5h1.1M72.6 298.2h1.1M119.2 295.9h1.1M77.9 303.2h1.1M121.1 288.9h1.1M69.9 294.0h1.1M105.7 312.1h1.1M106.6 287.3h1.1M63.0 290.0h1.1M60.2 291.5h1.1M62.5 286.2h1.1M82.0 293.5h1.1M93.1 298.2h1.1M102.1 291.2h1.1M98.0 303.9h1.1M79.2 299.9h1.1M94.0 297.4h1.1M66.2 294.3h1.1M53.5 293.0h1.1M72.5 292.4h1.1M82.6 290.5h1.1M59.3 296.4h1.1M86.5 299.8h1.1M52.0 288.1h1.1M64.6 296.6h1.1M125.4 288.6h1.1M74.0 276.3h1.1M117.5 312.8h1.1M71.4 299.1h1.1M100.5 301.6h1.1M88.0 299.5h1.1M56.3 295.3h1.1M89.4 303.5h1.1M61.4 296.0h1.1M60.6 276.5h1.1M91.6 297.4h1.1M100.3 297.1h1.1M121.4 298.2h1.1M75.0 297.4h1.1M119.8 298.7h1.1M107.9 299.2h1.1M55.8 294.9h1.1M81.9 290.1h1.1M89.8 292.6h1.1M125.0 284.4h1.1M59.6 293.6h1.1M88.8 299.7h1.1M99.2 296.3h1.1M117.2 295.7h1.1M66.3 294.9h1.1M78.8 297.5h1.1M90.8 304.5h1.1M95.9 296.1h1.1M54.6 287.9h1.1M103.6 296.7h1.1M53.8 298.7h1.1M95.7 290.1h1.1M77.3 293.6h1.1M83.3 297.7h1.1M106.0 298.1h1.1M96.5 298.6h1.1M75.6 287.6h1.1M88.2 295.4h1.1M80.7 299.4h1.1M123.7 313.1h1.1M113.5 290.1h1.1M78.6 296.6h1.1M63.7 303.8h1.1M56.8 286.0h1.1M67.0 301.9h1.1M88.5 295.2h1.1M99.2 300.5h1.1M62.7 297.4h1.1M98.0 300.5h1.1M100.5 284.6h1.1M71.6 300.7h1.1M72.4 304.4h1.1M90.3 293.5h1.1M87.2 306.6h1.1M62.6 292.8h1.1M99.9 298.2h1.1M105.0 298.6h1.1M104.1 299.0h1.1M106.7 298.6h1.1M54.5 294.2h1.1M112.5 293.0h1.1M94.5 295.3h1.1M124.0 298.1h1.1M101.5 295.7h1.1M59.5 293.4h1.1M105.2 299.5h1.1M59.7 279.5h1.1M59.5 288.7h1.1M112.0 308.7h1.1M94.7 285.3h1.1M95.3 298.1h1.1M56.9 308.6h1.1M73.0 290.3h1.1M92.8 289.7h1.1M109.1 297.8h1.1M76.7 281.7h1.1M120.4 290.7h1.1M60.0 287.5h1.1M67.5 293.6h1.1M72.4 293.4h1.1M122.5 292.3h1.1M78.3 286.9h1.1M124.7 296.6h1.1M85.2 289.0h1.1M107.5 294.5h1.1M55.2 296.3h1.1M74.9 311.8h1.1M98.4 298.6h1.1M78.5 295.8h1.1M115.6 295.0h1.1M72.1 293.1h1.1M68.2 296.6h1.1M115.2 292.0h1.1M116.2 300.2h1.1M107.7 292.7h1.1M65.6 291.0h1.1M113.4 287.7h1.1M77.2 293.9h1.1M70.5 296.3h1.1M106.7 292.5h1.1M83.6 291.1h1.1M70.7 295.9h1.1M121.6 287.7h1.1M78.3 294.1h1.1M97.0 299.4h1.1M57.4 298.8h1.1M115.9 303.9h1.1M92.2 307.9h1.1M94.4 296.2h1.1M95.1 302.3h1.1M107.9 306.6h1.1M95.0 298.9h1.1M86.7 304.4h1.1M61.3 298.8h1.1M93.7 295.9h1.1M110.6 291.3h1.1M86.9 301.1h1.1M75.6 304.0h1.1M122.6 291.6h1.1M58.3 294.1h1.1M111.7 297.3h1.1M60.7 295.2h1.1M69.7 291.3h1.1M125.5 284.8h1.1M74.8 288.4h1.1M75.9 306.8h1.1M105.3 296.6h1.1M122.6 294.0h1.1M57.8 295.4h1.1M104.3 301.9h1.1M52.0 289.3h1.1M83.6 292.1h1.1M96.6 314.9h1.1M86.7 298.0h1.1M86.9 300.7h1.1M122.0 292.2h1.1M65.6 292.9h1.1M80.1 300.1h1.1M122.9 289.6h1.1M55.7 297.6h1.1M57.6 282.0h1.1M87.8 300.3h1.1M71.9 292.8h1.1M99.1 296.2h1.1M122.8 289.3h1.1M52.7 291.6h1.1M110.7 292.6h1.1M89.4 298.2h1.1M85.4 304.1h1.1M90.7 292.2h1.1M105.5 291.5h1.1M100.0 298.1h1.1M69.5 277.7h1.1M69.2 296.3h1.1M112.8 292.6h1.1M106.4 294.0h1.1M83.0 294.9h1.1M64.0 298.4h1.1M86.9 296.4h1.1M86.1 293.3h1.1M62.2 294.2h1.1M112.8 302.3h1.1M113.9 312.1h1.1M67.1 296.1h1.1M54.1 289.0h1.1M106.6 302.8h1.1M80.2 294.3h1.1M102.8 295.7h1.1M55.1 290.0h1.1M66.8 294.2h1.1M103.8 286.5h1.1M83.5 294.3h1.1M102.2 304.5h1.1M82.5 320.6h1.1M53.3 290.5h1.1M89.2 299.0h1.1M120.5 289.8h1.1M106.2 288.4h1.1M70.6 289.8h1.1M61.3 302.6h1.1M114.7 301.2h1.1M54.5 301.2h1.1M111.1 302.1h1.1M55.3 292.0h1.1M83.3 291.9h1.1M106.0 287.7h1.1M123.0 293.7h1.1M76.5 293.8h1.1M88.0 294.6h1.1M95.0 296.1h1.1M125.4 291.7h1.1M124.4 290.9h1.1M111.0 300.8h1.1M89.1 288.3h1.1M95.0 300.6h1.1M78.2 293.5h1.1M54.1 292.7h1.1M64.6 293.1h1.1M108.9 297.1h1.1M123.7 287.1h1.1M52.5 291.0h1.1M79.1 298.6h1.1M73.3 307.7h1.1M103.7 296.6h1.1M95.2 308.5h1.1M87.2 301.0h1.1M89.1 300.2h1.1M85.2 294.3h1.1M98.9 300.2h1.1M54.4 293.2h1.1M121.8 300.4h1.1M95.6 303.5h1.1M121.2 298.6h1.1M103.8 294.9h1.1M65.1 298.2h1.1M123.7 289.1h1.1M117.9 291.2h1.1M66.2 286.3h1.1M101.2 304.8h1.1M123.0 298.7h1.1M59.2 298.1h1.1M53.1 287.8h1.1M96.8 321.1h1.1M93.2 297.3h1.1M52.1 296.7h1.1M84.0 300.2h1.1M109.5 292.0h1.1M64.3 295.4h1.1M116.3 291.5h1.1M69.1 294.2h1.1M106.7 295.4h1.1M98.8 288.6h1.1M113.9 307.1h1.1M68.9 277.8h1.1M99.2 305.1h1.1M84.9 302.5h1.1M65.0 291.1h1.1M95.6 302.4h1.1M109.2 306.2h1.1M69.9 298.8h1.1M52.6 295.0h1.1M89.8 293.1h1.1M78.0 298.8h1.1M97.2 307.1h1.1M60.0 296.1h1.1M64.9 296.8h1.1M91.1 301.1h1.1M97.1 297.6h1.1M62.3 291.5h1.1M107.1 310.1h1.1M114.0 296.0h1.1M119.2 303.4h1.1M77.6 301.1h1.1M110.3 303.0h1.1M105.3 289.8h1.1M122.2 287.6h1.1M87.6 298.2h1.1M77.2 303.2h1.1M80.9 304.6h1.1M58.0 292.8h1.1M108.1 289.7h1.1M95.3 299.6h1.1M57.0 294.8h1.1M81.2 296.0h1.1M74.7 301.2h1.1M63.6 295.8h1.1M113.9 296.9h1.1M85.4 308.5h1.1M68.5 302.6h1.1M54.8 292.6h1.1M81.6 308.4h1.1M70.7 298.5h1.1M93.6 301.1h1.1M54.9 298.5h1.1M109.9 307.6h1.1M60.1 292.6h1.1M113.2 301.8h1.1M114.1 290.2h1.1M73.3 299.9h1.1M52.6 290.5h1.1M76.3 290.9h1.1M88.6 290.2h1.1M53.2 293.4h1.1M89.7 294.7h1.1M76.2 302.4h1.1M56.8 299.9h1.1M124.2 296.1h1.1M95.2 299.2h1.1M82.1 299.2h1.1M88.2 312.9h1.1M123.3 301.4h1.1M66.4 286.3h1.1M83.6 301.3h1.1M75.3 297.8h1.1M122.5 289.2h1.1M114.9 296.5h1.1M66.4 292.6h1.1M92.0 295.3h1.1M94.0 300.1h1.1M91.7 301.4h1.1M80.5 315.9h1.1M87.2 297.0h1.1M122.7 296.3h1.1M61.3 301.9h1.1M54.7 291.8h1.1M59.5 292.0h1.1M77.4 291.0h1.1M108.9 303.9h1.1M82.1 287.9h1.1M54.8 293.4h1.1M68.2 298.6h1.1M124.3 291.8h1.1M100.4 285.5h1.1M114.1 301.2h1.1M107.8 296.1h1.1M121.7 292.8h1.1M58.5 293.5h1.1M91.0 294.0h1.1M61.8 302.2h1.1M54.9 290.9h1.1M79.3 290.6h1.1M69.3 294.3h1.1M107.9 314.3h1.1M70.9 294.7h1.1M106.7 310.5h1.1M107.1 298.2h1.1M125.3 290.0h1.1M96.1 302.7h1.1M60.4 299.7h1.1M97.8 299.0h1.1M77.2 298.8h1.1M110.5 293.9h1.1M110.4 301.9h1.1M120.9 290.9h1.1M60.6 300.1h1.1M71.7 293.6h1.1M89.8 294.5h1.1M73.4 294.8h1.1M102.8 300.3h1.1M114.5 299.8h1.1M63.3 307.0h1.1M120.9 287.5h1.1M105.8 299.0h1.1M114.3 298.8h1.1M90.9 333.6h1.1M110.9 297.0h1.1M74.4 294.7h1.1M60.8 295.4h1.1M109.5 302.2h1.1M114.0 299.2h1.1M122.1 293.5h1.1M98.8 296.0h1.1M85.4 293.6h1.1M121.9 305.8h1.1M85.5 298.4h1.1M89.0 301.6h1.1M94.0 299.4h1.1M122.3 285.9h1.1M85.7 296.1h1.1M105.8 292.2h1.1M62.5 299.5h1.1M60.9 289.6h1.1M52.6 291.8h1.1M66.3 300.7h1.1M109.0 297.9h1.1M105.7 299.0h1.1M76.7 288.8h1.1M100.3 297.9h1.1M77.0 292.3h1.1M54.3 292.8h1.1M83.4 297.8h1.1M111.6 299.0h1.1M93.0 311.4h1.1M73.9 293.9h1.1M98.8 296.1h1.1M71.9 300.6h1.1M95.0 296.4h1.1M105.7 295.4h1.1M65.1 293.3h1.1M57.2 300.6h1.1M97.2 293.4h1.1M96.6 295.8h1.1M99.9 307.4h1.1M58.0 297.0h1.1M95.5 299.5h1.1M107.6 330.8h1.1M56.9 295.6h1.1M67.7 291.0h1.1M73.2 303.1h1.1M106.3 297.2h1.1M117.8 286.3h1.1M65.1 292.9h1.1M65.0 301.1h1.1M59.4 300.7h1.1M116.7 290.6h1.1M124.0 296.2h1.1M123.7 288.0h1.1M87.6 303.3h1.1M88.3 291.3h1.1M80.1 287.5h1.1M79.9 292.5h1.1M94.0 298.1h1.1M104.8 295.2h1.1M106.0 296.8h1.1M91.7 298.4h1.1M106.4 301.8h1.1M111.4 307.5h1.1M77.4 298.3h1.1M76.9 294.0h1.1M99.0 306.9h1.1M58.8 293.3h1.1M107.4 302.8h1.1M96.1 297.3h1.1M111.4 288.6h1.1M113.0 294.7h1.1M87.7 304.5h1.1M77.7 308.9h1.1M108.2 298.4h1.1M88.1 292.9h1.1M78.9 296.6h1.1M123.6 293.8h1.1M77.6 309.5h1.1M109.2 294.0h1.1M80.6 300.3h1.1M113.0 298.5h1.1M69.2 287.5h1.1M120.6 292.4h1.1M111.2 290.5h1.1"/>
<path stroke="#c78ce0" stroke-width="1.1" fill="none" d="M151.4 289.4h1.1M179.8 295.7h1.1M177.6 284.8h1.1M149.7 296.7h1.1M156.2 299.1h1.1M136.4 289.0h1.1M160.9 300.0h1.1M188.6 282.7h1.1M162.5 304.8h1.1M144.0 309.5h1.1M181.1 296.0h1.1M163.5 298.8h1.1M187.3 297.9h1.1M190.7 285.9h1.1M172.1 299.3h1.1M149.1 284.4h1.1M171.1 296.7h1.1M146.9 293.3h1.1M168.2 318.2h1.1M129.1 285.0h1.1M161.1 299.6h1.1M154.8 285.5h1.1M190.7 281.7h1.1M149.6 296.8h1.1M137.0 302.1h1.1M174.0 301.7h1.1M178.7 286.8h1.1M130.1 293.4h1.1M193.0 286.8h1.1M145.0 300.6h1.1M152.8 296.3h1.1M187.8 277.9h1.1M181.2 305.4h1.1M146.5 286.6h1.1M140.2 296.2h1.1M137.0 317.5h1.1M168.9 323.2h1.1M179.0 277.1h1.1M187.3 286.6h1.1M144.5 295.3h1.1M131.5 281.6h1.1M151.9 296.7h1.1M188.2 284.5h1.1M131.1 296.0h1.1M176.5 295.3h1.1M130.5 287.2h1.1M188.1 294.6h1.1M173.2 296.5h1.1M163.9 305.9h1.1M136.3 294.4h1.1M141.2 283.7h1.1M147.8 294.4h1.1M152.5 299.9h1.1M181.0 289.6h1.1M190.6 311.3h1.1M190.7 286.4h1.1M185.6 282.0h1.1M186.8 281.0h1.1M180.6 295.0h1.1M130.5 284.7h1.1M167.7 352.3h1.1M151.5 286.8h1.1M193.9 282.3h1.1M160.8 309.6h1.1M176.5 295.8h1.1M136.6 289.3h1.1M169.8 298.3h1.1M166.6 314.3h1.1M186.1 280.8h1.1M191.9 279.2h1.1M192.9 286.0h1.1M165.5 307.6h1.1M133.6 273.5h1.1M148.6 315.9h1.1M175.3 292.5h1.1M152.9 286.7h1.1M138.2 286.8h1.1M131.0 278.7h1.1M153.3 303.9h1.1M186.3 292.5h1.1M149.6 294.9h1.1M175.5 294.4h1.1M143.4 287.6h1.1M142.2 286.6h1.1M168.1 314.2h1.1M139.3 292.6h1.1M163.8 301.5h1.1M133.5 286.4h1.1M142.6 287.3h1.1M130.1 282.4h1.1M138.9 292.9h1.1M135.6 287.1h1.1M168.2 316.0h1.1M135.4 265.5h1.1M182.1 295.3h1.1M154.7 304.1h1.1M191.2 293.4h1.1M181.6 309.8h1.1M151.1 300.6h1.1M164.9 333.1h1.1M135.9 329.3h1.1M174.7 301.0h1.1M153.0 289.7h1.1M189.4 279.6h1.1M138.5 283.2h1.1M178.8 278.9h1.1M150.1 288.6h1.1M150.5 313.4h1.1M139.5 300.5h1.1M193.4 282.4h1.1M141.2 298.2h1.1M159.9 302.0h1.1M131.7 284.9h1.1M131.6 292.8h1.1M149.3 292.2h1.1M185.0 285.4h1.1M163.4 306.9h1.1M142.1 294.5h1.1M184.5 291.0h1.1M188.8 301.6h1.1M141.3 296.8h1.1M139.4 285.3h1.1M164.6 312.4h1.1M167.0 308.7h1.1M167.3 311.1h1.1M133.4 293.8h1.1M158.5 298.9h1.1M182.5 296.9h1.1M175.1 296.0h1.1M129.8 292.1h1.1M166.8 301.9h1.1M154.0 291.2h1.1M141.2 291.8h1.1M168.2 310.3h1.1M137.0 293.6h1.1M180.4 290.4h1.1M135.4 282.4h1.1M138.4 296.1h1.1M158.2 294.1h1.1M156.8 300.6h1.1M139.4 291.1h1.1M156.5 299.0h1.1M181.7 293.8h1.1M143.0 298.7h1.1M155.2 296.5h1.1M172.5 296.5h1.1M192.1 278.7h1.1M172.9 303.0h1.1M133.7 295.1h1.1M155.7 302.1h1.1M189.0 286.5h1.1M148.5 303.5h1.1M190.0 283.6h1.1M173.5 294.6h1.1M158.6 301.2h1.1M161.3 315.3h1.1M145.7 301.5h1.1M149.2 293.3h1.1M157.3 302.7h1.1M133.7 278.3h1.1M138.8 304.6h1.1M172.6 296.6h1.1M185.6 291.6h1.1M185.7 286.8h1.1M176.4 291.3h1.1M193.9 303.1h1.1M186.7 289.4h1.1M185.4 311.2h1.1M144.2 305.4h1.1M149.6 300.8h1.1M167.2 292.7h1.1M156.3 302.0h1.1M187.4 283.9h1.1M136.5 296.9h1.1M182.6 291.1h1.1M182.1 299.6h1.1M148.1 301.8h1.1M166.5 341.9h1.1M156.1 290.8h1.1M155.8 296.6h1.1M137.4 293.3h1.1M131.2 284.4h1.1M153.4 299.9h1.1M141.4 297.0h1.1M180.6 296.2h1.1M167.2 314.3h1.1M141.0 284.7h1.1M189.5 290.3h1.1M192.3 280.5h1.1M154.8 301.8h1.1M162.9 316.1h1.1M165.0 323.3h1.1M169.8 304.8h1.1M142.3 299.8h1.1M152.8 308.4h1.1M137.3 305.5h1.1M172.4 297.5h1.1M182.8 281.0h1.1M143.5 293.0h1.1M162.9 300.5h1.1M186.6 282.1h1.1M188.1 277.3h1.1M135.1 298.2h1.1M158.8 302.5h1.1M153.1 307.1h1.1M185.7 288.4h1.1M193.3 290.2h1.1M129.9 286.7h1.1M180.1 302.0h1.1M163.7 311.4h1.1M187.5 315.2h1.1M173.9 293.2h1.1M164.6 305.2h1.1M171.7 300.5h1.1M190.7 285.2h1.1M154.0 293.8h1.1M143.0 304.3h1.1M153.2 301.7h1.1M169.0 308.7h1.1M160.3 295.1h1.1M187.2 294.0h1.1M188.6 286.0h1.1M167.3 307.2h1.1M186.8 287.3h1.1M156.0 300.6h1.1M180.3 286.7h1.1M169.5 305.1h1.1M152.7 305.6h1.1M133.7 288.2h1.1M148.8 299.0h1.1M130.1 285.4h1.1M151.9 294.9h1.1M154.1 287.6h1.1M156.7 302.0h1.1M163.2 316.8h1.1M161.0 296.4h1.1M159.0 304.6h1.1M193.9 293.2h1.1M141.7 305.3h1.1M152.9 303.1h1.1M145.5 299.9h1.1M189.4 276.3h1.1M138.8 285.3h1.1M170.3 316.0h1.1M152.3 322.6h1.1M190.6 283.3h1.1M130.6 282.5h1.1M172.2 312.5h1.1M166.6 316.5h1.1M152.9 294.9h1.1M155.4 294.4h1.1M179.7 280.5h1.1M159.0 295.3h1.1M131.0 280.4h1.1M153.8 306.0h1.1M132.9 267.5h1.1M162.1 313.2h1.1M150.3 302.8h1.1M187.2 287.8h1.1M156.1 298.5h1.1M190.1 285.8h1.1M140.2 297.4h1.1M179.5 294.6h1.1M187.3 291.6h1.1M145.4 297.0h1.1M193.3 289.2h1.1M192.6 276.5h1.1M154.4 307.5h1.1M142.8 286.8h1.1M178.4 298.4h1.1M135.5 293.5h1.1M145.0 297.1h1.1M134.9 294.1h1.1M152.3 296.1h1.1M174.2 294.8h1.1M189.2 281.8h1.1M186.7 294.8h1.1M193.6 288.3h1.1M164.6 305.8h1.1M161.6 297.1h1.1M164.2 312.9h1.1M162.2 299.9h1.1M169.9 303.5h1.1M179.6 292.0h1.1M161.8 349.3h1.1M180.0 298.9h1.1M150.0 302.7h1.1M155.7 307.1h1.1M192.3 281.1h1.1M136.5 295.3h1.1M165.9 304.8h1.1M168.7 308.7h1.1M147.9 290.9h1.1M187.1 281.0h1.1M163.0 309.8h1.1M162.8 306.4h1.1M191.8 281.3h1.1M167.1 301.5h1.1M153.2 304.0h1.1M132.6 296.7h1.1M145.6 289.6h1.1M187.0 284.8h1.1M176.1 292.3h1.1M151.8 293.6h1.1M154.7 290.1h1.1M141.4 301.7h1.1M181.2 287.0h1.1M163.4 300.6h1.1M136.4 280.2h1.1M175.3 297.6h1.1M154.9 303.3h1.1M176.8 292.4h1.1M151.6 294.5h1.1M156.7 308.5h1.1M130.1 293.5h1.1M157.3 320.3h1.1M179.5 297.7h1.1M169.8 302.9h1.1M147.7 306.3h1.1M148.3 299.2h1.1M135.0 293.8h1.1M138.7 295.5h1.1M187.7 296.4h1.1M180.0 291.0h1.1M148.6 303.7h1.1M129.1 283.4h1.1M165.7 312.4h1.1M142.3 297.1h1.1M147.0 279.1h1.1M156.8 300.5h1.1M193.6 290.5h1.1M177.4 296.1h1.1M155.8 299.2h1.1M170.4 295.6h1.1M130.5 281.4h1.1M161.6 297.6h1.1M170.6 297.6h1.1M148.9 295.8h1.1M182.8 286.5h1.1M189.9 282.5h1.1M135.2 270.6h1.1M179.5 294.7h1.1M190.0 279.0h1.1M153.7 288.5h1.1M185.2 316.9h1.1M186.7 294.7h1.1M136.0 295.3h1.1M164.6 316.2h1.1M144.7 292.2h1.1M158.4 295.6h1.1M131.4 288.9h1.1M166.5 335.6h1.1M130.7 285.5h1.1M157.8 299.1h1.1M172.0 293.8h1.1M139.5 299.7h1.1M159.6 299.9h1.1M139.0 300.8h1.1M169.5 317.8h1.1M154.4 299.5h1.1M179.4 301.3h1.1M170.7 295.1h1.1M186.6 292.8h1.1M180.2 294.3h1.1M148.0 291.6h1.1M166.1 309.9h1.1M146.7 293.9h1.1M142.7 297.1h1.1M146.2 286.2h1.1M146.4 285.2h1.1M170.2 301.2h1.1M167.0 309.5h1.1M133.3 289.7h1.1M132.5 270.9h1.1M161.5 310.3h1.1M132.8 286.1h1.1M161.4 302.7h1.1M137.5 304.7h1.1M156.4 294.0h1.1M151.1 292.8h1.1M145.9 304.4h1.1M165.0 309.9h1.1M183.3 296.2h1.1M170.5 299.9h1.1M137.1 289.1h1.1M175.9 306.7h1.1M163.7 309.6h1.1M188.1 291.6h1.1M190.3 289.0h1.1M135.8 293.0h1.1M188.8 284.5h1.1M178.8 288.1h1.1M155.8 281.9h1.1M129.0 286.1h1.1M176.5 294.9h1.1M151.7 292.1h1.1M139.5 297.9h1.1M180.5 294.2h1.1M135.6 284.1h1.1M148.7 289.0h1.1M166.4 308.3h1.1M147.8 288.6h1.1M139.6 286.7h1.1M181.3 291.6h1.1M132.1 295.8h1.1M192.7 274.0h1.1M133.1 271.6h1.1M173.1 292.3h1.1M139.6 313.0h1.1M160.0 304.7h1.1M174.4 293.9h1.1M172.2 299.6h1.1M160.3 308.8h1.1M136.0 297.1h1.1M180.2 285.1h1.1M169.0 299.1h1.1M139.2 297.8h1.1M130.0 274.6h1.1M180.1 301.1h1.1M182.9 286.7h1.1M147.7 295.5h1.1M130.5 277.6h1.1M189.4 293.2h1.1M192.4 285.4h1.1M145.6 289.1h1.1M154.4 282.9h1.1M187.8 303.7h1.1M137.9 305.4h1.1M142.2 308.1h1.1M181.8 295.3h1.1M151.9 295.4h1.1M136.7 287.3h1.1M144.7 312.4h1.1M160.8 309.1h1.1M138.8 288.3h1.1M170.7 297.1h1.1M163.1 318.8h1.1M179.3 295.6h1.1M139.0 302.4h1.1M134.8 291.8h1.1M148.5 316.9h1.1M161.2 302.7h1.1M148.7 293.9h1.1M167.7 311.1h1.1M168.9 307.7h1.1M176.7 288.0h1.1M149.6 295.8h1.1M149.6 292.1h1.1M179.7 300.7h1.1M133.4 287.3h1.1M175.8 304.9h1.1M151.4 289.4h1.1M161.9 298.5h1.1M173.5 288.5h1.1M165.1 325.1h1.1M194.6 280.5h1.1M167.4 318.1h1.1M152.9 288.2h1.1M181.4 296.0h1.1M169.8 298.0h1.1M192.8 280.6h1.1M186.4 287.5h1.1M161.1 303.5h1.1M141.3 294.5h1.1M134.5 289.3h1.1M182.8 282.1h1.1M139.4 311.3h1.1M163.9 316.7h1.1M145.1 299.6h1.1M131.3 278.4h1.1M139.5 297.1h1.1M142.7 306.1h1.1M182.1 304.1h1.1M177.8 295.9h1.1M173.4 295.4h1.1M178.8 282.1h1.1M180.5 288.1h1.1M134.9 289.1h1.1M135.3 287.9h1.1M157.7 313.5h1.1M142.4 298.4h1.1M168.4 312.2h1.1M163.2 301.2h1.1M136.0 293.3h1.1M186.7 275.6h1.1M137.5 295.4h1.1M191.3 286.4h1.1M192.3 284.9h1.1M181.7 292.7h1.1M182.3 289.9h1.1M140.1 328.5h1.1M137.2 288.3h1.1M143.8 296.6h1.1M128.9 291.8h1.1M134.6 288.5h1.1M183.7 285.5h1.1M182.2 291.5h1.1M184.5 291.4h1.1M191.8 283.2h1.1M168.9 306.1h1.1M154.8 283.3h1.1M176.3 290.0h1.1M146.2 328.5h1.1M173.1 298.7h1.1M178.2 290.4h1.1M156.5 294.1h1.1M166.2 312.6h1.1M182.2 297.3h1.1M138.9 295.8h1.1M181.2 295.9h1.1M188.2 282.1h1.1M183.8 291.1h1.1M170.3 304.2h1.1M158.7 304.5h1.1M137.3 289.2h1.1M145.0 299.0h1.1M156.3 299.8h1.1M167.5 317.8h1.1M187.3 296.8h1.1M150.9 297.5h1.1M192.9 273.4h1.1M179.9 297.4h1.1M168.3 307.8h1.1M138.4 296.3h1.1M136.2 293.6h1.1M142.4 298.5h1.1M185.3 289.4h1.1M160.5 300.5h1.1M152.6 294.5h1.1M137.6 293.2h1.1M168.5 302.0h1.1M146.4 298.7h1.1M149.5 299.6h1.1M144.8 299.2h1.1M168.7 312.7h1.1M144.7 302.6h1.1M133.0 299.3h1.1M169.5 312.3h1.1M166.4 314.6h1.1M194.3 289.0h1.1M138.2 291.7h1.1M174.4 295.3h1.1M190.3 269.4h1.1M154.3 294.4h1.1M182.9 281.2h1.1M190.3 289.2h1.1M141.0 294.8h1.1M133.8 291.6h1.1M132.2 285.9h1.1M143.2 296.0h1.1M171.6 310.7h1.1M187.2 275.5h1.1M161.0 304.6h1.1M159.2 303.1h1.1M149.3 292.6h1.1M171.6 284.2h1.1M184.3 290.9h1.1M142.9 291.9h1.1M161.3 305.6h1.1M138.6 297.1h1.1M168.9 307.8h1.1M153.9 302.5h1.1M132.3 277.1h1.1M187.8 278.8h1.1M187.9 285.8h1.1M187.7 281.8h1.1M157.0 296.9h1.1M164.9 312.8h1.1M142.4 296.0h1.1M167.0 316.2h1.1M192.7 289.8h1.1M194.7 266.2h1.1M170.9 300.7h1.1M190.1 284.6h1.1M150.2 295.9h1.1M153.5 298.7h1.1M189.6 284.1h1.1M184.7 286.7h1.1M141.8 300.0h1.1M154.5 296.2h1.1M147.3 292.2h1.1M175.4 293.2h1.1M148.3 295.7h1.1M156.6 309.8h1.1M147.5 288.3h1.1M192.3 278.4h1.1M172.9 297.3h1.1M132.4 280.9h1.1M155.5 298.9h1.1M190.9 284.5h1.1M163.4 306.7h1.1M169.8 288.6h1.1M170.4 302.1h1.1M185.5 281.7h1.1M162.2 310.9h1.1M161.5 296.5h1.1M155.9 302.3h1.1M191.0 282.8h1.1M164.2 297.9h1.1M174.6 284.2h1.1M165.6 315.1h1.1M140.2 298.4h1.1M133.1 293.8h1.1M144.7 301.1h1.1M146.9 303.1h1.1M187.5 293.3h1.1M167.8 351.8h1.1M139.2 287.3h1.1M182.4 292.8h1.1M159.7 287.6h1.1M128.7 273.5h1.1M151.4 289.9h1.1M189.6 291.2h1.1M162.7 296.6h1.1M147.7 284.6h1.1M158.4 301.9h1.1M168.9 304.8h1.1M130.0 277.4h1.1M162.9 301.7h1.1M186.4 282.7h1.1M189.4 297.0h1.1M190.8 282.9h1.1M156.0 297.8h1.1M162.0 311.2h1.1M140.5 294.4h1.1M137.5 301.4h1.1M176.8 289.0h1.1M154.1 300.5h1.1M134.9 271.7h1.1M142.0 285.4h1.1M172.3 301.5h1.1M163.0 312.4h1.1M186.2 293.2h1.1M156.9 305.7h1.1M144.6 294.6h1.1M173.9 305.1h1.1M129.1 274.2h1.1M156.5 302.7h1.1M158.5 307.2h1.1M153.4 300.4h1.1M175.7 302.4h1.1M160.0 297.3h1.1M146.0 300.0h1.1M177.8 292.8h1.1M191.8 283.0h1.1M173.4 298.7h1.1M130.2 286.3h1.1M191.7 291.0h1.1M187.8 291.9h1.1M161.2 302.2h1.1M138.9 283.9h1.1M129.2 273.8h1.1M143.5 291.8h1.1M149.4 297.1h1.1M130.4 277.7h1.1M156.5 307.8h1.1M160.6 303.0h1.1M172.0 309.3h1.1M134.4 292.3h1.1M171.4 310.7h1.1M161.9 291.2h1.1M193.9 284.2h1.1M143.0 294.6h1.1M193.0 288.7h1.1M139.2 288.5h1.1M173.4 293.3h1.1M153.4 296.9h1.1M160.0 276.7h1.1M193.7 266.4h1.1M162.3 307.6h1.1M144.2 295.0h1.1M137.5 292.5h1.1M180.0 300.5h1.1M130.0 280.0h1.1M148.1 304.6h1.1M150.3 304.3h1.1M160.2 297.2h1.1M194.7 269.4h1.1M144.8 298.4h1.1M144.4 292.3h1.1M152.0 299.9h1.1M147.2 295.8h1.1M188.7 294.3h1.1M182.2 290.7h1.1M147.9 294.7h1.1M141.7 295.6h1.1M138.9 297.6h1.1M164.1 309.7h1.1M151.5 286.8h1.1M191.8 277.6h1.1M156.9 300.4h1.1M184.3 284.7h1.1M136.1 293.7h1.1M151.4 299.0h1.1M174.7 296.9h1.1M144.1 298.1h1.1M155.2 300.0h1.1M135.7 295.9h1.1M174.3 291.2h1.1M136.3 275.2h1.1M175.8 299.4h1.1M144.5 302.8h1.1M158.9 301.1h1.1M140.6 296.0h1.1M129.8 275.5h1.1M139.9 293.9h1.1M169.3 307.2h1.1M194.6 273.7h1.1M177.6 299.0h1.1M140.4 300.6h1.1M147.1 299.6h1.1M177.4 297.0h1.1M153.9 301.2h1.1M134.6 300.9h1.1M177.0 292.7h1.1M186.5 283.7h1.1M170.8 303.9h1.1M164.0 303.7h1.1M154.2 292.8h1.1M146.7 303.5h1.1M171.6 296.8h1.1M162.8 310.0h1.1M178.0 306.9h1.1M192.4 289.8h1.1M174.9 293.9h1.1M131.1 280.0h1.1M180.1 292.4h1.1M164.3 310.1h1.1M149.0 288.4h1.1M180.7 278.0h1.1M148.8 305.7h1.1M132.8 282.6h1.1M157.5 307.4h1.1M183.9 290.7h1.1M134.6 298.2h1.1M144.1 296.0h1.1M178.2 301.4h1.1M184.6 294.3h1.1M164.5 310.1h1.1M166.6 316.5h1.1M154.5 308.2h1.1M142.3 299.0h1.1M189.4 297.2h1.1M144.4 301.7h1.1M131.0 279.2h1.1M150.8 293.4h1.1M183.8 296.9h1.1M186.6 289.3h1.1M151.3 322.7h1.1M190.2 283.0h1.1"/>
<path stroke="#c5d520" stroke-width="1.1" fill="none" d="M221.5 292.1h1.1M211.2 285.9h1.1M239.5 306.3h1.1M215.5 296.2h1.1M209.9 291.0h1.1M204.3 272.4h1.1M256.0 301.3h1.1M225.2 291.5h1.1M207.8 287.5h1.1M246.6 297.8h1.1M256.4 281.0h1.1M237.4 294.7h1.1M201.5 290.0h1.1M257.9 291.3h1.1M232.2 301.6h1.1M207.1 289.0h1.1M204.0 272.5h1.1M200.6 283.4h1.1M202.9 275.7h1.1M247.6 298.7h1.1M247.9 309.2h1.1M230.4 305.5h1.1M225.5 298.4h1.1M227.2 274.5h1.1M219.3 291.0h1.1M239.6 300.8h1.1M226.0 298.8h1.1M231.1 304.2h1.1M224.4 305.8h1.1M213.2 292.8h1.1M257.8 290.7h1.1M219.5 302.1h1.1M198.8 278.5h1.1M236.4 287.5h1.1M237.1 305.5h1.1M228.3 301.0h1.1M253.8 288.3h1.1M201.1 285.1h1.1M241.8 298.2h1.1M256.6 272.7h1.1M235.0 302.6h1.1M252.4 286.3h1.1M254.3 293.9h1.1M235.3 315.0h1.1M200.9 271.5h1.1M218.1 287.6h1.1M224.8 292.0h1.1M237.0 293.1h1.1M246.5 293.3h1.1M233.4 303.4h1.1M244.3 309.9h1.1M199.6 291.1h1.1M202.3 285.9h1.1M213.4 290.3h1.1M206.7 289.7h1.1M213.6 293.5h1.1M217.3 290.3h1.1M214.6 302.2h1.1M205.9 283.3h1.1M203.3 291.6h1.1M208.1 278.8h1.1M215.3 292.0h1.1M252.5 288.2h1.1M202.1 283.5h1.1M254.3 295.7h1.1M249.9 295.6h1.1M217.6 306.9h1.1M199.9 282.3h1.1M258.3 282.8h1.1M241.2 284.9h1.1M239.8 299.7h1.1M200.6 282.8h1.1M257.5 299.4h1.1M225.3 296.6h1.1M259.1 288.6h1.1M211.8 291.8h1.1M230.5 298.1h1.1M230.5 300.8h1.1M199.2 288.8h1.1M239.7 311.7h1.1M247.9 298.4h1.1M224.5 294.1h1.1M252.0 293.5h1.1M207.1 290.1h1.1M243.6 294.5h1.1M215.2 278.9h1.1M213.0 287.3h1.1M210.2 288.5h1.1M256.3 288.5h1.1M236.5 311.3h1.1M225.5 308.2h1.1M227.3 277.4h1.1M248.8 293.4h1.1M221.2 291.1h1.1M204.0 285.9h1.1M254.3 294.8h1.1M227.5 300.1h1.1M223.1 288.2h1.1M219.6 313.5h1.1M255.8 292.8h1.1M242.3 303.9h1.1M252.7 278.3h1.1M230.3 306.3h1.1M247.2 293.6h1.1M258.0 284.3h1.1M204.0 286.5h1.1M253.5 289.8h1.1M257.4 293.4h1.1M215.1 289.8h1.1M228.4 302.4h1.1M224.3 305.1h1.1M258.6 266.0h1.1M245.9 297.0h1.1M206.7 293.0h1.1M209.3 272.5h1.1M199.7 274.9h1.1M232.5 299.8h1.1M230.2 304.2h1.1M256.7 272.5h1.1M200.9 281.3h1.1M211.6 285.1h1.1M235.3 288.1h1.1M256.5 289.2h1.1M232.9 306.4h1.1M211.7 298.5h1.1M208.1 274.7h1.1M202.4 282.8h1.1M256.1 277.8h1.1M238.7 301.0h1.1M214.4 296.1h1.1M236.5 310.7h1.1M223.1 278.8h1.1M204.9 286.7h1.1M242.2 303.2h1.1M239.5 302.7h1.1M210.1 277.1h1.1M248.0 280.9h1.1M249.0 303.8h1.1M239.9 302.1h1.1M205.4 281.0h1.1M203.4 285.4h1.1M223.4 294.6h1.1M218.7 298.6h1.1M241.7 284.4h1.1M225.6 303.0h1.1M199.2 276.5h1.1M258.4 280.9h1.1M220.0 287.0h1.1M237.8 298.2h1.1M220.9 313.3h1.1M242.4 291.2h1.1M223.1 290.9h1.1M228.1 300.0h1.1M214.2 283.6h1.1M201.8 282.5h1.1M246.9 284.2h1.1M233.7 293.3h1.1M236.1 315.4h1.1M258.9 283.7h1.1M207.7 292.6h1.1M258.5 264.0h1.1M247.7 285.9h1.1M245.7 287.8h1.1M243.3 303.4h1.1M223.1 322.5h1.1M232.4 300.8h1.1M224.1 288.9h1.1M220.6 294.0h1.1M259.0 285.1h1.1M200.0 290.1h1.1M219.0 284.0h1.1M219.6 285.5h1.1M256.1 288.7h1.1M215.0 301.8h1.1M217.7 300.1h1.1M199.1 289.9h1.1M213.2 295.1h1.1M211.2 281.1h1.1M222.6 286.9h1.1M246.0 305.4h1.1M249.1 300.5h1.1M228.0 295.0h1.1M252.4 290.1h1.1M240.1 302.9h1.1M223.9 291.0h1.1M229.9 301.9h1.1M244.7 303.6h1.1M203.7 282.9h1.1M199.9 293.7h1.1M250.3 290.9h1.1M245.1 288.5h1.1M231.8 293.4h1.1M205.4 290.2h1.1M223.0 295.0h1.1M254.8 284.5h1.1M248.1 273.3h1.1M243.0 298.2h1.1M228.2 307.0h1.1M207.4 282.5h1.1M246.9 303.6h1.1M221.7 293.3h1.1M226.6 295.9h1.1M253.9 285.3h1.1M245.8 298.6h1.1M230.1 301.3h1.1M245.6 297.2h1.1M210.2 291.0h1.1M229.5 309.8h1.1M203.4 282.5h1.1M201.9 292.9h1.1M203.9 283.9h1.1M241.8 306.4h1.1M250.0 296.3h1.1M245.2 333.9h1.1M236.2 302.1h1.1M215.2 283.7h1.1M251.1 297.3h1.1M243.7 303.5h1.1M250.8 292.0h1.1M200.6 278.4h1.1M225.9 292.5h1.1M209.1 285.1h1.1M255.2 275.5h1.1M255.3 280.7h1.1M223.3 286.1h1.1M207.9 283.4h1.1M245.7 282.1h1.1M241.1 308.4h1.1M215.9 289.8h1.1M230.8 305.1h1.1M256.3 290.0h1.1M212.9 290.5h1.1M216.9 288.7h1.1M244.8 310.1h1.1M254.0 284.7h1.1M223.6 303.0h1.1M205.3 284.9h1.1M237.7 313.8h1.1M230.5 298.0h1.1M223.8 297.4h1.1M234.5 305.2h1.1M227.2 300.9h1.1M214.1 304.5h1.1M205.7 283.0h1.1M254.8 286.1h1.1M243.8 296.4h1.1M226.1 290.8h1.1M199.2 294.3h1.1M220.9 306.0h1.1M208.2 287.7h1.1M199.7 287.8h1.1M239.9 285.2h1.1M205.2 276.9h1.1M217.8 292.6h1.1M243.7 305.4h1.1M220.4 282.9h1.1M226.5 300.1h1.1M246.6 286.5h1.1M210.9 290.1h1.1M212.8 281.3h1.1M236.3 299.7h1.1M252.2 280.2h1.1M203.3 291.8h1.1M215.7 287.8h1.1M220.3 285.5h1.1M206.0 282.6h1.1M253.2 300.0h1.1M203.9 286.5h1.1M208.3 299.1h1.1M251.4 288.0h1.1M236.7 285.2h1.1M255.8 287.4h1.1M216.1 295.5h1.1M201.6 294.3h1.1M253.1 299.5h1.1M237.5 306.3h1.1M215.1 287.6h1.1M213.6 295.6h1.1M239.1 308.1h1.1M251.2 275.5h1.1M249.5 285.2h1.1M207.6 292.7h1.1M207.8 281.6h1.1M206.8 280.7h1.1M200.8 283.6h1.1M224.0 288.5h1.1M226.6 290.7h1.1M213.3 296.1h1.1M218.0 301.6h1.1M245.5 307.9h1.1M214.1 274.2h1.1M207.8 275.9h1.1M231.4 305.7h1.1M212.3 292.3h1.1M213.5 283.3h1.1M219.6 288.0h1.1M231.4 291.5h1.1M228.1 301.0h1.1M206.6 281.9h1.1M227.6 297.7h1.1M224.8 298.3h1.1M205.0 296.0h1.1M222.8 290.7h1.1M199.7 291.7h1.1M234.1 308.7h1.1M203.8 292.7h1.1M229.8 298.6h1.1M225.4 299.0h1.1M201.2 290.9h1.1M230.7 308.0h1.1M201.1 276.6h1.1M213.1 301.1h1.1M229.2 300.6h1.1M244.0 291.4h1.1M232.5 301.4h1.1M222.5 290.9h1.1M241.8 303.1h1.1M258.8 279.6h1.1M256.4 278.6h1.1M248.9 296.1h1.1M222.9 297.1h1.1M232.1 292.1h1.1M211.9 290.8h1.1M215.6 286.8h1.1M202.8 279.6h1.1M231.8 302.4h1.1M232.2 306.3h1.1M252.2 285.6h1.1M238.2 295.1h1.1M250.9 285.4h1.1M230.5 301.1h1.1M211.5 290.8h1.1M229.0 299.1h1.1M199.4 288.8h1.1M241.4 304.8h1.1M249.0 294.6h1.1M232.3 301.1h1.1M253.2 289.7h1.1M224.9 298.3h1.1M250.1 284.1h1.1M215.2 287.3h1.1M231.9 292.3h1.1M246.5 290.5h1.1M247.0 292.7h1.1M203.2 286.1h1.1M219.6 289.2h1.1M216.2 281.4h1.1M220.7 295.1h1.1M253.6 281.3h1.1M223.1 299.8h1.1M201.3 273.9h1.1M226.2 299.4h1.1M198.9 278.2h1.1M257.0 289.2h1.1M214.4 292.3h1.1M247.5 290.6h1.1M217.4 289.2h1.1M233.8 296.4h1.1M217.1 288.1h1.1M210.0 293.9h1.1M251.6 295.0h1.1M245.5 298.1h1.1M232.9 309.7h1.1M204.9 293.2h1.1M252.0 278.5h1.1M208.4 276.6h1.1M255.3 288.4h1.1M224.3 292.6h1.1M232.3 290.7h1.1M236.0 313.7h1.1M202.9 291.5h1.1M203.9 281.9h1.1M253.0 303.0h1.1M245.9 282.2h1.1M204.4 280.5h1.1M234.8 303.2h1.1M233.3 306.9h1.1M245.7 289.3h1.1M228.6 305.2h1.1M257.2 287.4h1.1M252.2 288.2h1.1M243.0 297.3h1.1M235.5 302.5h1.1M199.0 284.5h1.1M238.2 295.3h1.1M258.5 285.3h1.1M238.7 305.5h1.1M228.4 285.9h1.1M246.9 298.8h1.1M214.9 298.7h1.1M202.4 281.0h1.1M247.6 301.3h1.1M227.3 310.1h1.1M208.9 280.5h1.1M211.5 292.2h1.1M228.5 294.7h1.1M211.8 293.0h1.1M234.9 305.8h1.1M220.2 292.3h1.1M208.4 277.2h1.1M219.6 287.4h1.1M215.7 295.3h1.1M209.0 290.5h1.1M215.9 282.5h1.1M203.0 275.7h1.1M210.0 287.0h1.1M240.0 293.7h1.1M253.4 282.1h1.1M241.6 299.3h1.1M232.2 307.4h1.1M248.9 287.9h1.1M259.0 291.7h1.1M257.6 286.1h1.1M225.2 292.2h1.1M217.3 285.2h1.1M258.1 288.2h1.1M245.3 293.5h1.1M211.2 289.1h1.1M216.6 283.9h1.1M208.3 284.0h1.1M251.2 295.8h1.1M206.9 290.4h1.1M215.9 319.0h1.1M226.6 290.7h1.1M210.9 290.9h1.1M214.4 294.4h1.1M226.2 313.5h1.1M253.5 279.3h1.1M206.9 283.7h1.1M247.7 283.2h1.1M231.8 303.4h1.1M222.7 291.2h1.1M199.4 277.9h1.1M223.7 306.7h1.1M229.4 295.7h1.1M231.5 302.1h1.1M203.6 284.5h1.1M225.8 304.4h1.1M244.7 301.2h1.1M245.9 301.1h1.1M228.2 292.6h1.1M216.8 282.7h1.1M205.2 293.5h1.1M221.4 294.9h1.1M249.1 293.4h1.1M230.5 303.4h1.1M253.5 291.3h1.1M215.4 303.6h1.1M242.3 297.4h1.1M232.4 309.7h1.1M222.8 294.1h1.1M218.3 302.8h1.1M224.4 310.8h1.1M203.0 282.4h1.1M255.5 276.3h1.1M227.8 311.5h1.1M254.4 292.6h1.1M209.9 276.6h1.1M199.3 287.7h1.1M238.5 302.9h1.1M211.9 290.8h1.1M255.0 282.7h1.1M246.9 304.8h1.1M224.1 303.2h1.1M242.6 299.2h1.1M204.1 301.2h1.1M224.2 297.9h1.1M243.5 298.3h1.1M252.1 294.6h1.1M228.5 299.1h1.1M219.1 291.3h1.1M203.0 285.3h1.1M210.0 299.0h1.1M228.3 303.2h1.1M210.3 283.9h1.1M256.5 307.2h1.1M258.0 289.0h1.1M254.3 286.7h1.1M245.7 301.1h1.1M219.8 302.3h1.1M219.9 284.9h1.1M211.2 286.5h1.1M231.0 297.1h1.1M221.4 302.3h1.1M212.3 293.0h1.1M229.9 297.0h1.1M229.7 285.0h1.1M214.0 288.4h1.1M248.3 284.8h1.1M249.4 291.9h1.1M253.0 283.9h1.1M237.7 309.6h1.1M248.0 294.7h1.1M245.8 304.6h1.1M230.7 302.5h1.1M200.2 288.0h1.1M249.2 294.6h1.1M229.1 294.0h1.1M220.3 301.2h1.1M222.3 293.2h1.1M227.6 311.3h1.1M258.2 292.3h1.1M216.9 290.0h1.1M208.0 285.3h1.1M256.1 286.3h1.1M249.1 274.1h1.1M221.6 293.6h1.1M216.4 285.8h1.1M217.3 277.3h1.1M224.6 306.3h1.1M252.7 283.7h1.1M241.2 300.3h1.1M221.9 308.9h1.1M222.2 287.4h1.1M224.4 296.2h1.1M201.1 279.1h1.1M216.4 286.0h1.1M256.9 298.1h1.1M248.4 291.9h1.1M217.7 297.6h1.1M204.7 294.1h1.1M245.3 292.3h1.1M209.1 295.6h1.1M253.5 284.5h1.1M234.7 340.4h1.1M246.0 308.4h1.1M214.7 278.6h1.1M215.8 303.2h1.1M258.8 274.4h1.1M233.1 306.1h1.1M236.3 353.0h1.1M247.0 295.8h1.1M244.8 306.0h1.1M209.9 283.4h1.1M257.1 285.7h1.1M201.0 281.9h1.1M215.9 271.2h1.1M250.5 285.4h1.1M247.1 296.9h1.1M230.2 302.3h1.1M247.6 287.7h1.1M225.7 301.2h1.1M221.7 297.9h1.1M245.9 302.0h1.1M219.1 285.1h1.1M247.5 287.1h1.1M208.0 295.3h1.1M250.7 280.1h1.1M208.4 292.4h1.1M242.8 301.9h1.1M211.0 283.8h1.1M226.6 305.8h1.1M211.1 295.5h1.1M201.8 284.9h1.1M252.0 288.9h1.1M240.9 309.2h1.1M254.3 291.4h1.1M206.7 312.5h1.1M204.4 283.4h1.1M229.6 303.0h1.1M245.2 294.9h1.1M207.4 288.1h1.1M230.5 312.4h1.1M244.7 301.1h1.1M226.3 293.7h1.1M255.8 291.8h1.1M219.7 305.2h1.1M257.9 283.4h1.1M247.1 288.6h1.1M203.6 287.9h1.1M207.3 284.4h1.1M236.7 311.5h1.1M227.9 306.4h1.1M238.9 313.4h1.1M218.6 298.2h1.1M218.8 298.5h1.1M202.8 282.6h1.1M234.5 317.7h1.1M246.7 288.8h1.1M234.0 321.0h1.1M201.2 280.3h1.1M242.4 295.1h1.1M226.0 298.0h1.1M250.7 299.5h1.1M248.5 320.5h1.1M240.8 294.9h1.1M249.0 280.0h1.1M211.0 287.2h1.1M234.4 302.8h1.1M229.0 300.3h1.1M232.7 305.2h1.1M206.0 285.2h1.1M209.7 287.1h1.1M246.9 294.3h1.1M223.3 285.8h1.1M255.7 286.3h1.1M242.4 291.5h1.1M235.9 304.6h1.1M201.8 281.6h1.1M204.6 284.6h1.1M222.3 290.8h1.1M244.6 300.3h1.1M258.3 280.4h1.1M214.0 294.4h1.1M233.5 303.3h1.1M200.7 281.7h1.1M241.4 298.4h1.1M223.5 291.3h1.1M204.4 283.6h1.1M209.1 291.0h1.1M213.1 288.7h1.1M223.1 300.8h1.1M249.2 297.2h1.1M219.2 284.0h1.1M221.4 288.1h1.1M201.0 281.5h1.1M201.5 264.0h1.1M243.8 295.8h1.1M239.0 308.8h1.1M234.9 304.4h1.1M217.5 281.1h1.1M228.0 295.9h1.1M243.1 301.4h1.1M220.2 297.8h1.1M238.1 308.7h1.1M229.5 292.8h1.1M202.6 286.5h1.1M246.5 288.5h1.1M251.9 289.4h1.1M210.2 298.4h1.1M219.2 287.9h1.1M251.7 286.1h1.1M214.7 307.7h1.1M208.3 285.5h1.1M216.9 286.4h1.1M233.9 303.6h1.1M215.0 289.1h1.1M244.9 293.5h1.1M242.7 294.1h1.1M220.1 291.1h1.1M214.6 302.9h1.1M230.2 308.7h1.1M211.7 292.6h1.1M235.3 291.9h1.1M225.7 287.6h1.1M232.6 306.0h1.1M213.8 281.7h1.1M253.6 286.3h1.1M239.7 293.7h1.1M231.1 293.2h1.1M206.9 283.6h1.1M227.6 302.2h1.1M238.2 307.6h1.1M245.2 289.6h1.1M214.0 289.7h1.1M207.4 277.1h1.1M246.0 282.4h1.1M256.4 287.8h1.1M241.6 290.6h1.1M241.9 304.2h1.1M239.2 302.2h1.1M213.8 283.3h1.1M223.6 292.9h1.1M201.4 288.1h1.1M256.7 275.9h1.1M227.0 296.6h1.1M255.0 281.5h1.1M215.5 290.1h1.1M258.4 273.7h1.1M231.7 296.0h1.1M232.0 302.4h1.1M214.1 293.5h1.1M228.2 298.0h1.1M212.7 286.0h1.1M254.3 280.9h1.1M200.5 282.2h1.1M241.5 300.8h1.1M232.0 309.0h1.1M233.0 304.9h1.1M242.4 299.2h1.1M218.9 296.7h1.1M215.6 272.5h1.1M214.1 291.4h1.1M247.1 300.0h1.1M255.1 285.5h1.1M252.4 295.0h1.1M209.5 280.6h1.1M205.1 292.4h1.1M253.9 292.9h1.1M243.6 314.2h1.1M203.6 278.3h1.1M214.8 284.0h1.1M247.6 283.5h1.1M232.5 299.7h1.1M212.2 279.8h1.1M218.5 287.3h1.1M215.8 294.4h1.1M226.7 301.2h1.1M211.3 283.9h1.1M229.4 324.1h1.1M201.0 289.8h1.1M238.2 298.9h1.1M240.6 289.2h1.1M228.4 294.6h1.1M237.4 300.8h1.1M237.6 338.1h1.1M226.7 290.4h1.1M228.0 297.6h1.1M204.7 287.2h1.1M250.5 290.0h1.1M250.7 288.9h1.1M204.2 293.3h1.1M249.6 293.6h1.1M228.6 288.4h1.1M256.3 288.8h1.1M247.0 293.4h1.1M216.6 278.5h1.1M219.3 279.8h1.1M232.1 305.2h1.1M250.0 287.1h1.1M231.1 304.1h1.1M241.8 291.3h1.1M249.0 300.8h1.1M229.7 291.0h1.1M211.9 292.6h1.1M220.6 315.9h1.1M243.1 308.5h1.1M231.4 305.3h1.1M248.3 301.3h1.1M237.9 311.0h1.1M212.7 294.9h1.1M215.0 309.2h1.1M201.4 283.7h1.1M220.9 299.4h1.1M232.2 299.3h1.1M246.1 295.5h1.1M204.9 293.3h1.1M254.5 286.0h1.1M223.8 303.9h1.1M230.5 290.2h1.1M234.0 301.1h1.1M208.2 282.9h1.1M207.2 281.6h1.1M206.2 290.7h1.1M224.8 287.2h1.1M240.0 298.6h1.1M257.6 290.3h1.1M224.2 297.5h1.1M202.0 283.6h1.1M227.0 297.0h1.1M258.0 286.9h1.1M214.2 280.7h1.1M206.7 285.0h1.1M224.3 296.5h1.1M216.8 293.7h1.1M216.8 293.1h1.1M214.6 320.1h1.1M209.2 287.2h1.1M233.1 302.1h1.1M200.7 279.4h1.1M222.8 282.1h1.1M215.5 276.5h1.1M208.8 284.3h1.1M223.5 318.0h1.1M252.2 302.4h1.1M200.4 300.8h1.1M213.6 305.6h1.1M253.8 292.2h1.1M232.2 301.9h1.1M211.4 285.6h1.1M247.7 293.6h1.1M247.6 285.9h1.1M206.7 281.4h1.1M226.5 287.8h1.1M215.4 297.1h1.1M228.6 300.2h1.1M249.6 295.7h1.1M251.2 280.0h1.1M256.4 279.7h1.1M255.6 295.3h1.1M236.3 303.3h1.1M225.9 300.5h1.1M228.5 307.5h1.1M237.2 302.9h1.1M217.4 291.4h1.1M240.9 298.9h1.1M226.3 289.3h1.1M228.0 299.9h1.1M208.9 272.0h1.1M254.1 281.1h1.1M242.5 302.1h1.1M211.7 296.4h1.1M229.1 297.4h1.1M231.1 299.4h1.1M246.7 298.0h1.1M255.8 281.6h1.1M238.5 293.6h1.1M244.1 279.3h1.1M215.5 273.2h1.1M240.4 298.8h1.1M225.7 296.6h1.1M238.3 298.2h1.1M207.4 281.4h1.1M202.2 286.6h1.1M255.1 300.1h1.1M207.4 286.6h1.1M201.4 285.4h1.1M233.3 298.9h1.1M203.1 293.9h1.1M230.6 283.7h1.1M208.9 296.3h1.1M249.7 293.7h1.1M257.3 283.1h1.1M206.3 281.3h1.1M209.7 300.9h1.1M199.2 287.9h1.1M238.2 305.3h1.1M206.5 278.1h1.1M257.3 290.8h1.1M215.8 288.3h1.1M219.1 292.5h1.1M221.0 287.6h1.1M233.8 310.4h1.1M240.3 296.0h1.1M255.0 297.2h1.1M243.4 275.5h1.1M221.6 301.3h1.1M214.6 290.3h1.1M250.3 291.4h1.1M247.0 301.0h1.1M221.4 293.7h1.1M216.6 301.2h1.1M234.9 304.7h1.1M203.9 285.5h1.1M245.6 298.3h1.1M215.0 282.4h1.1M213.7 297.0h1.1M222.0 293.5h1.1M226.7 297.1h1.1M249.3 283.1h1.1M224.8 298.2h1.1M221.9 292.1h1.1M233.8 297.3h1.1M219.3 295.1h1.1M208.6 286.8h1.1M256.0 292.3h1.1M242.9 304.2h1.1M228.9 304.9h1.1M215.4 290.5h1.1M211.1 301.3h1.1"/>
<path stroke="#2449b0" stroke-width="1.1" fill="none" d="M312.5 280.4h1.1M303.7 287.8h1.1M288.9 300.8h1.1M303.5 283.0h1.1M266.2 300.5h1.1M301.9 290.8h1.1M283.3 298.0h1.1M301.7 287.3h1.1M290.3 296.9h1.1M269.7 288.0h1.1M309.1 288.5h1.1M286.7 306.3h1.1M280.4 305.1h1.1M302.3 289.6h1.1M268.7 280.6h1.1M302.8 294.5h1.1M298.5 282.4h1.1M273.3 276.3h1.1M277.9 287.7h1.1M291.0 291.9h1.1M271.2 274.9h1.1M312.6 275.4h1.1M312.7 281.4h1.1M303.3 276.4h1.1M309.0 284.6h1.1M301.0 284.1h1.1M267.8 285.0h1.1M264.7 284.3h1.1M267.1 286.3h1.1M288.6 306.6h1.1M299.0 283.6h1.1M272.3 300.1h1.1M313.4 280.8h1.1M286.5 291.3h1.1M282.2 301.0h1.1M302.1 291.5h1.1M303.1 290.5h1.1M311.2 275.1h1.1M287.5 300.7h1.1M288.5 299.3h1.1M309.3 292.1h1.1M280.3 317.7h1.1M305.1 287.5h1.1M312.4 275.1h1.1M298.4 286.1h1.1M281.6 293.0h1.1M297.8 285.1h1.1M280.6 305.0h1.1M280.4 293.9h1.1M269.4 289.9h1.1M303.0 289.7h1.1M283.6 306.3h1.1M295.5 285.0h1.1M295.2 286.4h1.1M306.0 269.9h1.1M266.7 283.2h1.1M304.7 283.2h1.1M307.2 281.6h1.1M278.3 294.4h1.1M273.3 300.8h1.1M272.3 287.9h1.1M312.7 274.9h1.1M306.7 292.4h1.1M283.8 295.1h1.1M280.0 298.8h1.1M284.7 294.8h1.1M264.6 286.8h1.1M272.5 301.1h1.1M278.9 295.3h1.1M297.2 302.6h1.1M272.1 284.2h1.1M275.8 296.2h1.1M266.1 284.0h1.1M279.2 291.4h1.1M296.0 295.1h1.1M297.4 287.6h1.1M300.4 278.9h1.1M292.5 286.2h1.1M299.1 289.4h1.1M280.0 301.4h1.1M298.1 296.0h1.1M274.7 277.6h1.1M307.0 279.1h1.1M263.4 282.8h1.1M299.9 293.0h1.1M306.9 290.0h1.1M266.8 291.1h1.1M284.7 301.0h1.1M277.2 285.0h1.1M288.1 294.7h1.1M279.6 306.9h1.1M270.3 289.1h1.1M314.7 280.7h1.1M268.3 281.9h1.1M299.8 280.6h1.1M265.0 278.2h1.1M312.4 286.1h1.1M292.7 285.7h1.1M288.2 308.8h1.1M302.8 285.4h1.1M305.6 291.0h1.1M301.7 285.1h1.1M305.8 287.7h1.1M304.5 293.9h1.1M310.3 288.8h1.1M270.9 289.0h1.1M269.0 296.2h1.1M302.8 294.9h1.1M289.7 283.7h1.1M272.0 296.2h1.1M275.3 292.6h1.1M274.9 281.4h1.1M290.6 294.2h1.1M296.6 283.0h1.1M301.1 291.7h1.1M272.9 291.5h1.1M268.2 287.7h1.1M294.9 283.2h1.1M308.0 282.9h1.1M264.6 283.8h1.1M287.0 302.5h1.1M268.7 296.2h1.1M280.9 301.5h1.1M278.8 297.7h1.1M298.8 278.9h1.1M289.0 298.3h1.1M279.8 297.7h1.1M312.9 277.7h1.1M310.2 287.4h1.1M278.0 293.0h1.1M304.5 289.0h1.1M265.0 283.2h1.1M310.6 295.1h1.1M288.9 296.5h1.1M263.1 301.1h1.1M289.1 314.1h1.1M313.1 278.0h1.1M289.6 311.5h1.1M298.7 283.0h1.1M296.7 287.9h1.1M300.6 294.4h1.1M297.7 284.9h1.1M305.8 286.2h1.1M296.3 292.5h1.1M292.7 287.9h1.1M278.8 295.6h1.1M267.3 280.6h1.1M311.9 283.8h1.1M299.9 289.0h1.1M265.4 276.6h1.1M264.5 276.7h1.1M313.5 287.3h1.1M284.3 299.0h1.1M278.0 280.9h1.1M312.2 277.8h1.1M273.7 292.1h1.1M271.9 282.4h1.1M263.5 296.3h1.1M305.9 283.5h1.1M288.2 288.5h1.1M285.4 300.0h1.1M306.7 281.5h1.1M311.4 277.6h1.1M297.4 302.4h1.1M263.1 279.2h1.1M281.5 300.1h1.1M274.6 290.4h1.1M271.9 295.0h1.1M270.7 289.2h1.1M279.9 299.6h1.1M283.4 295.8h1.1M299.3 300.1h1.1M283.9 312.8h1.1M307.2 279.1h1.1M295.0 288.6h1.1M273.8 285.8h1.1M274.3 302.5h1.1M311.9 279.8h1.1M306.3 287.1h1.1M306.6 295.8h1.1M277.7 296.8h1.1M287.7 299.6h1.1M295.8 288.6h1.1M271.0 286.1h1.1M279.8 296.7h1.1M313.9 282.3h1.1M284.2 288.6h1.1M286.0 299.8h1.1M278.9 297.4h1.1M287.4 298.9h1.1M299.6 292.6h1.1M281.3 296.8h1.1M307.3 286.3h1.1M302.6 287.6h1.1M269.9 289.4h1.1M276.7 293.4h1.1M287.2 303.7h1.1M275.8 314.9h1.1M263.2 279.8h1.1M265.8 300.5h1.1M281.8 287.0h1.1M300.8 292.2h1.1M264.2 281.5h1.1M281.0 295.4h1.1M299.5 284.8h1.1M313.2 278.1h1.1M293.8 292.8h1.1M264.1 285.4h1.1M314.9 279.0h1.1M267.2 286.0h1.1M277.3 288.2h1.1M267.4 279.1h1.1M304.7 286.3h1.1M305.0 283.7h1.1M291.1 309.4h1.1M311.7 280.8h1.1M300.2 283.2h1.1M311.0 280.4h1.1M285.8 299.4h1.1M297.9 285.1h1.1M264.9 290.5h1.1M280.3 305.5h1.1M300.0 286.4h1.1M306.1 287.2h1.1M281.0 304.8h1.1M279.3 294.6h1.1M291.0 306.5h1.1M302.5 289.1h1.1M263.5 280.4h1.1M269.8 287.4h1.1M298.4 294.3h1.1M271.0 288.2h1.1M295.7 293.8h1.1M302.5 291.2h1.1M277.3 282.8h1.1M271.2 290.3h1.1M299.6 312.5h1.1M314.4 279.7h1.1M282.6 296.8h1.1M275.3 286.8h1.1M308.0 279.0h1.1M284.9 307.3h1.1M311.7 286.8h1.1M274.4 295.1h1.1M286.8 298.9h1.1M283.2 300.8h1.1M292.2 288.7h1.1M312.1 283.4h1.1M301.5 309.9h1.1M264.2 292.5h1.1M310.2 289.0h1.1M267.9 291.0h1.1M301.7 289.1h1.1M311.8 286.5h1.1M309.4 282.3h1.1M295.7 298.8h1.1M287.4 295.9h1.1M302.4 282.9h1.1M299.8 286.1h1.1M291.6 297.2h1.1M265.4 278.2h1.1M293.2 288.6h1.1M271.8 286.1h1.1M298.2 272.9h1.1M295.9 287.2h1.1M305.1 295.9h1.1M273.6 291.2h1.1M297.7 287.9h1.1M292.3 300.3h1.1M281.7 307.1h1.1M288.2 319.8h1.1M276.3 283.4h1.1M301.1 280.6h1.1M273.2 301.8h1.1M283.4 300.8h1.1M290.8 282.0h1.1M284.0 306.6h1.1M274.0 289.4h1.1M303.5 291.1h1.1M303.6 277.7h1.1M288.9 283.4h1.1M295.4 278.8h1.1M308.1 292.7h1.1M315.0 273.9h1.1M268.0 284.1h1.1M271.4 298.4h1.1M266.7 290.6h1.1M282.4 306.4h1.1M288.7 295.9h1.1M314.6 281.0h1.1M283.2 301.7h1.1M299.3 296.1h1.1M268.5 287.6h1.1M269.8 288.1h1.1M274.7 301.0h1.1M272.8 294.2h1.1M292.3 292.0h1.1M311.9 269.5h1.1M307.0 283.4h1.1M270.3 290.7h1.1M263.8 287.2h1.1M282.4 300.2h1.1M290.9 292.1h1.1M289.5 296.1h1.1M302.0 280.8h1.1M296.5 292.0h1.1M266.5 280.4h1.1M302.5 282.6h1.1M305.3 285.8h1.1M269.4 283.3h1.1M294.7 281.7h1.1M294.0 298.4h1.1M303.1 282.8h1.1M305.9 287.2h1.1M296.8 289.9h1.1M282.7 323.2h1.1M297.3 285.9h1.1M277.6 291.2h1.1M264.9 290.7h1.1M297.0 282.7h1.1M275.2 287.9h1.1M265.6 287.9h1.1M308.0 288.3h1.1M273.9 317.6h1.1M272.6 305.7h1.1M311.8 298.6h1.1M285.4 290.5h1.1M275.6 296.1h1.1M299.9 283.7h1.1M286.4 299.9h1.1M296.2 288.3h1.1M271.8 292.2h1.1M301.4 292.4h1.1M309.5 282.3h1.1M286.0 297.8h1.1M263.0 296.4h1.1M293.4 285.2h1.1M304.2 280.9h1.1M265.6 287.3h1.1M314.1 287.5h1.1M275.5 291.3h1.1M294.8 282.8h1.1M284.0 306.8h1.1M293.8 287.0h1.1M268.1 292.5h1.1M288.9 288.5h1.1M309.5 264.0h1.1M279.6 285.1h1.1M315.0 270.4h1.1M265.5 287.7h1.1M265.5 300.2h1.1M296.7 286.3h1.1M263.8 278.5h1.1M307.9 281.3h1.1M301.1 287.6h1.1M287.9 283.1h1.1M263.7 291.0h1.1M297.7 292.2h1.1M275.4 288.3h1.1M280.6 292.1h1.1M302.7 287.4h1.1M264.5 293.5h1.1M289.9 295.7h1.1M285.9 288.6h1.1M305.3 283.4h1.1M270.9 292.9h1.1M292.4 287.6h1.1M309.8 284.4h1.1M293.8 288.3h1.1M296.9 289.7h1.1M305.0 289.3h1.1M276.9 274.1h1.1M293.5 288.9h1.1M263.4 287.0h1.1M286.2 297.9h1.1M315.4 283.0h1.1M298.5 291.9h1.1M309.3 281.3h1.1M272.4 285.9h1.1M297.9 282.1h1.1M270.4 291.2h1.1M289.2 298.5h1.1M263.8 291.3h1.1M275.9 302.5h1.1M269.8 284.1h1.1M297.8 281.6h1.1M293.3 295.3h1.1M314.3 286.7h1.1M310.5 288.4h1.1M278.4 290.3h1.1M268.6 280.0h1.1M287.7 293.1h1.1M292.8 285.6h1.1M297.5 301.1h1.1M297.7 291.1h1.1M274.1 284.7h1.1M304.7 282.0h1.1M271.3 297.3h1.1M300.0 279.6h1.1M312.3 282.2h1.1M309.2 276.7h1.1M308.2 273.4h1.1M300.6 291.3h1.1M286.7 295.6h1.1M306.3 280.0h1.1M303.1 297.5h1.1M283.0 304.1h1.1M313.3 283.0h1.1M293.4 299.2h1.1M277.7 289.6h1.1M263.2 284.4h1.1M275.0 295.7h1.1M271.8 289.7h1.1M312.2 288.0h1.1M269.4 286.0h1.1M263.7 284.2h1.1M305.4 289.5h1.1M275.0 283.9h1.1M300.4 283.3h1.1M267.4 282.8h1.1M281.0 295.7h1.1M308.0 282.9h1.1M310.9 300.5h1.1M306.6 279.5h1.1M277.0 302.5h1.1M279.0 287.5h1.1M291.6 291.7h1.1M275.6 293.3h1.1M299.3 291.4h1.1M273.3 281.1h1.1M309.9 290.8h1.1M264.0 293.6h1.1M286.9 290.4h1.1M298.9 294.2h1.1M268.9 291.5h1.1M275.8 300.3h1.1M264.6 290.5h1.1M289.9 290.6h1.1M270.1 285.8h1.1M283.9 274.7h1.1M282.0 302.4h1.1M277.3 296.9h1.1M279.1 293.8h1.1M314.4 274.9h1.1M303.3 284.2h1.1M303.0 285.0h1.1M272.9 281.8h1.1M272.5 284.4h1.1M301.7 279.6h1.1M265.7 285.7h1.1M268.0 292.3h1.1M288.9 293.6h1.1M282.0 290.5h1.1M278.1 297.0h1.1M287.6 304.5h1.1M298.5 289.9h1.1M295.0 293.0h1.1M296.6 294.1h1.1M291.5 292.0h1.1M312.6 287.0h1.1M304.0 287.9h1.1M264.6 284.2h1.1M289.0 305.1h1.1M276.8 305.9h1.1M306.2 279.1h1.1M299.6 289.7h1.1M282.6 312.5h1.1M308.0 282.6h1.1M307.8 270.3h1.1M298.0 291.2h1.1M266.1 290.4h1.1M290.7 300.9h1.1M284.0 300.7h1.1M301.2 334.4h1.1M290.1 292.4h1.1M280.4 284.1h1.1M294.7 289.7h1.1M296.7 297.1h1.1M268.2 285.6h1.1M266.9 287.6h1.1M272.7 290.0h1.1M278.8 294.6h1.1M290.0 293.5h1.1M297.6 299.3h1.1M272.0 296.5h1.1M308.8 278.8h1.1M286.2 300.4h1.1M282.6 318.1h1.1M275.8 295.5h1.1M302.7 278.2h1.1M295.5 285.5h1.1M290.1 289.5h1.1M269.5 283.7h1.1M298.4 272.8h1.1M277.2 288.8h1.1M285.7 296.9h1.1M299.4 283.0h1.1M288.3 303.1h1.1M265.9 288.3h1.1M291.7 292.7h1.1M268.9 283.2h1.1M284.4 287.3h1.1M272.2 289.3h1.1M294.2 290.0h1.1M308.1 286.2h1.1M289.1 291.7h1.1M288.4 283.3h1.1M285.1 297.5h1.1M292.6 286.2h1.1M270.9 289.0h1.1M268.9 277.2h1.1M299.4 298.5h1.1M282.9 297.5h1.1M295.6 291.4h1.1M314.9 275.4h1.1M315.2 281.6h1.1M263.8 283.3h1.1M284.7 312.7h1.1M307.4 284.6h1.1M272.9 285.7h1.1M274.1 310.5h1.1M263.9 285.3h1.1M279.8 301.8h1.1M303.9 286.1h1.1M283.4 300.8h1.1M312.4 274.1h1.1M291.5 298.8h1.1M278.7 289.8h1.1M292.3 290.8h1.1M274.0 286.7h1.1M301.9 290.3h1.1M308.2 285.9h1.1M306.6 320.6h1.1M294.3 295.3h1.1M285.6 304.0h1.1M280.1 303.0h1.1M310.8 272.5h1.1M269.2 284.9h1.1M295.9 291.1h1.1M280.1 288.9h1.1M309.4 282.9h1.1M313.9 289.7h1.1M292.3 286.9h1.1M285.0 302.4h1.1M281.1 298.2h1.1M267.5 294.2h1.1M303.0 293.8h1.1M277.4 292.6h1.1M294.6 288.6h1.1M271.0 292.5h1.1M282.4 298.0h1.1M300.6 288.3h1.1M304.6 288.1h1.1M312.1 297.1h1.1M264.5 286.3h1.1M312.1 281.7h1.1M266.2 281.2h1.1M272.0 287.2h1.1M280.9 301.8h1.1M268.0 284.5h1.1M276.9 313.8h1.1M314.8 290.4h1.1M293.9 281.8h1.1M314.8 270.6h1.1M299.6 285.0h1.1M277.3 292.1h1.1M303.4 281.0h1.1M281.8 312.0h1.1M304.4 283.7h1.1M309.3 278.0h1.1M291.3 289.2h1.1M267.3 282.3h1.1M298.0 296.3h1.1M288.8 289.7h1.1M310.7 285.8h1.1M268.4 286.7h1.1M299.9 294.5h1.1M273.4 289.5h1.1M284.6 303.2h1.1M267.6 280.1h1.1M314.9 284.7h1.1M292.5 284.0h1.1M272.5 281.7h1.1M294.5 292.1h1.1M276.5 288.7h1.1M287.8 298.0h1.1M268.6 292.8h1.1M305.7 296.8h1.1M273.2 286.0h1.1M265.3 294.2h1.1M300.8 291.3h1.1M295.0 296.2h1.1M314.7 280.7h1.1M273.0 282.1h1.1M283.8 288.4h1.1M311.6 278.9h1.1M309.2 283.9h1.1M263.9 294.6h1.1M314.2 283.8h1.1M310.8 283.7h1.1M266.0 292.5h1.1M296.1 286.1h1.1M308.1 286.6h1.1M309.9 275.0h1.1M306.2 282.9h1.1M283.5 304.2h1.1M273.3 306.9h1.1M295.0 301.3h1.1M283.5 321.3h1.1M313.4 277.6h1.1M310.7 291.6h1.1M304.3 291.4h1.1M269.9 280.2h1.1M307.0 279.1h1.1M277.9 299.6h1.1M275.8 310.2h1.1M315.1 297.5h1.1M302.7 285.3h1.1M292.6 301.9h1.1M275.3 292.6h1.1M266.3 288.2h1.1M308.1 278.7h1.1M307.8 294.4h1.1M311.2 281.9h1.1M281.3 300.6h1.1M277.5 290.4h1.1M292.1 295.1h1.1M264.4 284.0h1.1M277.0 288.5h1.1M290.3 294.7h1.1M272.3 298.9h1.1M278.0 299.9h1.1M314.6 290.7h1.1M288.7 292.5h1.1M302.3 282.2h1.1M287.9 305.2h1.1M293.7 295.7h1.1M270.7 291.5h1.1M281.3 290.3h1.1M293.8 296.4h1.1M303.6 284.3h1.1M302.8 292.2h1.1M287.5 299.3h1.1M269.1 285.3h1.1M265.7 284.6h1.1M267.9 287.6h1.1M278.3 295.7h1.1M275.5 284.1h1.1M288.9 302.6h1.1M270.3 294.1h1.1M278.9 299.3h1.1M309.0 287.9h1.1M301.7 288.4h1.1M285.8 304.9h1.1M308.2 284.3h1.1M282.5 303.9h1.1M275.6 288.5h1.1M278.6 294.3h1.1M274.4 295.7h1.1M281.9 302.5h1.1M290.4 290.5h1.1M302.0 282.4h1.1M279.2 292.8h1.1M311.6 292.2h1.1M283.9 298.4h1.1M306.0 281.0h1.1M298.5 286.5h1.1M264.1 290.9h1.1M303.8 296.7h1.1M289.7 300.3h1.1M264.6 279.9h1.1M292.7 293.4h1.1M311.6 279.8h1.1M276.0 286.6h1.1M287.1 293.6h1.1M310.8 281.5h1.1M268.4 286.3h1.1M300.6 274.3h1.1M305.6 287.7h1.1M265.9 286.5h1.1M299.0 296.6h1.1M300.2 288.5h1.1M310.7 278.8h1.1M284.7 294.5h1.1M284.7 300.4h1.1M303.4 291.5h1.1M309.0 273.3h1.1M296.3 280.9h1.1M304.7 296.8h1.1M291.2 285.6h1.1M281.8 302.4h1.1M310.9 289.4h1.1M268.0 290.4h1.1M314.2 283.9h1.1M283.6 307.4h1.1M310.4 290.7h1.1M286.4 307.1h1.1M305.0 286.4h1.1M275.7 298.2h1.1M309.4 279.2h1.1"/>
<path stroke="#82196a" stroke-width="1.1" fill="none" d="M348.4 303.3h1.1M345.7 301.5h1.1M346.0 287.7h1.1M370.0 290.3h1.1M345.5 289.2h1.1M363.0 309.5h1.1M352.1 297.7h1.1M322.4 288.6h1.1M371.6 287.1h1.1M352.8 293.8h1.1M320.1 286.1h1.1M361.0 300.5h1.1M349.6 297.8h1.1M364.2 298.0h1.1M322.2 288.3h1.1M319.1 276.1h1.1M336.7 301.7h1.1M357.4 290.3h1.1M336.3 303.6h1.1M321.2 284.3h1.1M356.3 298.8h1.1M342.3 301.9h1.1M367.2 286.7h1.1M369.8 292.3h1.1M362.1 313.9h1.1M356.5 303.9h1.1M320.0 281.6h1.1M354.9 287.5h1.1M354.1 295.2h1.1M322.5 281.1h1.1M373.1 287.4h1.1M343.3 312.3h1.1M327.7 292.0h1.1M333.1 312.0h1.1M371.1 285.8h1.1M372.6 286.4h1.1M363.4 309.3h1.1M352.9 288.2h1.1M355.2 295.5h1.1M349.5 282.9h1.1M357.2 298.7h1.1M323.8 282.6h1.1M335.9 296.5h1.1M322.7 284.3h1.1M343.0 311.3h1.1M364.4 297.7h1.1M363.2 299.5h1.1M365.5 302.5h1.1M356.8 299.9h1.1M340.4 308.6h1.1M355.1 292.2h1.1M326.5 288.0h1.1M355.9 313.7h1.1M344.0 303.8h1.1M336.6 352.2h1.1M335.1 304.9h1.1M366.9 296.8h1.1M341.3 303.3h1.1M346.5 287.3h1.1M363.6 303.9h1.1M359.1 300.7h1.1M323.2 310.8h1.1M320.7 275.3h1.1M336.3 308.8h1.1M322.3 289.7h1.1M320.8 295.9h1.1M369.9 281.4h1.1M330.7 307.3h1.1M373.2 286.5h1.1M340.3 309.0h1.1M338.1 310.8h1.1M370.5 282.1h1.1M368.6 290.3h1.1M369.6 295.5h1.1M364.5 296.1h1.1M357.4 298.6h1.1M319.0 307.3h1.1M345.6 298.9h1.1M340.9 309.2h1.1M369.2 284.9h1.1M341.3 301.0h1.1M371.7 297.9h1.1M362.1 295.7h1.1M320.7 287.5h1.1M322.1 295.8h1.1M340.3 306.5h1.1M367.6 291.8h1.1M329.6 298.3h1.1M324.4 298.1h1.1M352.7 305.0h1.1M336.3 302.8h1.1M365.2 300.8h1.1M369.1 284.4h1.1M341.1 309.1h1.1M337.2 298.0h1.1M362.1 303.3h1.1M361.5 305.1h1.1M367.8 303.7h1.1M344.9 296.8h1.1M332.0 303.9h1.1M330.6 304.1h1.1M331.0 307.4h1.1M331.6 295.5h1.1M321.1 271.3h1.1M327.9 289.9h1.1M343.2 300.4h1.1M348.9 303.0h1.1M339.3 306.3h1.1M363.9 299.2h1.1M370.6 295.3h1.1M340.1 303.2h1.1M333.9 305.5h1.1M340.7 299.3h1.1M344.1 298.1h1.1M355.1 302.7h1.1M348.0 297.8h1.1M340.9 313.3h1.1M357.4 290.2h1.1M369.4 300.9h1.1M342.2 306.5h1.1M327.4 292.7h1.1M359.3 303.2h1.1M347.6 286.7h1.1M366.8 300.5h1.1M342.2 287.2h1.1M363.2 306.0h1.1M362.9 290.3h1.1M343.5 303.9h1.1M349.4 314.8h1.1M342.6 309.2h1.1M333.5 296.6h1.1M369.9 309.0h1.1M343.2 304.2h1.1M331.3 294.1h1.1M320.2 298.7h1.1M349.8 288.6h1.1M370.3 294.5h1.1M329.3 299.8h1.1M367.0 297.0h1.1M352.4 295.5h1.1M330.1 292.3h1.1M362.8 305.2h1.1M365.5 308.2h1.1M340.2 319.3h1.1M354.8 311.5h1.1M371.2 283.5h1.1M363.8 298.4h1.1M351.5 297.3h1.1M330.0 291.2h1.1M355.2 299.6h1.1M330.5 309.6h1.1M354.9 308.0h1.1M320.8 282.4h1.1M367.9 290.9h1.1M367.0 300.1h1.1M359.5 331.0h1.1M326.7 286.8h1.1M343.9 300.9h1.1M325.2 295.5h1.1M342.5 307.5h1.1M359.7 311.0h1.1M372.8 286.3h1.1M334.7 296.2h1.1M370.4 282.4h1.1M350.7 296.0h1.1M342.7 306.5h1.1M366.2 298.8h1.1M328.2 283.0h1.1M343.5 312.6h1.1M326.5 285.0h1.1M355.8 298.9h1.1M359.2 301.9h1.1M332.1 301.2h1.1M348.6 292.5h1.1M334.9 300.1h1.1M330.7 290.5h1.1M366.3 300.9h1.1M355.0 300.7h1.1M366.9 283.0h1.1M367.6 285.5h1.1M333.8 312.0h1.1M362.0 308.8h1.1M373.4 282.4h1.1M354.2 295.6h1.1M372.5 300.8h1.1M369.9 288.3h1.1M329.6 288.3h1.1M349.3 291.8h1.1M339.2 300.8h1.1M335.9 300.4h1.1M346.7 301.8h1.1M334.9 309.9h1.1M369.1 302.2h1.1M322.7 286.1h1.1M361.5 302.7h1.1M365.2 299.8h1.1M361.1 305.9h1.1M366.3 285.9h1.1M333.0 302.5h1.1M354.5 288.1h1.1M350.3 308.6h1.1M370.3 284.5h1.1M359.1 306.2h1.1M327.5 286.5h1.1M323.8 277.8h1.1M348.8 296.4h1.1M335.0 298.1h1.1M354.2 304.9h1.1M338.4 320.7h1.1M320.7 289.2h1.1M337.9 312.3h1.1M347.8 298.1h1.1M359.0 307.4h1.1M356.9 297.4h1.1M369.0 284.6h1.1M330.4 289.0h1.1M328.0 288.1h1.1M366.1 286.4h1.1M340.7 309.3h1.1M366.3 288.0h1.1M354.0 291.3h1.1M329.1 295.8h1.1M371.6 275.3h1.1M347.1 303.1h1.1M348.5 289.7h1.1M355.8 314.8h1.1M319.0 280.4h1.1M370.7 291.7h1.1M342.8 309.1h1.1M366.5 291.5h1.1M364.8 298.9h1.1M320.7 293.3h1.1M322.2 283.3h1.1M365.0 283.6h1.1M355.3 299.9h1.1M336.8 307.8h1.1M371.1 272.8h1.1M364.1 298.8h1.1M348.4 302.4h1.1M344.8 298.5h1.1M332.9 291.7h1.1M320.7 282.2h1.1M365.6 299.1h1.1M347.9 297.9h1.1M352.3 292.3h1.1M325.2 291.8h1.1M364.3 295.8h1.1M326.6 285.6h1.1M347.9 298.5h1.1M353.2 298.8h1.1M320.3 291.3h1.1M346.5 277.7h1.1M327.5 301.2h1.1M372.4 293.5h1.1M364.8 312.8h1.1M327.7 294.9h1.1M320.2 289.7h1.1M358.3 308.5h1.1M337.6 330.5h1.1M341.3 306.5h1.1M369.1 296.9h1.1M355.0 296.7h1.1M340.6 306.2h1.1M372.1 289.8h1.1M343.4 301.3h1.1M325.2 303.1h1.1M347.0 300.1h1.1M326.9 297.6h1.1M351.6 323.7h1.1M361.7 305.1h1.1M356.6 289.9h1.1M356.5 298.3h1.1M350.3 291.3h1.1M352.4 297.6h1.1M320.0 290.4h1.1M322.5 274.9h1.1M322.0 291.9h1.1M364.3 295.8h1.1M319.9 297.7h1.1M323.4 292.3h1.1M340.6 303.4h1.1M343.0 296.7h1.1M369.8 289.7h1.1M371.8 302.0h1.1M350.9 294.6h1.1M354.6 304.3h1.1M346.5 286.2h1.1M341.3 330.1h1.1M358.2 312.4h1.1M344.6 301.5h1.1M349.9 288.5h1.1M371.7 312.3h1.1M369.6 297.2h1.1M337.0 304.0h1.1M366.3 289.1h1.1M363.8 296.0h1.1M357.2 295.9h1.1M333.6 301.9h1.1M351.0 300.5h1.1M371.0 282.4h1.1M329.1 293.9h1.1M366.5 297.2h1.1M356.8 303.1h1.1M323.4 292.7h1.1M355.6 297.7h1.1M372.7 284.5h1.1M370.2 293.8h1.1M326.4 345.6h1.1M328.6 299.2h1.1M342.9 307.2h1.1M324.2 275.6h1.1M368.3 289.8h1.1M322.6 301.8h1.1M349.0 293.9h1.1M348.6 301.4h1.1M333.7 312.5h1.1M355.9 289.9h1.1M371.3 297.2h1.1M350.5 294.1h1.1M363.8 293.0h1.1M345.2 297.7h1.1M362.2 303.3h1.1M332.1 298.0h1.1M346.6 295.1h1.1M354.2 289.1h1.1M362.0 303.2h1.1M344.7 318.1h1.1M328.3 284.4h1.1M343.5 304.6h1.1M346.9 302.1h1.1M336.9 308.4h1.1M344.7 301.0h1.1M352.2 305.9h1.1M355.5 293.7h1.1M320.5 290.8h1.1M364.1 301.1h1.1M353.3 294.4h1.1M361.6 296.1h1.1M368.5 298.3h1.1M328.3 298.1h1.1M321.1 265.6h1.1M336.9 305.4h1.1M329.2 291.0h1.1M368.3 282.8h1.1M369.3 277.0h1.1M366.5 291.3h1.1M365.3 285.9h1.1M362.9 296.1h1.1M373.3 288.5h1.1M339.3 312.1h1.1M329.7 296.7h1.1M373.4 301.8h1.1M323.3 283.4h1.1M338.0 308.9h1.1M360.3 301.6h1.1M335.3 308.7h1.1M351.0 289.6h1.1M347.6 292.9h1.1M321.0 284.2h1.1M337.2 312.5h1.1M340.6 298.6h1.1M364.5 312.9h1.1M345.7 294.1h1.1M346.0 289.7h1.1M359.4 307.3h1.1M330.5 293.1h1.1M358.1 308.2h1.1M354.6 300.5h1.1M371.6 287.7h1.1M359.3 312.4h1.1M347.3 297.5h1.1M353.4 293.1h1.1M330.4 291.4h1.1M328.5 286.1h1.1M319.2 279.8h1.1M347.6 292.9h1.1M334.1 303.1h1.1M372.8 289.3h1.1M333.3 309.3h1.1M341.8 308.2h1.1M320.5 288.8h1.1M371.7 284.1h1.1M327.4 298.3h1.1M372.6 286.0h1.1M326.7 282.7h1.1M359.8 309.3h1.1M369.2 285.8h1.1M340.6 332.6h1.1M366.4 286.9h1.1M357.8 299.1h1.1M336.3 309.8h1.1M345.0 293.8h1.1M358.1 329.6h1.1M335.7 296.6h1.1M360.2 321.6h1.1M329.9 282.7h1.1M331.7 305.3h1.1M366.1 290.8h1.1M364.1 289.7h1.1M361.5 303.2h1.1M362.5 300.1h1.1M327.4 294.7h1.1M326.2 297.6h1.1M365.6 290.1h1.1M358.3 302.0h1.1M355.7 297.0h1.1M339.7 292.2h1.1M365.7 288.5h1.1M369.4 293.2h1.1M337.4 300.5h1.1M338.5 307.3h1.1M340.4 307.0h1.1M345.1 297.2h1.1M349.7 292.5h1.1M321.6 291.1h1.1M335.0 300.7h1.1M342.4 297.1h1.1M338.9 314.3h1.1M338.5 301.5h1.1M366.1 302.2h1.1M334.3 304.6h1.1M360.5 307.1h1.1M369.6 297.5h1.1M332.8 303.5h1.1M358.1 290.4h1.1M328.3 293.2h1.1M333.0 297.8h1.1M371.6 284.2h1.1M368.6 273.0h1.1M340.9 302.4h1.1M321.0 281.2h1.1M319.3 303.2h1.1M355.4 303.4h1.1M368.3 290.7h1.1M349.6 292.5h1.1M354.8 305.4h1.1M357.7 303.9h1.1M369.3 285.0h1.1M332.3 294.2h1.1M321.7 284.9h1.1M353.5 300.1h1.1M342.9 311.2h1.1M368.6 301.0h1.1M321.2 273.5h1.1M367.2 305.1h1.1M366.7 291.3h1.1M336.0 304.3h1.1M336.9 303.3h1.1M367.4 296.2h1.1M361.4 316.1h1.1M365.3 285.7h1.1M359.6 287.5h1.1M332.7 300.3h1.1M351.3 294.9h1.1M323.6 283.9h1.1M319.7 285.0h1.1M370.2 287.6h1.1M323.2 271.3h1.1M332.1 296.5h1.1M337.1 294.9h1.1M334.0 297.9h1.1M351.7 306.1h1.1M356.1 310.9h1.1M354.9 304.5h1.1M364.9 301.9h1.1M363.1 300.5h1.1M328.8 298.2h1.1M323.9 290.3h1.1M329.8 292.2h1.1M324.2 283.4h1.1M359.0 313.4h1.1M328.1 309.1h1.1M344.5 311.9h1.1M328.3 290.5h1.1M339.7 310.7h1.1M345.9 290.5h1.1M353.0 307.6h1.1M331.8 298.3h1.1M361.2 332.8h1.1M331.5 290.7h1.1M355.0 286.9h1.1M335.9 296.7h1.1M360.2 307.0h1.1M333.9 321.6h1.1M323.0 288.4h1.1M345.6 304.4h1.1M343.2 307.4h1.1M322.2 283.2h1.1M359.0 295.1h1.1M342.0 297.9h1.1M359.9 304.5h1.1M334.2 306.5h1.1M334.2 304.1h1.1M319.1 331.1h1.1M335.5 301.6h1.1M329.2 293.1h1.1M333.8 296.0h1.1M319.9 281.2h1.1M347.8 304.0h1.1M334.5 302.0h1.1M324.3 290.3h1.1M329.4 292.3h1.1M333.2 315.0h1.1M367.6 289.2h1.1M353.4 290.9h1.1M347.7 279.1h1.1M319.5 284.3h1.1M350.8 292.1h1.1M367.1 297.5h1.1M340.5 305.8h1.1M327.6 300.4h1.1M371.9 288.3h1.1M372.4 287.3h1.1M356.8 294.4h1.1M360.4 309.2h1.1M372.0 281.4h1.1M357.8 301.3h1.1M352.4 300.9h1.1M326.3 294.4h1.1M368.7 284.0h1.1M369.9 274.9h1.1M335.0 295.8h1.1M351.6 301.3h1.1M339.4 308.3h1.1M373.4 283.0h1.1M361.5 291.1h1.1M337.5 304.8h1.1M342.1 301.1h1.1M331.1 302.4h1.1M359.4 315.5h1.1M322.4 294.7h1.1M360.8 296.9h1.1M370.5 292.3h1.1M320.9 291.6h1.1M367.8 292.1h1.1M340.8 301.4h1.1M323.0 293.3h1.1M354.1 301.2h1.1M372.8 278.1h1.1M346.9 310.2h1.1M366.5 307.9h1.1M342.8 302.3h1.1M353.0 308.8h1.1M335.2 298.3h1.1M359.3 298.0h1.1M324.1 289.6h1.1M340.0 313.9h1.1M328.9 299.9h1.1M326.1 288.1h1.1M328.5 297.8h1.1M353.7 292.3h1.1M327.7 281.7h1.1M359.8 304.5h1.1M348.7 293.0h1.1M344.7 297.4h1.1M351.2 281.1h1.1M341.8 297.9h1.1M325.4 281.2h1.1M330.1 288.5h1.1M328.2 290.6h1.1M368.8 295.7h1.1M350.5 302.1h1.1M327.3 299.6h1.1M350.3 296.9h1.1M330.6 290.6h1.1M327.5 292.6h1.1M366.5 311.0h1.1M372.2 281.6h1.1M352.3 283.1h1.1M347.7 284.7h1.1M325.9 291.9h1.1M330.4 293.7h1.1M344.2 288.2h1.1M370.4 290.2h1.1M335.6 301.9h1.1M368.0 299.8h1.1M347.3 291.7h1.1M363.5 294.1h1.1M329.2 298.5h1.1M351.1 296.5h1.1M355.9 306.2h1.1M329.3 281.6h1.1M328.9 299.3h1.1M354.4 297.5h1.1M370.8 286.4h1.1M343.0 307.7h1.1M348.0 291.2h1.1M331.4 290.3h1.1M337.0 318.2h1.1M347.2 329.6h1.1M339.7 309.4h1.1M341.3 295.2h1.1M372.3 287.9h1.1M356.5 305.2h1.1M359.5 300.0h1.1M334.9 298.9h1.1M367.4 295.7h1.1M324.3 302.0h1.1M348.2 285.5h1.1M345.5 300.4h1.1M327.3 288.8h1.1M327.5 307.5h1.1M337.4 304.7h1.1M370.3 289.3h1.1M325.0 295.8h1.1M343.9 325.2h1.1M341.8 281.6h1.1M342.2 302.4h1.1M354.4 297.8h1.1M345.3 302.5h1.1M347.7 303.6h1.1M337.4 307.0h1.1M331.5 292.9h1.1M345.6 293.1h1.1M368.3 294.3h1.1M349.4 308.8h1.1M355.0 295.7h1.1M331.0 282.6h1.1M322.9 281.8h1.1M342.3 293.7h1.1M349.7 301.0h1.1M353.4 299.3h1.1M332.5 290.0h1.1M354.1 293.6h1.1M323.4 284.8h1.1M360.9 305.9h1.1M344.0 308.1h1.1M359.1 299.6h1.1M332.0 308.0h1.1M334.9 317.3h1.1M349.5 296.3h1.1M336.4 313.5h1.1M336.2 308.4h1.1M362.8 307.6h1.1M366.3 291.8h1.1M337.0 301.8h1.1M373.3 289.4h1.1M353.5 301.5h1.1M324.0 295.3h1.1M368.8 291.2h1.1M360.8 313.3h1.1M335.8 306.0h1.1M329.9 312.0h1.1M323.3 286.4h1.1M340.7 315.1h1.1M320.0 293.9h1.1M353.4 286.8h1.1M323.3 291.2h1.1M358.4 303.9h1.1M333.9 287.6h1.1"/>
<path stroke="#5862c0" stroke-width="1.1" fill="none" d="M397.5 307.4h1.1M385.3 307.1h1.1M401.5 315.9h1.1M392.4 307.0h1.1M391.5 306.5h1.1M402.7 293.2h1.1M406.8 299.8h1.1M400.8 303.5h1.1M385.2 296.5h1.1M392.7 305.1h1.1M388.5 296.9h1.1M394.1 308.6h1.1M396.0 303.2h1.1M413.9 296.8h1.1M398.2 289.4h1.1M416.1 289.2h1.1M419.6 285.7h1.1M386.4 303.9h1.1M402.8 292.5h1.1M378.2 288.5h1.1M388.3 295.0h1.1M413.0 294.0h1.1M410.1 287.6h1.1M394.4 302.2h1.1M418.1 291.5h1.1M411.6 298.5h1.1M397.1 307.9h1.1M398.7 310.6h1.1M385.2 289.6h1.1M409.3 285.6h1.1M408.3 300.7h1.1M391.7 304.9h1.1M385.7 297.4h1.1M379.2 301.1h1.1M405.0 296.1h1.1M402.7 301.6h1.1M390.0 303.8h1.1M420.0 283.5h1.1M400.1 302.7h1.1M416.5 286.7h1.1M381.5 293.5h1.1M406.0 284.3h1.1M417.4 274.8h1.1M406.5 292.0h1.1M413.4 287.2h1.1M384.3 293.6h1.1M412.0 276.5h1.1M416.4 281.1h1.1M381.1 304.7h1.1M417.2 297.8h1.1M397.0 284.5h1.1M386.4 319.7h1.1M411.3 313.2h1.1M398.8 302.4h1.1M397.7 297.3h1.1M398.6 286.1h1.1M410.5 288.8h1.1M397.1 311.1h1.1M403.0 303.1h1.1M395.4 305.4h1.1M403.7 302.7h1.1M407.6 305.2h1.1M406.5 288.9h1.1M382.5 300.3h1.1M410.8 316.7h1.1M393.1 310.9h1.1M395.8 307.1h1.1M383.8 298.8h1.1M409.4 289.3h1.1M382.3 295.8h1.1M392.0 301.8h1.1M398.0 319.2h1.1M380.6 303.0h1.1M402.0 300.7h1.1M398.2 300.3h1.1M400.2 297.2h1.1M418.4 274.4h1.1M404.2 306.1h1.1M386.1 306.5h1.1M381.2 292.2h1.1M382.1 333.1h1.1M381.2 294.2h1.1M417.4 273.9h1.1M392.0 298.7h1.1M414.6 292.5h1.1M403.5 308.1h1.1M411.6 292.2h1.1M388.7 303.2h1.1M399.5 302.9h1.1M391.8 292.3h1.1M380.3 325.3h1.1M410.7 279.2h1.1M419.7 277.9h1.1M389.0 301.2h1.1M404.2 298.1h1.1M382.1 304.9h1.1M379.0 299.0h1.1M383.1 298.9h1.1M383.9 306.2h1.1M400.3 297.2h1.1M412.7 286.2h1.1M410.3 285.5h1.1M416.4 289.8h1.1M394.2 337.6h1.1M407.0 286.8h1.1M381.3 294.2h1.1M397.1 311.8h1.1M414.9 284.7h1.1M386.6 304.8h1.1M382.2 304.0h1.1M378.8 295.5h1.1M398.9 306.7h1.1M398.0 299.6h1.1M402.2 285.1h1.1M416.6 284.1h1.1M379.5 286.9h1.1M390.7 279.6h1.1M390.6 300.8h1.1M411.4 294.1h1.1M411.8 301.2h1.1M417.9 293.1h1.1M397.6 295.5h1.1M387.4 289.8h1.1M417.6 284.0h1.1M407.4 288.8h1.1M417.8 280.2h1.1M416.0 281.5h1.1M397.7 303.9h1.1M401.0 301.1h1.1M409.1 297.3h1.1M391.6 295.7h1.1M404.5 292.4h1.1M407.1 297.6h1.1M416.3 307.0h1.1M379.6 309.4h1.1M402.0 322.0h1.1M394.2 315.7h1.1M391.1 319.4h1.1M388.0 305.8h1.1M403.7 302.9h1.1M407.9 286.4h1.1M393.9 324.1h1.1M405.6 310.7h1.1M400.5 296.1h1.1M382.7 289.3h1.1M419.0 277.4h1.1M382.7 290.6h1.1M412.0 285.2h1.1M387.3 284.4h1.1M386.8 291.8h1.1M378.3 306.3h1.1M380.3 289.6h1.1M394.9 301.7h1.1M386.2 299.8h1.1M407.1 300.5h1.1M398.8 316.5h1.1M415.7 283.8h1.1M403.0 301.2h1.1M389.5 310.8h1.1M385.8 295.9h1.1M400.1 285.8h1.1M409.6 290.2h1.1M382.0 302.2h1.1M408.4 297.6h1.1M404.5 293.2h1.1M396.3 302.8h1.1M411.3 287.4h1.1M386.4 306.9h1.1M413.8 289.9h1.1M392.3 290.1h1.1M402.8 294.0h1.1M402.1 290.7h1.1M391.1 299.7h1.1M390.3 305.8h1.1M406.6 290.8h1.1M387.0 298.2h1.1M396.2 278.5h1.1M398.3 305.4h1.1M407.6 291.7h1.1M396.4 296.0h1.1M405.2 298.4h1.1M410.5 280.5h1.1M379.5 291.8h1.1M412.0 284.3h1.1M416.5 290.0h1.1M411.2 280.5h1.1M405.6 299.7h1.1M408.2 293.1h1.1M410.3 295.9h1.1M415.0 288.3h1.1M407.3 289.9h1.1M390.4 296.5h1.1M403.2 312.7h1.1M418.8 281.1h1.1M386.6 296.2h1.1M384.3 287.8h1.1M392.5 305.8h1.1M403.2 290.3h1.1M419.4 286.1h1.1M395.9 328.1h1.1M381.4 288.9h1.1M412.6 264.6h1.1M417.6 273.3h1.1M417.1 288.4h1.1M384.5 301.1h1.1M395.5 299.2h1.1M407.3 312.0h1.1M419.1 285.5h1.1M418.0 266.4h1.1M390.8 308.3h1.1M400.1 285.8h1.1M395.9 302.4h1.1M403.6 302.0h1.1M400.6 294.8h1.1M397.1 308.9h1.1M399.6 302.2h1.1M391.3 306.2h1.1M386.7 301.9h1.1M385.3 298.9h1.1M388.6 307.0h1.1M405.9 296.7h1.1M419.6 274.8h1.1M389.9 304.7h1.1M395.6 296.5h1.1M419.0 277.9h1.1M387.7 306.5h1.1M381.5 304.6h1.1M398.9 305.6h1.1M402.1 298.2h1.1M392.5 318.4h1.1M407.8 284.4h1.1M387.7 300.4h1.1M404.2 297.8h1.1M381.5 296.4h1.1M405.2 288.9h1.1M415.4 283.1h1.1M380.8 301.3h1.1M416.0 282.5h1.1M404.2 315.1h1.1M377.9 291.4h1.1M402.5 305.8h1.1M408.8 270.2h1.1M391.9 303.1h1.1M382.0 294.1h1.1M378.7 315.1h1.1M389.9 295.8h1.1M379.9 315.6h1.1M397.7 300.5h1.1M391.7 301.8h1.1M416.5 280.6h1.1M378.3 290.8h1.1M413.1 278.6h1.1M420.0 279.7h1.1M388.3 286.9h1.1M380.7 281.0h1.1M419.6 282.8h1.1M404.8 288.9h1.1M419.7 282.7h1.1M394.2 298.9h1.1M416.9 280.5h1.1M383.4 283.8h1.1M394.2 330.1h1.1M410.9 291.9h1.1M380.0 289.8h1.1M408.4 281.5h1.1M416.2 309.8h1.1M416.9 271.0h1.1M419.8 318.5h1.1M384.5 308.3h1.1M419.6 289.0h1.1M402.9 301.3h1.1M415.5 287.6h1.1M418.3 300.1h1.1M388.3 295.5h1.1M390.1 299.0h1.1M416.6 289.3h1.1M402.6 300.0h1.1M416.0 288.6h1.1M397.0 291.4h1.1M398.2 309.9h1.1M379.1 293.2h1.1M409.6 278.9h1.1M393.8 306.8h1.1M419.0 281.8h1.1M412.8 290.2h1.1M414.9 286.1h1.1M381.6 298.2h1.1M393.5 299.2h1.1M407.5 295.2h1.1M396.1 308.5h1.1M385.8 296.8h1.1M380.1 284.5h1.1M394.5 306.6h1.1M401.4 295.9h1.1M396.2 298.0h1.1M420.0 287.0h1.1M380.1 301.7h1.1M417.9 281.8h1.1M398.7 307.8h1.1M383.9 296.0h1.1M390.4 291.6h1.1M381.5 300.9h1.1M393.9 299.1h1.1M383.3 307.8h1.1M382.5 301.3h1.1M406.2 284.9h1.1M379.7 291.6h1.1M408.8 303.5h1.1M381.8 293.5h1.1M379.6 295.8h1.1M392.0 292.8h1.1M406.0 306.1h1.1M406.0 316.0h1.1M413.0 303.5h1.1M402.1 296.6h1.1M378.8 336.1h1.1M397.3 301.4h1.1M404.6 312.5h1.1M397.5 318.7h1.1M389.1 294.0h1.1M394.3 308.1h1.1M416.5 296.0h1.1M390.5 296.9h1.1M380.5 305.4h1.1M379.4 299.7h1.1M415.2 288.0h1.1M405.3 291.3h1.1M406.4 293.3h1.1M383.6 291.6h1.1M408.0 290.9h1.1M408.9 294.2h1.1M379.3 296.3h1.1M405.6 365.6h1.1M418.7 281.8h1.1M389.0 291.2h1.1M404.8 301.9h1.1M392.0 302.1h1.1M380.6 297.6h1.1M399.6 286.4h1.1M404.0 308.5h1.1M384.2 294.0h1.1M396.1 301.4h1.1M411.2 293.5h1.1M395.4 310.7h1.1M384.2 299.9h1.1M387.8 286.1h1.1M388.0 305.0h1.1M389.7 304.9h1.1M384.1 304.7h1.1M416.0 290.6h1.1M393.1 307.2h1.1M411.6 295.6h1.1M414.9 275.8h1.1M410.7 290.9h1.1M394.9 310.4h1.1M408.6 306.3h1.1M402.6 293.2h1.1M377.3 287.2h1.1M408.7 288.2h1.1M416.6 276.8h1.1M396.6 294.8h1.1M413.0 293.4h1.1M406.8 285.6h1.1M396.3 290.5h1.1M387.6 304.4h1.1M406.3 300.3h1.1M416.4 287.3h1.1M379.5 296.7h1.1M384.2 309.4h1.1M408.6 278.4h1.1M404.8 307.4h1.1M379.0 301.0h1.1M391.3 311.9h1.1M416.4 291.6h1.1M420.0 285.1h1.1M410.8 295.1h1.1M416.5 287.8h1.1M411.1 284.3h1.1M397.3 304.8h1.1M386.2 300.1h1.1M411.5 283.6h1.1M384.9 288.0h1.1M384.2 302.0h1.1M383.5 299.3h1.1M397.7 317.4h1.1M395.7 313.1h1.1M400.4 303.3h1.1M399.3 315.3h1.1M408.5 287.7h1.1M393.2 303.1h1.1M413.3 291.1h1.1M381.2 299.1h1.1M378.9 296.5h1.1M419.6 283.9h1.1M399.0 299.8h1.1M394.7 288.2h1.1M406.4 295.8h1.1M400.3 299.5h1.1M404.8 281.0h1.1M417.7 275.8h1.1M385.4 308.3h1.1M415.8 290.6h1.1M414.8 295.3h1.1M413.4 307.9h1.1M401.7 291.8h1.1M406.8 287.7h1.1M399.5 300.2h1.1M407.4 276.5h1.1M418.1 291.3h1.1M385.1 296.4h1.1M407.2 299.9h1.1M416.5 283.1h1.1M409.4 289.4h1.1M401.8 307.9h1.1M408.3 294.7h1.1M410.0 284.1h1.1M417.1 286.8h1.1M379.1 292.6h1.1M396.6 312.1h1.1M383.5 288.4h1.1M395.3 306.4h1.1M378.6 284.6h1.1M413.1 291.9h1.1M400.1 307.2h1.1M411.3 283.3h1.1M401.8 310.4h1.1M407.7 296.0h1.1M390.3 296.5h1.1M395.3 296.5h1.1M385.5 291.3h1.1M378.1 300.0h1.1M378.4 289.6h1.1M404.4 289.4h1.1M399.1 291.6h1.1M401.7 305.4h1.1M383.9 294.6h1.1M399.8 306.0h1.1M415.0 283.9h1.1M405.0 300.7h1.1M385.1 294.4h1.1M417.9 284.4h1.1M394.7 301.4h1.1M402.2 307.4h1.1M388.8 292.6h1.1M385.7 299.8h1.1M385.7 293.1h1.1M380.8 298.2h1.1M413.2 291.9h1.1M409.4 303.7h1.1M409.6 306.3h1.1M377.3 298.7h1.1M383.1 295.9h1.1M405.5 293.1h1.1M392.3 299.0h1.1M404.7 305.8h1.1M380.9 299.7h1.1M398.4 314.8h1.1M411.5 285.7h1.1M392.8 314.3h1.1M413.0 293.1h1.1M410.6 288.5h1.1M415.7 289.7h1.1M418.7 268.7h1.1M396.3 311.5h1.1M413.0 280.2h1.1M396.3 297.2h1.1M409.1 294.9h1.1M388.8 294.9h1.1M405.2 298.4h1.1M381.0 299.7h1.1M390.4 318.9h1.1M414.3 286.1h1.1M387.8 306.0h1.1M404.4 295.7h1.1M402.8 318.2h1.1M393.5 306.6h1.1M398.2 308.3h1.1M404.4 301.2h1.1M395.1 303.2h1.1M411.0 303.5h1.1M410.9 293.2h1.1M399.2 296.6h1.1M413.7 281.9h1.1M406.0 299.1h1.1M405.3 287.8h1.1M395.2 304.2h1.1M395.8 299.5h1.1M395.1 306.3h1.1M409.8 291.1h1.1M384.1 297.6h1.1M405.9 298.5h1.1M409.9 294.9h1.1M420.0 272.7h1.1M408.7 296.3h1.1M389.0 312.6h1.1M379.6 302.3h1.1M399.0 307.1h1.1M396.4 299.8h1.1M402.8 303.1h1.1M413.1 292.6h1.1"/>
<path stroke="#844c16" stroke-width="1.1" fill="none" d="M443.4 307.8h1.1M426.1 292.2h1.1M453.2 293.5h1.1M439.9 307.2h1.1M454.5 302.7h1.1M424.8 285.8h1.1M467.2 295.2h1.1M448.9 283.6h1.1M448.3 288.3h1.1M432.1 301.5h1.1M444.3 305.8h1.1M453.6 298.6h1.1M468.9 280.8h1.1M431.2 296.8h1.1M457.7 295.3h1.1M463.2 285.7h1.1M430.2 283.8h1.1M428.0 293.7h1.1M446.2 289.2h1.1M431.1 293.7h1.1M436.2 303.8h1.1M429.7 288.7h1.1M450.4 307.1h1.1M449.0 301.0h1.1M447.1 282.5h1.1M456.5 285.2h1.1M446.1 298.2h1.1M443.1 282.7h1.1M457.5 290.1h1.1M464.2 289.1h1.1M452.3 287.8h1.1M461.1 282.8h1.1M436.9 309.2h1.1M461.4 284.5h1.1M447.5 290.7h1.1M448.6 295.5h1.1M450.5 323.8h1.1M451.4 292.3h1.1M469.8 280.3h1.1M461.2 296.1h1.1M429.4 290.6h1.1M453.0 299.2h1.1M460.3 302.0h1.1M443.5 300.7h1.1M433.1 297.6h1.1M428.7 284.4h1.1M467.2 294.0h1.1M435.5 294.3h1.1M449.4 308.0h1.1M455.7 283.4h1.1M454.5 295.8h1.1M431.0 292.1h1.1M452.3 285.1h1.1M428.2 286.2h1.1M430.2 278.6h1.1M465.0 280.5h1.1M465.9 289.9h1.1M425.5 282.3h1.1M467.1 278.1h1.1M437.3 299.3h1.1M448.3 299.1h1.1M464.7 295.9h1.1M462.5 298.0h1.1M437.1 296.1h1.1M458.7 294.2h1.1M444.3 294.0h1.1M433.3 298.2h1.1M435.4 293.4h1.1M455.0 323.8h1.1M442.7 297.9h1.1M462.1 296.4h1.1M454.7 295.0h1.1M432.9 295.8h1.1M449.9 320.3h1.1M461.2 297.7h1.1M429.7 296.4h1.1M437.9 295.2h1.1M449.4 315.7h1.1M437.8 306.6h1.1M424.5 289.9h1.1M435.1 298.4h1.1M432.9 307.1h1.1M435.6 295.4h1.1M462.6 288.2h1.1M446.5 300.5h1.1M434.3 296.4h1.1M463.0 289.8h1.1M460.9 295.3h1.1M438.3 297.5h1.1M438.1 300.1h1.1M434.0 293.6h1.1M424.7 285.2h1.1M427.9 277.7h1.1M460.9 286.8h1.1M437.6 296.0h1.1M427.3 287.9h1.1M427.4 276.4h1.1M445.8 300.2h1.1M442.6 299.3h1.1M466.6 308.7h1.1M429.4 289.2h1.1M444.9 300.0h1.1M453.4 300.7h1.1M438.1 300.3h1.1M456.6 292.6h1.1M442.4 296.3h1.1M465.0 287.1h1.1M453.3 305.8h1.1M455.3 304.3h1.1M464.4 290.0h1.1M454.0 292.1h1.1M447.7 279.1h1.1M454.3 301.4h1.1M436.4 293.0h1.1M447.5 287.0h1.1M464.8 277.3h1.1M466.9 289.5h1.1M454.5 285.2h1.1M460.6 294.8h1.1M433.7 300.1h1.1M461.2 279.0h1.1M457.3 303.2h1.1M467.9 291.1h1.1M437.7 302.0h1.1M427.9 292.1h1.1M444.4 294.0h1.1M459.9 288.4h1.1M453.6 286.7h1.1M425.6 310.0h1.1M449.5 296.0h1.1M454.8 289.3h1.1M435.3 296.2h1.1M448.2 289.6h1.1M470.1 291.6h1.1M457.5 301.1h1.1M452.1 302.0h1.1M429.7 292.1h1.1M442.4 296.7h1.1M449.6 300.1h1.1M426.1 282.3h1.1M436.2 310.2h1.1M437.9 296.2h1.1M440.1 289.6h1.1M448.3 302.9h1.1M445.0 297.5h1.1M424.7 269.9h1.1M443.9 292.8h1.1M457.9 306.7h1.1M428.9 299.7h1.1M457.0 292.8h1.1M439.5 303.0h1.1M464.6 283.7h1.1M451.6 320.2h1.1M434.2 279.4h1.1M424.6 290.6h1.1M438.4 295.5h1.1M465.5 292.2h1.1M448.2 295.3h1.1M461.1 289.1h1.1M429.8 288.6h1.1M431.7 295.0h1.1M432.6 292.6h1.1M467.7 290.2h1.1M464.6 276.3h1.1M430.1 311.7h1.1M432.5 284.9h1.1M451.2 301.4h1.1M431.9 285.6h1.1M453.0 292.5h1.1M447.3 300.5h1.1M458.8 278.7h1.1M452.1 298.4h1.1M455.7 300.8h1.1M450.9 293.4h1.1M455.2 295.8h1.1M440.6 294.6h1.1M457.0 293.6h1.1M445.2 300.5h1.1M454.9 286.3h1.1M465.7 290.7h1.1M466.7 288.9h1.1M460.5 295.2h1.1M424.5 301.9h1.1M429.0 281.9h1.1M459.6 281.4h1.1M443.3 298.4h1.1M423.8 281.2h1.1M427.8 290.9h1.1M467.0 280.4h1.1M453.1 292.4h1.1M452.5 302.6h1.1M429.8 302.2h1.1M461.9 283.5h1.1M465.2 291.5h1.1M468.6 280.3h1.1M451.2 289.7h1.1M439.1 298.6h1.1M456.4 294.6h1.1M452.8 300.2h1.1M426.0 300.0h1.1M468.4 286.1h1.1M445.0 302.2h1.1M454.5 300.5h1.1M467.6 313.1h1.1M426.8 304.0h1.1M439.3 290.4h1.1M453.9 292.9h1.1M447.1 296.1h1.1M454.5 295.3h1.1M423.8 290.1h1.1M458.2 295.9h1.1M424.9 273.8h1.1M425.2 287.0h1.1M469.2 292.3h1.1M460.5 288.4h1.1M453.1 308.3h1.1M460.7 293.7h1.1M431.1 297.5h1.1M437.8 296.7h1.1M446.6 297.7h1.1M436.6 298.2h1.1M429.1 290.3h1.1M452.7 299.5h1.1M435.1 294.8h1.1M438.9 291.7h1.1M437.4 326.8h1.1M443.8 295.4h1.1M462.9 303.1h1.1M437.3 285.2h1.1M461.7 294.6h1.1M442.7 297.7h1.1M445.1 299.5h1.1M445.1 300.4h1.1M432.4 277.5h1.1M453.9 292.5h1.1M440.3 290.6h1.1M447.6 303.9h1.1M470.0 264.0h1.1M462.2 291.4h1.1M467.1 293.3h1.1M431.0 292.6h1.1M455.1 293.3h1.1M469.5 277.2h1.1M455.9 302.8h1.1M426.3 288.9h1.1M457.0 298.6h1.1M439.3 297.2h1.1M428.7 301.3h1.1M459.6 289.3h1.1M451.3 303.1h1.1M443.1 291.1h1.1M468.8 284.8h1.1M451.6 294.3h1.1M438.5 299.5h1.1M444.9 296.4h1.1M445.8 291.7h1.1M444.0 304.4h1.1M427.4 292.7h1.1M464.7 284.1h1.1M458.1 284.0h1.1M454.3 302.2h1.1M468.1 273.4h1.1M444.3 300.5h1.1M452.0 299.8h1.1M458.6 290.8h1.1M459.6 291.8h1.1M452.6 293.7h1.1M432.8 293.2h1.1M455.2 296.5h1.1M431.1 298.7h1.1M439.6 300.2h1.1M444.0 297.1h1.1M450.4 312.0h1.1M469.1 284.0h1.1M436.5 294.9h1.1M435.4 298.7h1.1M438.5 296.9h1.1M441.7 303.9h1.1M452.7 305.6h1.1M427.7 280.6h1.1M461.2 278.6h1.1M439.1 283.7h1.1M443.8 299.2h1.1M438.0 311.7h1.1M469.3 292.7h1.1M464.3 284.3h1.1M447.7 303.3h1.1M458.8 286.8h1.1M459.5 293.6h1.1M466.1 308.8h1.1M463.1 276.9h1.1M462.0 285.6h1.1M449.9 300.0h1.1M425.0 286.8h1.1M465.5 287.4h1.1M463.9 293.8h1.1M456.2 295.7h1.1M434.8 298.3h1.1M441.4 290.0h1.1M455.1 297.1h1.1M433.7 300.5h1.1M424.4 280.5h1.1M462.8 297.0h1.1M459.7 298.4h1.1M469.2 287.9h1.1M433.0 292.0h1.1M429.3 300.2h1.1M463.4 286.9h1.1M456.8 294.3h1.1M463.8 293.4h1.1M455.5 304.2h1.1M441.8 313.8h1.1M440.3 301.8h1.1M454.1 280.5h1.1M465.2 290.2h1.1M446.9 299.9h1.1M453.3 289.0h1.1M440.2 299.5h1.1M444.4 299.6h1.1M454.3 284.2h1.1M442.6 306.2h1.1M451.6 297.1h1.1M436.3 299.9h1.1M433.3 296.6h1.1M443.9 313.3h1.1M435.9 294.2h1.1M466.8 281.1h1.1M452.4 287.6h1.1M425.2 276.9h1.1M437.7 300.9h1.1M431.6 292.2h1.1M458.6 296.1h1.1M463.4 282.9h1.1M447.1 284.2h1.1M457.6 284.4h1.1M432.4 305.6h1.1M469.2 288.0h1.1M447.5 293.4h1.1M453.4 298.8h1.1M458.0 293.1h1.1M430.5 293.7h1.1M454.7 287.3h1.1M427.8 272.0h1.1M448.1 300.8h1.1M443.7 303.0h1.1M436.2 283.2h1.1M448.6 311.1h1.1M433.4 299.7h1.1M445.6 295.7h1.1M442.4 296.0h1.1M457.2 295.1h1.1M451.6 292.8h1.1M463.7 284.7h1.1M428.7 301.5h1.1M448.9 299.0h1.1M430.3 285.6h1.1M464.6 285.7h1.1M463.5 295.3h1.1M428.6 284.5h1.1M467.2 297.3h1.1M454.1 287.7h1.1M431.5 297.1h1.1M446.7 301.9h1.1M444.4 297.9h1.1M442.7 294.3h1.1M434.2 312.8h1.1M469.7 289.5h1.1M439.4 289.8h1.1M440.4 301.7h1.1M461.4 292.9h1.1M429.0 295.5h1.1M429.4 284.2h1.1M445.0 305.0h1.1M452.3 296.7h1.1M457.4 309.8h1.1M451.4 308.2h1.1M434.4 293.5h1.1M440.6 281.2h1.1M434.2 300.0h1.1M430.2 289.9h1.1M442.9 308.3h1.1M427.6 288.8h1.1M443.9 302.8h1.1M468.6 284.7h1.1M439.4 288.0h1.1M456.3 280.8h1.1M446.4 298.2h1.1M435.3 303.0h1.1M448.3 285.4h1.1M465.9 298.1h1.1M453.9 294.1h1.1M448.1 292.5h1.1M441.9 304.0h1.1M436.7 300.7h1.1M454.5 308.8h1.1M461.6 288.0h1.1M438.8 301.4h1.1M441.0 300.7h1.1M438.1 289.6h1.1M432.6 289.6h1.1M465.8 278.4h1.1M451.0 296.0h1.1M429.3 298.8h1.1M467.8 275.1h1.1M456.5 294.0h1.1M464.4 290.1h1.1M460.3 300.8h1.1M467.8 270.4h1.1M424.4 296.3h1.1M435.7 294.1h1.1M467.7 282.1h1.1M438.7 307.5h1.1M424.2 293.2h1.1M441.3 292.4h1.1M461.0 289.9h1.1M432.3 298.8h1.1M455.2 296.1h1.1M439.5 306.0h1.1M442.7 300.9h1.1M444.7 294.5h1.1M467.6 293.0h1.1M466.2 294.6h1.1M458.1 283.5h1.1M464.6 291.1h1.1M453.8 283.0h1.1M440.1 296.9h1.1M424.8 291.9h1.1M426.9 286.8h1.1M458.3 284.4h1.1M450.6 296.4h1.1M438.8 303.4h1.1M456.6 305.6h1.1M426.2 298.6h1.1M464.1 290.8h1.1M460.8 283.2h1.1M434.8 296.5h1.1M458.8 282.0h1.1M439.2 288.2h1.1M442.0 300.6h1.1M447.3 298.8h1.1M462.1 294.8h1.1M441.8 307.6h1.1M439.3 296.5h1.1M446.2 297.5h1.1M443.4 306.1h1.1M461.2 294.9h1.1M428.8 304.1h1.1M464.7 287.2h1.1M465.9 298.6h1.1M442.6 301.1h1.1M432.1 299.1h1.1M461.0 287.2h1.1M431.0 277.3h1.1M461.5 275.5h1.1M466.7 285.7h1.1M451.3 296.2h1.1M442.0 302.1h1.1M465.5 279.1h1.1M461.3 292.4h1.1M426.5 294.5h1.1M446.7 300.6h1.1M468.2 288.4h1.1M460.2 297.3h1.1M437.5 298.8h1.1M447.8 291.3h1.1M447.4 299.6h1.1M469.2 287.3h1.1M429.5 296.7h1.1M442.4 307.8h1.1M458.4 289.9h1.1M456.0 282.7h1.1M444.1 289.7h1.1M431.7 290.0h1.1M433.9 291.2h1.1M462.5 283.6h1.1M443.1 292.5h1.1M465.2 287.1h1.1M439.7 307.5h1.1M454.8 291.9h1.1M457.1 295.7h1.1M467.9 285.5h1.1M461.7 289.1h1.1M460.9 290.2h1.1M466.8 297.6h1.1M466.4 289.2h1.1M466.2 287.5h1.1M436.1 300.2h1.1M442.6 300.7h1.1M434.5 289.7h1.1M464.8 284.8h1.1M423.8 293.2h1.1M467.9 277.0h1.1M437.3 297.2h1.1M451.9 290.5h1.1M428.4 282.7h1.1M440.8 301.8h1.1M449.4 303.7h1.1M441.0 297.6h1.1M440.0 285.7h1.1M442.8 316.7h1.1M468.8 277.2h1.1M455.5 295.2h1.1M453.9 299.0h1.1M432.3 284.4h1.1M428.4 287.2h1.1M452.7 299.5h1.1M456.9 291.0h1.1M440.9 286.4h1.1M463.3 293.7h1.1M429.4 288.3h1.1M469.7 294.0h1.1M446.2 308.6h1.1M461.1 284.7h1.1M438.5 294.2h1.1M454.2 295.2h1.1M467.5 289.6h1.1M433.6 299.3h1.1M434.5 291.1h1.1M437.3 296.3h1.1M439.0 303.1h1.1M427.9 297.0h1.1M463.0 286.1h1.1M447.0 300.5h1.1M463.5 282.0h1.1M450.1 291.3h1.1M441.8 292.5h1.1M450.4 307.6h1.1M432.9 296.1h1.1M444.1 302.6h1.1M467.3 293.0h1.1M464.6 285.7h1.1M469.7 286.0h1.1M449.7 288.0h1.1M427.4 299.9h1.1M435.5 288.3h1.1M424.2 287.6h1.1M438.1 308.8h1.1M465.6 288.9h1.1M467.8 288.1h1.1M433.2 294.0h1.1M429.2 283.4h1.1M459.5 286.5h1.1M441.1 301.8h1.1M433.9 293.3h1.1M453.7 302.8h1.1M460.6 278.2h1.1M452.4 292.9h1.1M437.6 305.1h1.1M445.6 291.0h1.1M463.0 300.2h1.1M460.7 304.1h1.1M453.3 325.0h1.1M469.7 293.5h1.1M457.0 293.6h1.1M460.1 287.3h1.1M433.6 295.4h1.1M434.6 294.0h1.1M454.9 289.6h1.1M449.4 327.3h1.1M469.0 283.6h1.1M436.4 296.3h1.1M442.1 306.4h1.1M468.4 285.4h1.1M429.6 283.6h1.1M466.3 281.4h1.1M469.5 288.1h1.1M431.9 289.0h1.1M427.2 286.0h1.1M434.1 297.9h1.1M439.3 292.4h1.1M424.0 275.2h1.1M457.7 290.9h1.1M425.4 299.1h1.1M437.0 291.7h1.1M429.1 282.5h1.1M448.4 300.9h1.1M440.0 299.9h1.1M456.4 290.9h1.1M447.0 290.8h1.1M447.3 289.3h1.1M436.4 324.5h1.1M429.1 293.3h1.1M435.8 296.2h1.1M461.9 297.4h1.1M430.2 295.3h1.1M442.6 301.0h1.1M437.6 312.3h1.1M459.5 292.2h1.1M448.1 299.1h1.1M438.0 299.3h1.1M444.3 300.9h1.1M441.5 302.1h1.1M434.1 299.2h1.1M426.6 301.8h1.1M456.3 290.7h1.1M431.2 295.8h1.1M429.3 294.5h1.1M442.6 310.5h1.1M433.1 301.2h1.1M469.8 286.3h1.1M440.9 312.8h1.1M448.6 301.4h1.1M462.2 294.3h1.1M425.8 289.0h1.1M426.1 287.5h1.1M454.5 288.9h1.1M440.4 291.3h1.1M431.5 304.9h1.1M438.2 288.0h1.1M465.3 287.0h1.1M453.0 292.9h1.1M433.9 295.5h1.1M433.5 288.4h1.1M448.1 305.2h1.1M445.3 302.5h1.1M432.8 294.4h1.1M461.2 289.7h1.1M456.4 302.2h1.1M450.0 307.3h1.1M459.9 293.3h1.1M439.7 297.8h1.1M451.8 290.9h1.1M431.4 292.8h1.1M466.3 295.5h1.1M453.9 290.7h1.1M457.0 297.6h1.1M425.6 267.1h1.1M467.9 283.8h1.1M447.5 299.8h1.1M433.7 290.2h1.1M441.0 298.7h1.1M453.8 294.4h1.1M459.3 295.0h1.1M447.0 296.1h1.1M450.6 297.9h1.1M459.3 281.8h1.1M430.5 287.1h1.1M428.3 276.9h1.1M461.5 287.7h1.1M459.0 292.4h1.1M437.7 288.9h1.1M459.2 274.3h1.1M463.4 294.8h1.1M456.4 287.4h1.1M432.5 291.1h1.1M458.4 299.7h1.1M436.9 305.1h1.1M440.4 300.0h1.1M425.5 289.4h1.1M464.4 300.5h1.1"/>
<path stroke="#5cb8e0" stroke-width="1.1" fill="none" d="M478.2 316.8h1.1M499.8 293.6h1.1M510.1 295.3h1.1M477.6 304.9h1.1M506.8 290.0h1.1M496.5 297.3h1.1M513.6 286.5h1.1M517.5 279.2h1.1M484.4 311.8h1.1M509.2 298.1h1.1M477.2 309.6h1.1M502.1 296.1h1.1M499.7 297.5h1.1M502.2 288.4h1.1M517.9 284.7h1.1M502.5 310.4h1.1M511.5 288.2h1.1M508.4 315.2h1.1M503.4 295.0h1.1M487.4 329.7h1.1M502.0 307.6h1.1M474.0 308.7h1.1M480.6 292.8h1.1M482.7 309.4h1.1M477.3 308.4h1.1M478.7 316.0h1.1M478.7 315.0h1.1M503.1 301.4h1.1M500.8 296.3h1.1M475.3 312.6h1.1M487.1 311.1h1.1M476.8 304.6h1.1M517.8 284.5h1.1M516.7 284.8h1.1M494.4 296.9h1.1M480.6 313.7h1.1M514.7 289.1h1.1M496.2 303.7h1.1M494.1 309.2h1.1M506.8 270.9h1.1M499.8 298.1h1.1M515.5 299.6h1.1M512.1 290.4h1.1M476.6 313.7h1.1M498.3 295.3h1.1M474.4 360.9h1.1M479.1 314.2h1.1M515.7 286.8h1.1M476.1 315.6h1.1M501.2 300.4h1.1M490.9 308.1h1.1M504.3 293.4h1.1M512.8 290.8h1.1M500.5 290.6h1.1M483.3 301.0h1.1M492.6 302.4h1.1M479.7 318.5h1.1M517.9 287.9h1.1M498.3 286.3h1.1M489.7 306.5h1.1M498.9 297.3h1.1M475.6 316.0h1.1M476.6 360.4h1.1M484.7 310.1h1.1M479.7 320.8h1.1M490.2 292.9h1.1M477.9 303.0h1.1M482.2 300.9h1.1M511.0 288.2h1.1M493.1 317.9h1.1M482.7 312.7h1.1M511.0 293.2h1.1M499.8 298.1h1.1M495.7 293.7h1.1M481.1 303.1h1.1M488.9 296.0h1.1M494.0 294.8h1.1M502.3 307.6h1.1M514.7 284.0h1.1M498.7 305.0h1.1M497.3 286.6h1.1M479.5 318.0h1.1M499.3 296.9h1.1M512.9 287.9h1.1M489.7 308.5h1.1M488.5 310.1h1.1M500.2 295.9h1.1M492.1 298.5h1.1M495.6 311.2h1.1M502.9 299.3h1.1M511.0 284.9h1.1M502.9 302.8h1.1M491.4 300.2h1.1M501.3 295.0h1.1M489.9 293.0h1.1M505.9 282.0h1.1M477.2 324.4h1.1M513.9 295.7h1.1M496.6 297.4h1.1M499.8 288.4h1.1M517.0 285.2h1.1M518.0 292.4h1.1M478.5 311.5h1.1M515.5 291.7h1.1M503.1 295.9h1.1M499.9 297.4h1.1M493.1 291.5h1.1M505.8 294.7h1.1M482.8 315.7h1.1M473.8 315.8h1.1M489.6 307.1h1.1M512.6 281.4h1.1M474.5 315.9h1.1M515.8 288.1h1.1M481.1 323.3h1.1M512.3 294.2h1.1M491.2 305.6h1.1M484.3 313.0h1.1M484.0 316.3h1.1M507.0 311.7h1.1M500.1 296.6h1.1M499.7 302.9h1.1M506.1 299.0h1.1M484.4 297.2h1.1M507.5 283.1h1.1M494.7 305.1h1.1M516.9 294.3h1.1M514.8 295.3h1.1M516.2 286.4h1.1M516.4 277.4h1.1M506.5 298.7h1.1M510.5 291.6h1.1M496.6 309.1h1.1M483.4 312.0h1.1M497.6 300.0h1.1M475.3 304.8h1.1M487.8 314.5h1.1M500.0 295.6h1.1M518.0 285.3h1.1M482.9 311.0h1.1M516.1 292.4h1.1M496.9 311.4h1.1M488.2 307.6h1.1M490.8 302.1h1.1M500.0 301.2h1.1M486.2 314.6h1.1M500.1 299.9h1.1M507.4 304.7h1.1M506.0 295.5h1.1M512.0 286.9h1.1M500.8 298.9h1.1M490.7 308.2h1.1M494.5 299.9h1.1M481.1 305.3h1.1M511.4 282.2h1.1M483.0 318.6h1.1M498.3 287.8h1.1M503.5 304.6h1.1M477.0 310.8h1.1M481.5 298.2h1.1M474.8 315.2h1.1M476.6 304.1h1.1M497.3 298.2h1.1M505.6 293.6h1.1M509.5 293.9h1.1M506.9 281.9h1.1M489.0 304.4h1.1M514.9 281.9h1.1M512.8 273.2h1.1M507.4 290.7h1.1M477.1 301.5h1.1M480.6 312.7h1.1M514.8 281.4h1.1M491.0 303.3h1.1M494.4 293.3h1.1M515.3 289.7h1.1M479.0 318.0h1.1M495.4 296.3h1.1M486.3 305.2h1.1M508.9 299.1h1.1M494.1 303.8h1.1M502.6 309.5h1.1M496.9 322.2h1.1M502.5 295.6h1.1M497.2 292.4h1.1M498.5 291.5h1.1M480.1 329.2h1.1M483.3 307.3h1.1M517.7 283.9h1.1M501.2 308.9h1.1M494.2 288.4h1.1M494.4 307.0h1.1M504.4 305.8h1.1M493.5 301.1h1.1M480.7 309.9h1.1M497.0 303.9h1.1M507.2 296.1h1.1M505.9 300.4h1.1M485.7 298.7h1.1M509.6 284.0h1.1M494.8 305.0h1.1M492.4 306.7h1.1M504.8 303.5h1.1M515.4 290.2h1.1M498.7 302.2h1.1M517.5 302.7h1.1M516.5 294.0h1.1M507.9 292.8h1.1M510.0 292.5h1.1M517.9 264.7h1.1M484.0 311.8h1.1M490.1 311.3h1.1M486.0 307.2h1.1M505.7 297.3h1.1M504.8 300.6h1.1M495.0 301.5h1.1M490.7 299.3h1.1M489.1 298.4h1.1M474.7 306.1h1.1M508.0 288.3h1.1M480.3 303.6h1.1M482.5 323.7h1.1M511.1 288.3h1.1M479.6 314.1h1.1M499.2 301.7h1.1M510.9 290.6h1.1M515.7 292.3h1.1M505.3 313.0h1.1M485.5 321.3h1.1M499.6 301.4h1.1M503.6 291.3h1.1M484.1 305.8h1.1M496.3 298.1h1.1M491.9 299.5h1.1M502.8 294.4h1.1M503.4 288.5h1.1M480.2 307.9h1.1M503.9 294.4h1.1M477.0 310.6h1.1M497.8 308.1h1.1M475.9 314.8h1.1M498.1 297.1h1.1M498.5 300.1h1.1M492.7 304.1h1.1M517.3 289.9h1.1M477.6 315.8h1.1M482.3 290.8h1.1M514.4 291.0h1.1M484.8 310.0h1.1M508.7 291.6h1.1M474.7 311.4h1.1M490.5 310.3h1.1M491.6 311.3h1.1M506.6 290.1h1.1M488.6 302.4h1.1M487.8 298.0h1.1M509.1 278.0h1.1M494.2 297.4h1.1M504.4 298.5h1.1M488.2 303.3h1.1M514.0 288.9h1.1M489.4 308.7h1.1M474.7 323.3h1.1M474.3 314.9h1.1M494.1 287.2h1.1M488.2 304.6h1.1M491.2 306.1h1.1M494.4 314.3h1.1M488.1 310.6h1.1M505.8 292.2h1.1M475.3 314.2h1.1M500.2 298.6h1.1M491.8 310.8h1.1M499.3 313.1h1.1M509.0 299.9h1.1M494.3 303.6h1.1M495.6 287.9h1.1M489.0 298.9h1.1M479.9 310.9h1.1M500.9 295.2h1.1M503.6 283.7h1.1M501.2 296.8h1.1M485.7 305.0h1.1M516.5 281.7h1.1M507.3 299.0h1.1M480.4 305.7h1.1M516.8 281.7h1.1M511.2 288.0h1.1M515.2 284.6h1.1M510.1 293.1h1.1M502.0 294.8h1.1M516.4 288.1h1.1M516.5 289.3h1.1M485.2 318.3h1.1M512.1 288.7h1.1M509.9 276.0h1.1M479.2 313.9h1.1M507.8 287.4h1.1M478.9 308.2h1.1M490.5 301.5h1.1M509.6 292.4h1.1M515.7 287.2h1.1M493.7 313.1h1.1M475.1 317.4h1.1M488.3 306.9h1.1M514.0 282.3h1.1M509.9 296.0h1.1M517.8 285.7h1.1M489.8 295.2h1.1M498.2 308.6h1.1M507.0 290.6h1.1M505.7 296.5h1.1M496.0 308.4h1.1M500.3 307.0h1.1M507.0 288.0h1.1M503.1 303.6h1.1M516.1 292.5h1.1M483.4 301.9h1.1M474.1 319.4h1.1M506.1 295.1h1.1M508.1 298.5h1.1M483.4 287.4h1.1M517.2 284.0h1.1M481.5 317.2h1.1M488.4 299.4h1.1M496.7 298.3h1.1M481.2 303.2h1.1M482.2 311.9h1.1M486.1 310.9h1.1M515.6 284.9h1.1M502.3 287.0h1.1M490.4 299.8h1.1M505.1 304.6h1.1M506.8 284.9h1.1M483.4 313.5h1.1M496.1 295.3h1.1M506.0 292.3h1.1M479.8 311.1h1.1M475.9 305.5h1.1M497.2 310.7h1.1M477.7 313.0h1.1M502.3 308.5h1.1M488.1 312.7h1.1M517.5 271.1h1.1M496.0 302.3h1.1M494.5 309.7h1.1M475.4 314.4h1.1M491.7 302.1h1.1M499.5 300.4h1.1M476.2 316.3h1.1M508.0 296.5h1.1M509.8 293.7h1.1M499.3 299.6h1.1M514.6 290.6h1.1M516.0 286.5h1.1M476.6 302.4h1.1M474.4 313.7h1.1M511.7 291.6h1.1M505.1 297.3h1.1M515.9 281.7h1.1M481.5 315.2h1.1M516.9 288.5h1.1M507.6 302.1h1.1M495.3 303.5h1.1M497.9 303.5h1.1M505.9 300.0h1.1M478.9 291.5h1.1M517.3 279.2h1.1M504.2 301.5h1.1M484.2 322.0h1.1M479.7 307.5h1.1M487.4 334.2h1.1M511.1 303.5h1.1M516.3 288.6h1.1M479.9 337.7h1.1M493.9 329.1h1.1M488.1 310.5h1.1M491.4 303.0h1.1M493.0 301.9h1.1M506.1 292.8h1.1M510.4 288.2h1.1M491.2 316.6h1.1M483.7 304.8h1.1M517.3 286.0h1.1M505.2 292.9h1.1M506.9 305.2h1.1M489.3 301.7h1.1M489.5 304.6h1.1M496.0 292.0h1.1M479.6 318.9h1.1M513.0 293.0h1.1M511.1 295.1h1.1M475.3 320.0h1.1M479.0 313.7h1.1M489.6 309.5h1.1M514.1 285.3h1.1M489.1 289.5h1.1M514.3 278.7h1.1M484.0 306.2h1.1M504.9 300.9h1.1M487.1 305.6h1.1M511.3 291.5h1.1M492.1 303.7h1.1M476.1 305.1h1.1M481.8 302.7h1.1M498.2 293.3h1.1M509.3 290.5h1.1M475.4 317.1h1.1M510.1 299.1h1.1M514.4 293.0h1.1M501.3 304.1h1.1M481.9 313.2h1.1M496.0 302.4h1.1M487.0 317.7h1.1M481.6 309.8h1.1M489.9 311.6h1.1M486.8 313.7h1.1M474.8 316.0h1.1M499.3 304.9h1.1M512.5 293.1h1.1M502.2 301.9h1.1M480.2 301.2h1.1M515.6 296.2h1.1M495.8 306.0h1.1M487.0 307.9h1.1M479.9 309.9h1.1M514.0 284.6h1.1M498.2 293.2h1.1M477.4 319.6h1.1M480.5 308.4h1.1M483.6 308.6h1.1M494.7 298.4h1.1M500.7 288.6h1.1M496.2 302.2h1.1M490.5 311.0h1.1M492.3 298.9h1.1M480.5 314.4h1.1M482.9 308.2h1.1M499.5 304.8h1.1M509.7 291.6h1.1M509.5 292.3h1.1M498.2 294.2h1.1M516.3 293.3h1.1M482.9 317.3h1.1M509.6 290.8h1.1M497.2 304.4h1.1M480.2 317.7h1.1M482.5 304.9h1.1M484.0 296.4h1.1M486.4 314.1h1.1M502.1 309.6h1.1M499.1 298.0h1.1M498.3 304.4h1.1M481.3 334.8h1.1M509.0 291.0h1.1M500.8 292.5h1.1M487.3 304.3h1.1M513.0 291.3h1.1M492.3 306.8h1.1M486.0 307.6h1.1M510.9 290.3h1.1M480.0 324.3h1.1M495.5 306.0h1.1M485.3 312.2h1.1M497.9 299.2h1.1M474.6 314.1h1.1M489.7 310.7h1.1M490.3 317.5h1.1M480.8 309.0h1.1M477.5 302.2h1.1M482.7 313.2h1.1M486.9 311.2h1.1M488.0 307.7h1.1M496.2 297.2h1.1M489.6 295.6h1.1M515.7 282.1h1.1M507.3 294.3h1.1M497.9 301.3h1.1M474.9 316.8h1.1M494.2 298.2h1.1M492.7 306.3h1.1M505.6 285.3h1.1M507.6 283.5h1.1M508.5 301.5h1.1M517.5 281.7h1.1M497.9 336.4h1.1M480.9 303.3h1.1M512.8 302.7h1.1M505.3 296.0h1.1M512.3 281.7h1.1M490.4 309.4h1.1M516.4 288.3h1.1M490.2 302.0h1.1M517.2 284.5h1.1M481.6 292.9h1.1M474.6 307.1h1.1M503.2 296.2h1.1M475.9 315.7h1.1M501.4 303.5h1.1M491.4 298.2h1.1M493.9 284.1h1.1M479.0 309.1h1.1M479.7 316.0h1.1M512.0 288.3h1.1M485.9 310.5h1.1M483.4 316.2h1.1M480.9 314.3h1.1M478.0 306.8h1.1M475.5 312.9h1.1M500.8 299.1h1.1M499.5 276.8h1.1M493.9 306.4h1.1M479.9 315.0h1.1M487.4 305.2h1.1M476.1 307.6h1.1M510.5 343.0h1.1M510.4 298.0h1.1M490.8 306.1h1.1M504.7 302.7h1.1M516.2 283.4h1.1M489.1 307.6h1.1M493.2 301.2h1.1M488.1 301.9h1.1M494.5 305.7h1.1M493.4 305.4h1.1M501.8 290.5h1.1M496.1 301.0h1.1M501.6 303.0h1.1M509.8 286.1h1.1M476.0 302.2h1.1M501.2 302.3h1.1M476.5 303.8h1.1M486.6 303.5h1.1M491.9 300.4h1.1M502.5 296.4h1.1M476.3 310.9h1.1M482.0 316.7h1.1M484.5 315.3h1.1M496.4 304.9h1.1M493.3 299.9h1.1M489.5 314.1h1.1M511.8 291.5h1.1M492.8 300.9h1.1M499.9 312.2h1.1M495.9 309.6h1.1M512.6 295.9h1.1M489.0 302.6h1.1M515.4 285.9h1.1M474.6 303.3h1.1M480.5 308.2h1.1M505.8 288.9h1.1M496.8 295.6h1.1M504.4 292.9h1.1M490.4 305.8h1.1M491.4 302.5h1.1M492.3 306.3h1.1M480.0 307.4h1.1M501.9 292.9h1.1M496.5 294.8h1.1M483.1 313.0h1.1M494.7 303.1h1.1M514.8 291.9h1.1M491.9 290.0h1.1M507.8 287.0h1.1M506.2 293.9h1.1M495.5 301.0h1.1M516.6 279.0h1.1M476.5 310.5h1.1M515.3 294.7h1.1M517.5 290.2h1.1M484.2 301.3h1.1M506.6 301.3h1.1M496.4 304.6h1.1M517.5 290.8h1.1M487.4 310.8h1.1M489.2 313.9h1.1M474.7 313.7h1.1M487.5 311.5h1.1M494.7 293.2h1.1M509.3 297.2h1.1M479.0 320.9h1.1M501.1 281.1h1.1M499.5 298.6h1.1M474.3 307.7h1.1M495.0 301.0h1.1M514.5 284.5h1.1M504.0 296.9h1.1M476.1 304.0h1.1M478.2 301.1h1.1M497.9 296.0h1.1M487.0 307.7h1.1M503.9 300.8h1.1M505.1 291.3h1.1M516.0 300.6h1.1M487.3 311.0h1.1M489.0 305.2h1.1M485.8 305.1h1.1M478.7 306.1h1.1M486.0 309.7h1.1M498.7 301.2h1.1M502.6 291.9h1.1M482.4 309.1h1.1M500.6 299.2h1.1M515.7 287.9h1.1M488.3 300.8h1.1M517.2 288.2h1.1M481.9 325.6h1.1M494.8 289.5h1.1M507.1 297.5h1.1M509.6 293.5h1.1M478.8 307.1h1.1M500.4 297.3h1.1M474.9 320.6h1.1M500.3 295.4h1.1M507.5 300.8h1.1M509.4 296.1h1.1M500.4 299.2h1.1M497.2 304.4h1.1M498.0 290.5h1.1M498.7 297.7h1.1M515.7 292.8h1.1M511.8 283.6h1.1M486.2 311.1h1.1M479.2 295.0h1.1M516.6 280.8h1.1M505.7 287.9h1.1M503.1 287.0h1.1M479.3 303.4h1.1M475.4 324.6h1.1M503.3 290.8h1.1M503.3 304.2h1.1M510.9 296.1h1.1M486.8 317.1h1.1M487.8 305.4h1.1M475.0 311.7h1.1M476.3 306.0h1.1M483.1 314.3h1.1M504.3 319.4h1.1M508.0 298.1h1.1M501.0 294.8h1.1M517.8 288.0h1.1M477.8 296.9h1.1M488.6 312.7h1.1M476.7 309.8h1.1M484.1 316.3h1.1M509.2 290.3h1.1M513.0 284.9h1.1M505.5 291.0h1.1M491.8 290.1h1.1M517.9 287.6h1.1"/>
<path stroke="#822319" stroke-width="1.1" fill="none" d="M538.5 309.7h1.1M523.5 291.0h1.1M551.7 281.4h1.1M548.5 298.8h1.1M541.1 297.2h1.1M556.0 281.7h1.1M528.9 285.6h1.1M525.4 280.2h1.1M537.7 314.3h1.1M548.9 299.9h1.1M524.8 288.7h1.1M537.7 296.5h1.1M529.6 297.1h1.1M529.8 303.5h1.1M527.6 292.6h1.1M543.3 312.0h1.1M551.8 296.7h1.1M544.7 293.4h1.1M524.5 298.1h1.1M550.5 285.1h1.1M540.0 302.8h1.1M545.0 294.7h1.1M550.2 300.3h1.1M530.3 302.2h1.1M535.8 298.0h1.1M560.0 272.3h1.1M539.6 308.3h1.1M550.7 287.7h1.1M536.8 295.2h1.1M555.4 300.2h1.1M523.5 284.3h1.1M524.0 304.7h1.1M538.6 295.3h1.1M529.1 293.7h1.1M522.2 273.0h1.1M527.8 282.4h1.1M550.6 287.5h1.1M538.3 310.4h1.1M546.5 302.8h1.1M530.0 293.1h1.1M542.1 306.1h1.1M539.1 305.2h1.1M556.3 276.4h1.1M533.2 292.0h1.1M557.6 284.6h1.1M524.1 286.0h1.1M542.1 309.4h1.1M543.2 292.8h1.1M559.8 296.5h1.1M558.5 284.3h1.1M539.6 305.9h1.1M521.9 290.3h1.1M559.9 280.1h1.1M559.8 294.9h1.1M526.9 294.4h1.1M558.2 284.6h1.1M541.7 293.5h1.1M545.5 305.2h1.1M559.0 282.1h1.1M549.7 289.2h1.1M539.9 325.1h1.1M524.5 282.2h1.1M525.7 283.5h1.1M556.6 294.3h1.1M540.2 308.7h1.1M523.3 275.9h1.1M556.0 285.6h1.1M531.6 295.9h1.1M551.4 303.3h1.1M541.4 305.9h1.1M548.7 287.6h1.1M533.3 296.1h1.1M547.0 296.8h1.1M551.1 290.2h1.1M522.7 292.6h1.1M526.8 286.0h1.1M542.6 310.1h1.1M542.6 308.3h1.1M523.3 289.6h1.1M554.6 295.7h1.1M537.1 303.0h1.1M539.7 298.1h1.1M531.4 293.3h1.1M548.0 288.9h1.1M527.1 278.5h1.1M559.5 282.8h1.1M524.2 275.7h1.1M530.3 299.9h1.1M533.6 296.7h1.1M548.9 289.7h1.1M542.8 299.4h1.1M524.4 285.1h1.1M542.4 301.4h1.1M552.6 280.7h1.1M550.3 282.6h1.1M559.8 279.3h1.1M550.2 287.1h1.1M545.3 288.1h1.1M530.4 287.6h1.1M556.6 289.2h1.1M531.8 298.3h1.1M539.6 292.5h1.1M547.3 301.1h1.1M543.0 294.8h1.1M542.9 302.3h1.1M526.4 292.2h1.1M524.3 282.0h1.1M546.3 301.3h1.1M544.8 301.6h1.1M554.0 291.4h1.1M532.9 283.8h1.1M549.5 284.0h1.1M533.6 306.2h1.1M552.3 280.5h1.1M543.2 308.1h1.1M550.5 290.3h1.1M548.5 272.1h1.1M552.6 285.6h1.1M522.0 284.6h1.1M554.3 281.6h1.1M550.9 288.3h1.1M530.7 302.1h1.1M529.9 294.1h1.1M524.3 289.0h1.1M538.6 303.1h1.1M522.4 283.5h1.1M542.4 297.8h1.1M560.2 285.2h1.1M544.5 306.6h1.1M524.7 282.5h1.1M525.7 286.3h1.1M558.2 283.3h1.1M550.6 278.9h1.1M534.1 290.6h1.1M549.1 289.7h1.1M528.2 304.0h1.1M544.7 297.9h1.1M526.4 280.9h1.1M532.0 298.4h1.1M544.0 284.3h1.1M522.8 291.5h1.1M558.6 286.9h1.1M543.4 289.7h1.1M539.4 297.5h1.1M556.1 281.9h1.1M549.5 276.7h1.1M521.4 296.9h1.1M525.6 285.1h1.1M527.9 298.2h1.1M534.2 306.2h1.1M547.4 292.8h1.1M553.4 281.1h1.1M552.1 287.7h1.1M537.9 318.0h1.1M530.6 292.3h1.1M554.9 290.7h1.1M547.1 290.5h1.1M550.9 277.6h1.1M554.6 270.4h1.1M558.5 273.2h1.1M535.3 299.2h1.1M547.7 281.4h1.1M554.0 275.9h1.1M538.6 311.6h1.1M544.3 272.2h1.1M523.4 282.5h1.1M559.8 269.7h1.1M540.1 295.8h1.1M554.0 276.8h1.1M536.3 298.3h1.1M535.0 298.1h1.1M530.5 289.9h1.1M555.8 282.8h1.1M540.2 303.1h1.1M555.8 297.0h1.1M545.0 293.5h1.1M554.3 285.4h1.1M533.1 311.7h1.1M550.9 292.1h1.1M546.5 293.9h1.1M526.0 281.7h1.1M535.6 291.7h1.1M544.5 301.3h1.1M529.2 306.1h1.1M533.8 301.4h1.1M528.8 280.7h1.1M539.8 305.9h1.1M534.3 305.8h1.1M557.7 288.6h1.1M537.4 307.7h1.1M525.4 284.9h1.1M554.6 302.1h1.1M521.8 301.4h1.1M551.6 283.5h1.1M551.0 281.7h1.1M554.9 285.7h1.1M528.7 282.1h1.1M541.2 299.6h1.1M556.3 277.3h1.1M522.6 277.0h1.1M554.9 294.6h1.1M556.0 286.9h1.1M557.7 276.4h1.1M523.6 289.3h1.1M523.4 289.5h1.1M553.6 293.4h1.1M554.3 279.8h1.1M540.5 297.6h1.1M556.8 280.4h1.1M537.6 314.5h1.1M523.8 290.0h1.1M550.0 290.1h1.1M531.4 293.2h1.1M526.3 291.2h1.1M544.0 296.0h1.1M559.7 306.3h1.1M539.4 312.8h1.1M540.8 317.7h1.1M530.4 297.9h1.1M538.8 302.8h1.1M557.6 292.7h1.1M552.6 293.4h1.1M521.3 272.0h1.1M557.2 283.2h1.1M529.6 291.6h1.1M530.2 281.2h1.1M537.8 306.4h1.1M530.2 311.3h1.1M528.1 290.3h1.1M525.9 280.7h1.1M559.0 273.4h1.1M558.1 287.2h1.1M542.4 296.9h1.1M559.5 280.7h1.1M559.4 281.7h1.1M525.2 301.0h1.1M545.0 314.9h1.1M549.5 289.3h1.1M534.6 306.7h1.1M543.2 291.9h1.1M549.8 286.1h1.1M526.1 309.7h1.1M534.3 308.6h1.1M524.0 269.6h1.1M547.2 308.7h1.1M545.9 286.1h1.1M555.2 284.3h1.1M549.3 314.5h1.1M555.7 285.9h1.1M551.6 298.1h1.1M553.7 291.0h1.1M547.2 295.9h1.1M536.5 306.0h1.1M533.3 309.6h1.1M559.5 281.0h1.1M539.4 296.5h1.1M535.9 298.7h1.1M537.2 311.0h1.1M548.2 280.2h1.1M554.1 283.1h1.1M528.2 291.8h1.1M559.6 279.0h1.1M536.0 308.8h1.1M535.7 298.5h1.1M551.9 302.6h1.1M551.0 303.0h1.1M535.1 295.2h1.1M525.9 290.5h1.1M547.3 283.1h1.1M558.9 282.9h1.1M522.3 273.0h1.1M544.0 299.2h1.1M528.1 287.5h1.1M531.8 295.6h1.1M541.5 283.0h1.1M558.7 272.4h1.1M556.5 299.3h1.1M547.5 286.6h1.1M545.6 295.2h1.1M560.3 273.2h1.1M535.4 290.5h1.1M546.4 281.6h1.1M533.7 306.1h1.1M527.7 284.3h1.1M547.3 292.0h1.1M560.2 277.4h1.1M538.8 321.5h1.1M538.5 296.1h1.1M553.3 284.7h1.1M532.1 303.0h1.1M528.5 294.5h1.1M554.9 287.1h1.1M547.2 293.6h1.1M521.9 283.3h1.1M542.1 311.8h1.1M538.8 299.0h1.1M537.9 311.8h1.1M540.4 303.0h1.1M529.5 290.5h1.1M555.4 279.6h1.1M523.5 290.3h1.1M532.6 302.6h1.1M538.3 320.2h1.1M544.4 287.9h1.1M534.2 288.8h1.1M538.2 316.7h1.1M529.3 291.2h1.1M535.6 316.1h1.1M545.9 286.3h1.1M529.6 291.0h1.1M526.6 294.2h1.1M522.3 287.9h1.1M550.9 284.4h1.1M543.1 319.0h1.1M535.3 311.0h1.1M533.0 307.6h1.1M550.5 296.3h1.1M543.6 301.3h1.1M526.5 291.1h1.1M526.4 275.5h1.1M536.3 293.3h1.1M557.8 289.2h1.1M533.7 293.8h1.1M544.9 289.2h1.1M541.9 298.8h1.1M553.6 287.7h1.1M534.8 293.0h1.1M522.9 270.6h1.1M560.0 278.8h1.1M546.8 290.1h1.1M546.2 294.1h1.1M560.3 264.3h1.1M529.3 289.0h1.1M534.9 303.3h1.1M532.5 289.5h1.1M536.8 288.4h1.1M558.8 269.5h1.1M555.2 292.6h1.1M540.5 303.3h1.1M541.8 296.3h1.1M526.5 285.2h1.1M532.5 295.9h1.1M543.0 290.7h1.1M544.0 322.0h1.1M556.8 291.0h1.1M552.3 286.9h1.1M535.7 306.7h1.1M528.8 289.0h1.1M522.6 283.0h1.1M529.7 297.6h1.1M548.0 295.7h1.1M550.4 303.0h1.1M546.2 301.3h1.1M553.9 287.1h1.1M552.1 283.9h1.1M536.5 303.4h1.1M527.8 285.8h1.1M530.9 295.4h1.1M526.1 293.0h1.1M525.0 297.5h1.1M529.4 285.9h1.1M536.8 307.1h1.1M559.0 268.6h1.1M550.6 295.0h1.1M535.2 284.7h1.1M547.9 299.3h1.1M531.9 293.6h1.1M528.2 290.9h1.1M532.9 286.2h1.1M530.2 295.9h1.1M522.1 284.6h1.1M551.4 279.3h1.1M521.6 284.4h1.1M538.9 313.5h1.1M550.6 282.6h1.1M531.1 291.0h1.1M546.0 286.7h1.1M533.6 301.5h1.1M559.0 281.5h1.1M539.8 289.7h1.1M523.0 277.4h1.1M542.6 296.7h1.1M547.9 292.7h1.1M527.8 290.3h1.1M554.3 290.8h1.1M553.5 286.6h1.1M532.5 294.4h1.1M543.2 302.7h1.1M522.1 288.1h1.1M522.2 280.4h1.1M535.5 295.9h1.1M547.9 296.4h1.1M524.3 283.2h1.1M547.3 297.1h1.1M525.2 282.9h1.1M538.7 305.2h1.1M548.0 282.3h1.1M554.9 277.8h1.1M543.0 297.7h1.1M536.5 313.3h1.1M560.2 274.3h1.1M525.6 305.3h1.1M555.5 283.8h1.1M555.5 272.9h1.1M556.7 285.4h1.1M550.7 294.5h1.1M554.1 286.5h1.1M539.5 306.4h1.1M559.5 274.1h1.1M528.3 284.9h1.1M528.6 300.0h1.1M533.5 305.6h1.1M538.0 308.0h1.1M534.5 305.7h1.1M534.9 303.0h1.1M542.4 302.8h1.1M549.7 292.5h1.1M552.1 294.0h1.1M529.2 296.6h1.1M538.8 309.4h1.1M549.5 289.8h1.1M558.7 285.8h1.1M557.3 276.7h1.1M553.6 291.3h1.1M544.5 286.3h1.1M549.0 304.8h1.1M531.5 290.7h1.1M525.7 283.9h1.1M531.6 316.4h1.1M556.1 297.3h1.1M521.6 276.1h1.1M559.9 279.8h1.1M537.8 293.3h1.1M541.6 289.6h1.1M550.1 286.0h1.1M540.3 312.5h1.1M547.7 303.0h1.1M553.8 292.1h1.1M540.4 312.4h1.1M530.4 289.3h1.1M523.4 289.0h1.1M556.4 301.0h1.1M547.1 294.6h1.1M556.6 287.9h1.1M537.3 314.5h1.1M559.2 280.0h1.1M542.4 307.2h1.1M538.5 294.3h1.1M548.5 305.0h1.1M552.9 285.7h1.1M549.9 299.0h1.1M551.1 286.4h1.1M545.7 286.9h1.1M535.4 304.3h1.1M524.0 294.5h1.1M522.5 278.8h1.1M534.3 295.3h1.1M558.2 287.2h1.1M553.6 272.9h1.1M549.0 294.0h1.1M553.5 288.6h1.1M553.0 285.5h1.1M526.6 300.0h1.1M530.3 281.6h1.1M547.5 284.7h1.1M530.1 306.4h1.1M546.2 300.2h1.1M551.0 300.9h1.1M537.4 298.8h1.1M556.2 279.6h1.1M557.3 283.7h1.1M540.8 317.5h1.1M541.5 303.2h1.1M541.0 304.3h1.1M543.0 304.9h1.1M559.7 267.1h1.1M525.3 284.8h1.1M530.3 290.1h1.1M553.6 275.6h1.1M550.4 288.2h1.1M540.5 303.3h1.1M528.3 297.8h1.1M558.5 279.2h1.1M553.5 284.4h1.1M552.3 290.4h1.1M546.0 298.0h1.1M530.9 295.7h1.1M533.0 295.8h1.1M527.4 298.4h1.1M530.8 312.0h1.1M535.7 304.9h1.1M528.2 299.5h1.1M544.2 309.4h1.1M527.6 273.8h1.1M522.1 291.8h1.1M538.5 320.4h1.1M523.6 295.1h1.1M536.3 297.7h1.1M529.0 286.0h1.1M549.3 294.5h1.1M545.5 290.3h1.1M554.3 293.9h1.1M533.5 301.4h1.1M554.1 290.1h1.1M525.7 273.9h1.1M541.1 305.7h1.1M539.6 306.7h1.1M538.8 298.1h1.1M525.2 289.5h1.1M527.7 291.4h1.1M559.6 287.9h1.1M531.1 294.3h1.1M535.2 308.0h1.1M524.6 274.1h1.1M544.6 295.8h1.1M535.3 298.0h1.1M532.7 296.8h1.1M546.1 282.8h1.1M544.1 294.3h1.1M547.0 288.3h1.1M549.6 293.5h1.1M555.0 281.7h1.1M555.8 291.5h1.1M536.6 307.5h1.1M540.0 313.4h1.1M547.3 296.8h1.1M547.4 290.1h1.1M541.1 313.7h1.1M525.8 292.6h1.1M526.4 292.7h1.1M548.1 298.4h1.1M544.1 298.2h1.1M528.8 286.2h1.1M527.3 296.8h1.1M523.3 289.5h1.1M535.9 300.3h1.1M557.0 292.9h1.1M539.5 306.5h1.1M548.9 299.0h1.1M527.7 289.2h1.1M534.1 300.6h1.1M535.9 293.0h1.1M547.0 298.0h1.1M558.4 270.9h1.1M541.0 300.6h1.1M550.2 284.9h1.1M544.4 300.2h1.1M551.9 282.3h1.1M538.6 320.7h1.1M547.4 296.5h1.1"/>
<path stroke="#5f42b4" stroke-width="1.1" fill="none" d="M565.8 295.6h1.1M587.3 327.2h1.1M600.5 272.3h1.1M572.3 299.0h1.1M565.8 300.2h1.1M600.5 268.0h1.1M572.1 296.2h1.1M564.5 292.8h1.1M578.1 305.1h1.1M574.2 312.8h1.1M597.2 288.7h1.1M584.6 308.4h1.1M601.2 283.2h1.1M594.8 301.1h1.1M582.0 301.2h1.1M581.2 320.2h1.1M565.8 288.2h1.1M592.4 294.7h1.1M597.8 282.6h1.1M594.9 287.0h1.1M598.9 277.4h1.1M567.9 291.5h1.1M583.2 308.1h1.1M580.9 308.7h1.1M577.0 304.8h1.1M599.2 280.9h1.1M596.3 286.8h1.1M579.7 301.4h1.1M593.1 300.2h1.1M576.3 278.1h1.1M572.4 284.0h1.1M571.0 292.5h1.1M575.0 303.3h1.1M595.9 302.6h1.1M586.6 312.9h1.1M586.3 312.7h1.1M569.7 297.1h1.1M577.3 305.2h1.1M566.6 287.4h1.1M566.7 293.7h1.1M573.5 293.9h1.1M582.2 310.2h1.1M588.1 307.6h1.1M594.7 282.9h1.1M598.4 275.9h1.1M569.1 286.5h1.1M575.6 313.8h1.1M565.6 290.5h1.1M572.4 297.5h1.1M601.6 286.5h1.1M598.5 279.7h1.1M582.7 309.2h1.1M586.7 311.1h1.1M586.2 311.3h1.1M565.9 289.3h1.1M570.7 285.5h1.1M565.9 283.8h1.1M570.2 279.4h1.1M594.0 279.2h1.1M592.1 294.3h1.1M572.9 297.0h1.1M592.4 288.0h1.1M566.2 292.8h1.1M578.9 302.8h1.1M584.5 307.7h1.1M595.6 289.1h1.1M581.8 326.5h1.1M599.7 268.5h1.1M598.6 272.9h1.1M596.7 279.4h1.1M576.6 297.1h1.1M596.7 302.1h1.1M591.5 295.2h1.1M578.4 300.8h1.1M571.1 300.5h1.1M578.0 307.0h1.1M590.2 301.4h1.1M598.6 284.3h1.1M589.1 295.3h1.1M585.9 306.9h1.1M580.0 299.6h1.1M577.8 302.2h1.1M574.7 287.9h1.1M583.0 309.0h1.1M594.2 297.7h1.1M567.3 313.7h1.1M589.9 293.8h1.1M592.4 295.3h1.1M568.3 288.9h1.1M574.0 298.1h1.1M571.7 304.1h1.1M576.3 305.2h1.1M587.6 315.7h1.1M588.4 307.0h1.1M575.6 300.4h1.1M572.2 295.8h1.1M564.9 287.5h1.1M593.9 291.1h1.1M570.6 302.8h1.1M594.4 298.6h1.1M577.2 297.1h1.1M569.3 292.2h1.1M584.5 309.3h1.1M578.3 319.4h1.1M592.5 290.3h1.1M581.4 299.8h1.1M565.8 281.4h1.1M574.9 302.1h1.1M588.2 310.5h1.1M581.7 301.5h1.1M595.5 289.2h1.1M598.0 287.3h1.1M598.2 283.8h1.1M599.0 290.7h1.1M582.2 310.4h1.1M567.1 298.0h1.1M598.2 278.5h1.1M566.9 285.8h1.1M573.3 295.2h1.1M598.6 274.7h1.1M601.7 275.7h1.1M597.6 276.0h1.1M582.6 302.0h1.1M593.9 295.1h1.1M572.3 289.8h1.1M579.0 307.0h1.1M576.4 298.7h1.1M567.8 286.1h1.1M599.8 270.6h1.1M594.8 303.1h1.1M601.0 283.8h1.1M594.9 292.5h1.1M589.9 299.2h1.1M593.7 297.2h1.1M580.0 309.8h1.1M590.5 294.4h1.1M594.0 293.6h1.1M585.8 299.0h1.1M586.9 295.7h1.1M574.3 293.9h1.1M598.9 294.8h1.1M586.2 316.5h1.1M592.1 297.7h1.1M586.0 303.0h1.1M573.2 300.3h1.1M589.5 298.0h1.1M599.4 283.3h1.1M583.3 326.4h1.1M569.0 300.5h1.1M587.2 297.6h1.1M573.5 285.6h1.1M565.2 287.8h1.1M599.5 279.6h1.1M588.8 310.6h1.1M595.3 285.6h1.1M600.2 288.9h1.1M586.6 313.7h1.1M595.2 293.7h1.1M567.6 286.3h1.1M582.0 300.9h1.1M591.1 291.9h1.1M588.9 303.5h1.1M598.2 295.8h1.1M567.5 287.7h1.1M591.0 294.6h1.1M565.1 289.1h1.1M586.5 303.5h1.1M585.7 316.4h1.1M587.4 301.1h1.1M587.7 304.8h1.1M567.0 294.4h1.1M565.6 280.1h1.1M569.9 287.0h1.1M584.5 303.6h1.1M584.7 296.0h1.1M594.9 286.0h1.1M595.0 279.2h1.1M568.9 294.2h1.1M578.0 309.2h1.1M597.5 293.2h1.1M587.0 301.8h1.1M583.1 309.1h1.1M586.3 314.8h1.1M582.1 304.2h1.1M592.5 283.0h1.1M579.2 317.5h1.1M599.8 286.9h1.1M599.6 290.7h1.1M569.1 302.3h1.1M578.6 300.2h1.1M568.1 303.4h1.1M584.4 310.7h1.1M595.2 282.2h1.1M586.2 308.2h1.1M580.5 299.4h1.1M600.9 274.7h1.1M588.4 310.1h1.1M581.4 296.7h1.1M601.5 272.7h1.1M565.4 286.8h1.1M579.9 304.6h1.1M582.5 313.2h1.1M599.6 284.0h1.1M572.8 300.2h1.1M586.0 306.8h1.1M585.5 304.1h1.1M569.5 285.3h1.1M600.4 290.5h1.1M598.6 272.9h1.1M586.2 319.8h1.1M575.9 308.3h1.1M566.8 298.2h1.1M601.3 281.4h1.1M583.5 316.4h1.1M591.6 284.5h1.1M574.4 288.5h1.1M567.7 291.5h1.1M568.0 281.2h1.1M590.8 296.5h1.1M584.7 303.3h1.1M599.1 276.2h1.1M599.6 278.2h1.1M569.9 300.3h1.1M599.2 276.7h1.1M572.0 301.5h1.1M590.7 293.6h1.1M577.0 306.2h1.1M599.4 282.1h1.1M593.6 284.5h1.1M589.5 307.6h1.1M591.2 310.2h1.1M579.7 314.2h1.1M565.1 285.1h1.1M568.0 293.4h1.1M575.8 301.3h1.1M582.6 316.3h1.1M582.9 308.3h1.1M580.2 299.5h1.1M569.4 282.7h1.1M600.6 278.5h1.1M588.2 300.6h1.1M582.7 308.0h1.1M570.7 296.2h1.1M596.5 286.0h1.1M598.7 281.9h1.1M573.2 301.2h1.1M567.7 285.7h1.1M587.8 303.8h1.1M568.2 294.5h1.1M575.6 304.8h1.1M593.5 307.8h1.1M576.4 292.2h1.1M589.4 295.2h1.1M596.6 289.8h1.1M585.8 310.8h1.1M586.3 301.8h1.1M573.7 320.0h1.1M600.9 281.6h1.1M594.6 288.9h1.1M601.0 270.8h1.1M581.5 310.9h1.1M601.3 281.0h1.1M587.4 308.6h1.1M565.5 289.6h1.1M586.5 299.1h1.1M589.1 321.3h1.1M589.4 288.3h1.1M566.8 281.8h1.1M580.4 316.5h1.1M595.7 289.6h1.1M572.5 291.9h1.1M585.5 306.5h1.1M570.3 287.9h1.1M582.0 298.5h1.1M586.9 286.5h1.1M578.9 304.0h1.1M569.3 297.3h1.1M581.8 311.7h1.1M577.2 310.4h1.1M572.4 303.9h1.1M599.2 274.8h1.1M579.4 304.4h1.1M583.7 321.4h1.1M571.1 292.1h1.1M571.5 317.7h1.1M594.5 292.9h1.1M582.5 301.0h1.1M600.4 286.4h1.1M599.9 289.6h1.1M593.6 294.6h1.1M585.9 319.1h1.1M571.9 283.8h1.1M574.7 289.3h1.1M577.0 292.8h1.1M574.0 298.4h1.1M583.3 317.8h1.1M582.9 299.9h1.1M584.3 312.6h1.1M588.2 304.9h1.1M570.6 289.3h1.1M588.0 310.4h1.1M573.8 302.0h1.1M600.2 272.8h1.1M585.8 305.0h1.1M595.6 281.8h1.1M594.1 290.7h1.1M568.7 297.2h1.1M590.1 300.9h1.1M567.8 298.0h1.1M566.7 315.5h1.1M597.9 270.4h1.1M597.5 301.1h1.1M589.6 302.7h1.1M571.9 299.6h1.1M567.1 283.2h1.1M590.4 300.3h1.1M586.3 296.7h1.1M590.8 298.3h1.1M591.4 300.5h1.1M598.2 269.4h1.1M569.2 292.5h1.1M596.5 288.9h1.1M583.0 309.5h1.1M565.1 291.2h1.1M570.4 298.4h1.1M584.1 309.5h1.1M586.6 305.3h1.1M578.9 323.7h1.1M592.5 277.0h1.1M594.8 295.3h1.1M599.8 293.3h1.1M590.6 305.4h1.1M564.3 297.5h1.1M580.8 316.1h1.1M567.5 303.8h1.1M591.8 292.7h1.1M575.1 296.0h1.1M585.9 313.6h1.1M572.0 293.4h1.1M581.3 315.0h1.1M598.7 272.4h1.1M568.8 310.8h1.1M580.3 300.8h1.1M596.2 289.8h1.1M584.2 306.9h1.1M585.7 314.3h1.1M601.0 279.4h1.1M595.0 290.2h1.1M576.3 326.7h1.1M576.8 308.6h1.1M597.8 288.3h1.1M579.1 298.5h1.1M590.7 297.2h1.1M591.7 300.5h1.1M575.4 289.6h1.1M578.9 309.1h1.1M592.6 298.5h1.1M576.8 311.6h1.1M595.8 278.2h1.1M595.2 293.4h1.1M598.8 287.0h1.1M575.2 295.8h1.1M574.5 294.8h1.1M579.5 302.8h1.1M564.8 294.8h1.1M583.5 305.2h1.1M569.6 284.5h1.1M579.4 306.7h1.1M572.0 298.9h1.1M593.8 291.6h1.1M581.8 291.9h1.1M583.3 312.1h1.1M601.0 278.4h1.1M600.2 283.1h1.1M589.9 286.7h1.1M573.9 300.7h1.1M596.6 291.2h1.1M599.2 287.0h1.1M564.3 285.6h1.1M593.4 294.9h1.1M581.0 314.7h1.1M586.1 316.9h1.1M595.6 282.8h1.1M566.9 280.8h1.1M570.4 284.7h1.1M596.0 285.5h1.1M583.3 315.2h1.1M596.7 279.9h1.1M567.7 288.0h1.1M588.3 298.5h1.1M564.3 278.8h1.1M566.5 276.5h1.1M594.7 286.3h1.1M597.8 293.8h1.1M588.3 305.8h1.1M585.6 300.9h1.1M592.5 286.4h1.1M592.6 291.2h1.1M584.7 316.0h1.1M596.5 294.4h1.1M583.5 309.0h1.1M566.0 290.4h1.1M592.6 285.2h1.1M569.1 290.3h1.1M583.6 318.3h1.1M598.3 287.6h1.1M594.6 285.0h1.1M588.2 327.0h1.1M576.9 308.7h1.1M567.9 283.4h1.1M591.0 296.6h1.1M576.1 321.2h1.1M585.2 316.7h1.1M570.9 299.2h1.1M601.2 293.5h1.1M597.8 281.5h1.1M572.8 304.0h1.1M571.5 293.9h1.1M579.8 308.4h1.1M599.6 289.3h1.1M572.6 290.1h1.1M590.3 306.6h1.1M568.5 293.3h1.1M566.1 314.7h1.1M600.9 275.6h1.1M587.1 306.3h1.1M575.4 291.1h1.1M573.5 296.4h1.1M596.2 285.2h1.1M571.4 292.7h1.1M585.0 312.4h1.1M587.0 306.0h1.1M571.1 285.2h1.1M571.5 304.0h1.1M585.7 306.8h1.1M593.1 290.3h1.1M576.1 298.4h1.1M565.1 291.6h1.1M579.3 305.0h1.1M584.6 324.5h1.1M591.2 290.1h1.1M592.6 272.5h1.1M569.2 291.5h1.1M574.6 303.0h1.1M583.6 301.0h1.1M581.4 294.4h1.1M579.9 333.9h1.1M569.3 286.3h1.1M575.9 296.4h1.1M586.5 310.4h1.1M588.3 296.2h1.1M591.5 309.6h1.1M589.2 322.8h1.1M571.7 301.1h1.1M601.4 272.9h1.1M579.4 302.1h1.1M574.2 301.8h1.1M595.8 292.1h1.1M590.9 295.1h1.1M599.0 276.3h1.1M600.6 281.8h1.1M595.9 292.9h1.1M572.8 284.7h1.1M582.9 303.4h1.1M583.4 304.6h1.1M580.4 314.5h1.1M589.6 307.3h1.1M581.0 310.1h1.1M572.6 303.1h1.1M564.9 284.2h1.1M579.6 299.0h1.1M580.3 314.0h1.1M576.2 301.6h1.1M582.4 305.7h1.1M564.8 297.1h1.1M571.2 303.0h1.1M571.5 293.9h1.1M582.3 300.6h1.1M582.1 298.0h1.1M600.7 269.9h1.1M569.8 306.2h1.1M600.4 292.8h1.1M565.5 294.1h1.1M588.8 306.2h1.1M598.6 281.5h1.1M568.3 304.1h1.1M580.3 306.3h1.1M593.1 301.8h1.1M599.0 275.4h1.1M564.8 289.5h1.1M581.7 303.1h1.1M574.5 296.1h1.1M599.2 287.6h1.1M579.3 310.4h1.1M587.7 301.8h1.1M572.0 288.4h1.1M593.3 303.6h1.1M566.5 290.8h1.1M572.4 295.6h1.1M599.7 274.7h1.1"/>
<path stroke="#c82823" stroke-width="1.1" fill="none" d="M621.6 289.5h1.1M630.3 293.8h1.1M641.7 279.3h1.1M612.5 293.9h1.1M617.6 300.2h1.1M637.1 290.0h1.1M634.3 295.4h1.1M618.5 293.4h1.1M616.0 292.7h1.1M614.5 293.6h1.1M634.6 287.1h1.1M628.6 301.2h1.1M637.2 295.2h1.1M606.7 295.7h1.1M627.6 307.6h1.1M615.2 301.8h1.1M619.6 299.5h1.1M637.7 297.2h1.1M621.7 306.0h1.1M613.5 279.9h1.1M614.9 299.8h1.1M612.3 308.9h1.1M606.7 298.9h1.1M607.4 297.0h1.1M629.6 316.2h1.1M608.9 289.7h1.1M639.2 295.0h1.1M618.3 306.3h1.1M619.3 302.1h1.1M612.7 303.4h1.1M608.8 316.9h1.1M639.3 293.3h1.1M633.0 307.2h1.1M632.7 297.6h1.1M641.0 285.3h1.1M613.5 292.4h1.1M615.0 310.4h1.1M610.5 297.5h1.1M611.6 296.2h1.1M613.0 298.7h1.1M640.2 282.1h1.1M612.2 291.5h1.1M629.3 293.9h1.1M605.9 296.2h1.1M625.0 294.5h1.1M621.6 303.6h1.1M640.8 284.3h1.1M633.8 296.1h1.1M612.3 289.1h1.1M632.8 294.7h1.1M608.1 293.7h1.1M637.0 301.3h1.1M637.5 284.1h1.1M615.9 304.1h1.1M634.2 306.7h1.1M614.2 302.9h1.1M642.4 277.9h1.1M634.8 284.8h1.1M631.6 288.9h1.1M617.0 303.8h1.1M629.5 312.8h1.1M617.7 305.6h1.1M625.9 302.7h1.1M618.2 300.2h1.1M627.6 305.7h1.1M641.2 286.8h1.1M613.3 294.7h1.1M625.6 296.9h1.1M630.3 293.8h1.1M609.0 300.3h1.1M631.6 303.8h1.1M623.9 309.3h1.1M614.3 307.2h1.1M640.0 286.6h1.1M625.6 318.8h1.1M629.4 334.2h1.1M605.9 283.1h1.1M611.1 291.9h1.1M610.2 292.7h1.1M642.5 288.5h1.1M608.6 315.5h1.1M641.5 295.9h1.1M609.0 293.4h1.1M613.7 303.4h1.1M638.5 301.2h1.1M605.4 292.1h1.1M633.3 292.3h1.1M631.1 302.7h1.1M608.3 287.6h1.1M639.6 305.9h1.1M613.7 297.0h1.1M609.5 303.0h1.1M628.6 303.7h1.1M633.7 298.6h1.1M637.2 279.9h1.1M610.4 293.5h1.1M621.0 306.2h1.1M627.9 308.2h1.1M613.6 287.9h1.1M640.1 290.0h1.1M622.7 312.3h1.1M606.7 293.5h1.1M637.5 294.4h1.1M610.2 298.1h1.1M612.3 300.5h1.1M638.6 299.5h1.1M628.1 300.5h1.1M609.9 297.0h1.1M640.3 285.8h1.1M606.0 288.0h1.1M618.6 287.5h1.1M624.5 308.4h1.1M632.0 307.0h1.1M642.3 287.4h1.1M638.1 286.6h1.1M632.3 298.3h1.1M618.4 308.6h1.1M615.6 296.7h1.1M615.6 290.5h1.1M605.2 284.6h1.1M623.3 302.2h1.1M629.7 303.5h1.1M605.9 289.6h1.1M620.1 301.6h1.1M619.2 300.3h1.1M607.1 309.1h1.1M617.4 294.3h1.1M627.3 313.3h1.1M635.0 291.8h1.1M617.1 302.0h1.1M640.2 291.0h1.1M636.4 297.2h1.1M642.4 291.8h1.1M610.8 294.2h1.1M618.7 305.8h1.1M636.9 301.0h1.1M630.7 296.6h1.1M629.8 302.0h1.1M641.2 280.2h1.1M637.1 302.1h1.1M608.4 294.5h1.1M624.1 305.5h1.1M631.5 301.5h1.1M629.5 311.1h1.1M617.3 280.1h1.1M628.1 302.1h1.1M606.3 278.5h1.1M621.6 302.3h1.1M631.9 290.4h1.1M618.0 295.5h1.1M622.7 305.7h1.1M614.5 289.0h1.1M625.6 305.4h1.1M641.1 285.0h1.1M608.6 300.7h1.1M620.9 304.0h1.1M625.3 308.3h1.1M641.5 273.3h1.1M618.0 305.6h1.1M614.8 300.4h1.1M623.0 304.9h1.1M623.6 309.1h1.1M638.6 295.9h1.1M635.2 289.0h1.1M614.4 299.3h1.1M634.5 296.5h1.1M605.5 280.2h1.1M620.6 298.3h1.1M618.1 305.2h1.1M618.3 284.4h1.1M615.2 305.4h1.1M623.7 291.0h1.1M633.4 289.2h1.1M624.4 280.9h1.1M615.0 299.1h1.1M636.3 288.2h1.1M626.3 301.4h1.1M634.8 298.0h1.1M631.4 297.6h1.1M633.0 292.5h1.1M630.5 303.8h1.1M621.8 306.3h1.1M618.5 310.7h1.1M623.2 318.3h1.1M637.6 303.5h1.1M621.2 307.3h1.1M640.8 285.3h1.1M606.0 294.6h1.1M617.7 309.4h1.1M610.2 282.7h1.1M642.4 282.1h1.1M621.6 300.3h1.1M625.9 311.2h1.1M620.1 296.7h1.1M611.5 290.8h1.1M621.6 305.1h1.1M622.2 306.8h1.1M629.9 300.6h1.1M625.4 311.7h1.1M635.0 287.8h1.1M629.4 298.4h1.1M642.4 292.9h1.1M629.0 300.4h1.1M613.6 301.5h1.1M620.0 299.8h1.1M614.8 290.4h1.1M628.7 302.1h1.1M622.8 302.7h1.1M625.2 315.7h1.1M618.8 291.2h1.1M638.4 288.1h1.1M609.9 293.6h1.1M633.3 305.4h1.1M615.9 293.3h1.1M613.5 295.8h1.1M608.7 286.7h1.1M634.1 295.0h1.1M618.7 295.9h1.1M617.3 301.9h1.1M622.3 303.5h1.1M632.3 302.6h1.1M629.2 308.7h1.1M615.8 288.1h1.1M642.3 279.3h1.1M636.7 283.6h1.1M614.0 286.9h1.1M631.4 305.5h1.1M631.4 301.8h1.1M625.2 302.3h1.1M610.7 286.5h1.1M620.7 299.7h1.1M642.1 286.7h1.1M630.1 304.4h1.1M606.9 303.0h1.1M619.4 296.1h1.1M627.7 288.9h1.1M630.0 286.5h1.1M606.9 286.9h1.1M634.4 289.7h1.1M618.7 307.2h1.1M637.2 291.6h1.1M624.7 306.6h1.1M629.1 293.0h1.1M624.7 312.4h1.1M608.7 293.3h1.1M614.3 324.7h1.1M625.5 301.8h1.1M606.8 291.7h1.1M608.0 288.1h1.1M637.5 292.5h1.1M630.4 290.7h1.1M609.8 288.7h1.1M611.5 286.7h1.1M611.0 296.9h1.1M622.2 315.4h1.1M639.0 281.9h1.1M610.9 289.1h1.1M616.1 296.1h1.1M625.2 299.3h1.1M611.3 292.7h1.1M614.5 291.2h1.1M624.0 311.1h1.1M639.1 293.5h1.1M638.9 286.2h1.1M621.8 304.2h1.1M605.3 285.8h1.1M630.5 306.5h1.1M613.4 290.6h1.1M624.0 303.0h1.1M632.6 301.0h1.1M615.7 307.5h1.1M631.2 310.5h1.1M640.6 291.5h1.1M605.2 281.3h1.1M609.4 293.0h1.1M614.9 302.7h1.1M610.8 297.5h1.1M617.7 314.8h1.1M636.1 284.8h1.1M637.2 295.7h1.1M635.9 300.5h1.1M621.4 293.7h1.1M610.9 293.7h1.1M634.5 294.3h1.1M608.6 286.5h1.1M635.1 306.3h1.1M638.0 285.6h1.1M615.6 304.1h1.1M618.3 295.1h1.1M624.0 295.8h1.1M619.8 297.9h1.1M627.4 307.6h1.1M630.4 296.6h1.1M638.4 301.1h1.1M622.1 300.3h1.1M636.2 297.0h1.1M609.0 295.7h1.1M630.4 308.3h1.1M609.2 293.8h1.1M642.5 286.4h1.1M610.3 288.3h1.1M626.8 311.3h1.1M617.2 298.8h1.1M618.0 287.8h1.1M621.2 307.1h1.1M610.4 300.6h1.1M631.9 309.0h1.1M639.2 285.7h1.1M640.6 282.5h1.1M631.8 306.8h1.1M630.8 296.3h1.1M628.3 300.8h1.1M634.6 291.9h1.1M628.8 295.7h1.1M612.4 293.7h1.1M624.0 308.8h1.1M617.1 290.7h1.1M619.4 292.2h1.1M639.2 286.1h1.1M624.0 298.6h1.1M610.6 292.8h1.1M633.5 292.6h1.1M641.5 286.6h1.1M621.1 312.0h1.1M638.6 284.9h1.1M607.1 286.2h1.1M610.9 294.8h1.1M641.9 282.8h1.1M637.4 286.6h1.1M627.2 300.8h1.1M619.3 298.7h1.1M624.6 303.4h1.1M609.6 288.7h1.1M614.8 300.9h1.1M630.6 300.2h1.1M605.8 294.5h1.1M631.0 312.4h1.1M640.3 298.6h1.1M615.6 289.6h1.1M628.2 301.7h1.1M638.2 284.0h1.1M639.7 285.5h1.1M636.9 291.5h1.1M637.1 289.8h1.1M614.2 297.3h1.1M616.3 299.8h1.1M606.9 269.8h1.1M605.5 286.1h1.1M611.2 297.1h1.1M617.6 289.6h1.1M614.9 291.2h1.1M620.1 301.0h1.1M636.2 287.9h1.1M619.1 310.2h1.1M608.1 298.5h1.1M621.4 304.5h1.1M613.8 292.2h1.1M628.9 328.8h1.1M619.6 306.1h1.1M642.3 284.5h1.1M616.9 300.0h1.1M614.9 310.1h1.1M636.3 295.0h1.1M636.5 289.8h1.1M611.8 292.7h1.1M639.9 284.6h1.1M626.4 307.2h1.1M640.1 297.5h1.1M631.8 296.5h1.1M613.8 302.1h1.1M631.7 299.4h1.1M617.4 299.1h1.1M616.8 302.3h1.1M626.8 299.0h1.1M616.3 303.7h1.1M615.0 298.4h1.1M607.2 299.3h1.1M628.6 307.7h1.1M633.1 298.4h1.1M630.7 289.3h1.1M615.5 303.9h1.1M636.7 292.1h1.1M612.9 291.2h1.1M614.7 300.9h1.1M621.8 299.1h1.1M619.7 305.2h1.1M639.7 292.6h1.1M639.8 284.9h1.1M639.2 296.3h1.1M635.0 280.9h1.1M621.0 302.1h1.1M620.0 316.3h1.1M625.2 308.4h1.1M615.2 287.6h1.1M632.3 301.1h1.1M625.2 306.6h1.1M619.2 303.6h1.1M621.3 302.1h1.1M634.1 298.1h1.1M615.0 299.0h1.1M612.8 300.1h1.1M623.4 292.1h1.1M614.4 308.2h1.1M607.8 293.6h1.1M610.7 286.7h1.1M628.1 313.4h1.1M615.9 301.4h1.1M627.5 305.9h1.1M628.8 304.5h1.1M621.7 300.4h1.1M614.6 298.4h1.1M638.6 290.9h1.1M615.6 305.8h1.1M608.9 295.5h1.1M628.5 303.2h1.1M616.6 299.3h1.1M623.3 304.9h1.1M615.9 300.3h1.1M621.9 302.7h1.1M635.6 293.2h1.1M637.1 289.8h1.1M616.3 295.8h1.1M642.2 284.5h1.1M637.8 277.5h1.1M630.6 302.0h1.1M637.5 299.1h1.1M622.7 292.0h1.1M605.6 300.5h1.1M606.9 280.1h1.1M616.3 301.5h1.1M610.8 291.0h1.1M628.5 300.0h1.1M642.4 288.6h1.1M617.4 303.9h1.1M622.7 300.6h1.1M613.6 302.5h1.1M606.4 299.7h1.1M631.5 301.4h1.1M608.7 292.3h1.1M618.6 338.4h1.1M625.6 291.3h1.1M612.0 296.3h1.1M629.8 306.3h1.1M618.3 303.1h1.1M617.2 302.2h1.1M617.2 293.7h1.1M633.3 295.5h1.1M641.6 291.0h1.1M631.3 302.7h1.1M609.0 296.4h1.1M640.2 284.9h1.1M628.4 310.4h1.1M641.2 289.4h1.1M614.2 298.3h1.1M608.0 285.2h1.1M621.4 305.1h1.1M640.4 282.4h1.1M620.8 291.4h1.1M608.3 293.0h1.1M629.8 297.8h1.1M631.8 302.3h1.1M615.7 299.9h1.1M606.3 291.4h1.1M636.1 289.2h1.1M638.7 288.0h1.1M622.5 298.7h1.1M636.8 285.2h1.1M638.5 278.5h1.1M625.6 307.0h1.1M636.0 274.4h1.1M630.3 323.5h1.1M638.1 299.6h1.1M621.4 308.5h1.1M636.6 304.0h1.1M609.3 306.6h1.1M641.5 284.8h1.1M632.6 292.2h1.1M613.5 293.6h1.1M631.7 297.6h1.1M625.1 311.8h1.1M614.4 310.7h1.1M621.1 311.1h1.1M611.3 309.6h1.1M622.8 289.1h1.1M614.0 278.4h1.1M630.1 307.4h1.1M641.9 270.2h1.1M641.3 277.0h1.1M616.4 289.3h1.1M617.0 295.1h1.1M621.0 299.1h1.1M641.3 272.7h1.1M610.6 292.1h1.1M634.5 290.5h1.1M636.6 289.7h1.1M640.1 289.7h1.1M639.0 284.4h1.1M631.3 292.5h1.1M637.9 288.6h1.1M632.5 306.9h1.1"/>
<path stroke="#6443b6" stroke-width="1.1" fill="none" d="M652.5 301.0h1.1M649.0 301.7h1.1M651.2 304.5h1.1M647.8 298.5h1.1M654.1 312.1h1.1M657.2 304.3h1.1M670.2 297.7h1.1M648.2 305.6h1.1M658.3 294.2h1.1M654.3 303.6h1.1M654.2 304.6h1.1M664.6 295.3h1.1M659.5 296.0h1.1M654.9 314.5h1.1M654.5 304.8h1.1M669.9 280.0h1.1M659.2 297.9h1.1M656.1 307.2h1.1M656.7 304.3h1.1M647.9 308.0h1.1M656.2 296.5h1.1M658.2 312.7h1.1M666.9 279.3h1.1M662.4 295.4h1.1M672.8 283.8h1.1M655.4 297.6h1.1M667.0 281.3h1.1M671.1 284.9h1.1M655.6 315.3h1.1M647.8 298.5h1.1M647.3 302.2h1.1M672.5 264.0h1.1M661.3 306.3h1.1M646.2 336.1h1.1M650.1 309.9h1.1M660.0 302.8h1.1M655.1 300.7h1.1M659.7 308.6h1.1M661.9 297.5h1.1M648.6 296.2h1.1M664.1 290.1h1.1M659.9 299.7h1.1M648.0 314.3h1.1M674.5 277.4h1.1M650.3 312.0h1.1M648.7 304.6h1.1M660.6 297.3h1.1M646.5 299.8h1.1M656.9 310.5h1.1M666.8 288.8h1.1M658.7 304.0h1.1M672.1 289.3h1.1M653.6 309.7h1.1M645.8 307.3h1.1M672.0 288.0h1.1M653.7 313.7h1.1M668.5 294.5h1.1M646.4 295.7h1.1M648.7 289.5h1.1M659.3 299.3h1.1M655.5 302.7h1.1M672.0 285.3h1.1M660.2 308.7h1.1M651.7 304.4h1.1M661.9 296.1h1.1M672.5 290.4h1.1M662.1 298.8h1.1M664.7 292.8h1.1M670.1 283.5h1.1M674.9 279.1h1.1M671.7 291.3h1.1M659.1 310.0h1.1M655.1 304.6h1.1M674.2 287.5h1.1M670.3 282.4h1.1M646.4 302.1h1.1M646.0 306.7h1.1M653.0 314.0h1.1M661.2 300.4h1.1M662.7 291.3h1.1M657.4 311.2h1.1M673.2 281.6h1.1M659.9 300.3h1.1M668.6 285.8h1.1M663.8 303.6h1.1M654.7 311.0h1.1M674.7 277.7h1.1M666.0 295.6h1.1M671.8 279.6h1.1M662.9 296.4h1.1M658.7 300.6h1.1M653.4 302.4h1.1M673.8 285.7h1.1M664.1 290.1h1.1M671.9 284.6h1.1M653.3 292.2h1.1M648.2 312.2h1.1M647.2 294.7h1.1M667.1 287.5h1.1M670.4 271.9h1.1M647.4 289.2h1.1M666.4 292.7h1.1M660.6 302.9h1.1M657.1 316.5h1.1M666.7 288.5h1.1M648.8 307.0h1.1M649.8 290.2h1.1M673.5 288.0h1.1M646.1 296.6h1.1M662.3 310.7h1.1M674.4 281.7h1.1M651.1 300.6h1.1M660.2 306.2h1.1M657.4 306.4h1.1M662.1 293.4h1.1M663.4 302.8h1.1M671.8 291.8h1.1M666.3 288.6h1.1M674.0 282.1h1.1M656.3 307.1h1.1M666.2 317.4h1.1M653.8 299.6h1.1M669.0 296.7h1.1M669.1 284.5h1.1M662.0 287.5h1.1M674.1 291.2h1.1M653.7 303.7h1.1M649.5 296.3h1.1M653.6 296.0h1.1M651.2 305.6h1.1M664.1 290.3h1.1M666.1 289.4h1.1M655.4 304.3h1.1M660.6 291.6h1.1M652.1 302.6h1.1M663.4 288.4h1.1M652.2 310.7h1.1M655.5 310.8h1.1M660.5 294.0h1.1M647.1 299.2h1.1M653.3 343.5h1.1M663.4 300.5h1.1M673.6 280.0h1.1M653.8 315.6h1.1M653.4 311.6h1.1M654.3 289.6h1.1M648.5 295.7h1.1M670.4 316.6h1.1M649.6 297.6h1.1M646.4 297.0h1.1M667.3 291.7h1.1M648.7 307.6h1.1M665.3 297.4h1.1M670.3 286.9h1.1M655.5 307.4h1.1M650.2 299.9h1.1M668.0 291.8h1.1M645.9 303.6h1.1M666.3 297.6h1.1M645.8 296.7h1.1M659.5 295.8h1.1M651.4 299.0h1.1M648.1 295.6h1.1M656.6 294.0h1.1M673.8 301.9h1.1M662.1 297.1h1.1M656.1 298.8h1.1M663.4 298.9h1.1M647.4 309.3h1.1M647.2 303.0h1.1M667.4 280.0h1.1M669.9 281.1h1.1M650.6 293.4h1.1M671.2 281.0h1.1M664.1 303.5h1.1M671.3 286.6h1.1M664.7 292.8h1.1M650.8 305.3h1.1M654.0 302.1h1.1M649.5 305.0h1.1M659.9 297.4h1.1M662.4 300.0h1.1M663.4 293.0h1.1M667.3 284.8h1.1M661.6 296.6h1.1M654.1 308.3h1.1M673.2 274.6h1.1M648.3 348.2h1.1M673.2 280.8h1.1M655.5 309.6h1.1M647.8 301.7h1.1M651.2 306.3h1.1M660.6 292.2h1.1M664.6 296.1h1.1M663.4 294.6h1.1M671.3 290.2h1.1M667.1 295.3h1.1M659.1 287.7h1.1M658.2 291.6h1.1M653.0 304.2h1.1M650.7 301.6h1.1M669.8 282.5h1.1M661.1 294.2h1.1M664.4 277.9h1.1M657.5 305.0h1.1M659.5 304.4h1.1M657.5 301.8h1.1M666.4 292.2h1.1M651.8 307.6h1.1M664.2 295.5h1.1M657.8 315.4h1.1M656.9 297.6h1.1M672.8 283.3h1.1M655.5 303.4h1.1M663.0 296.5h1.1M671.4 283.3h1.1M654.7 309.0h1.1M648.0 300.1h1.1M657.7 297.1h1.1M671.6 277.5h1.1M669.1 292.5h1.1M649.1 303.2h1.1M658.0 311.4h1.1M649.8 301.8h1.1M671.3 284.0h1.1M655.4 307.1h1.1M668.9 288.2h1.1M657.4 304.0h1.1M666.3 298.6h1.1M660.7 309.5h1.1M657.4 316.7h1.1M668.0 291.7h1.1M651.4 300.3h1.1M670.4 295.2h1.1M664.6 303.5h1.1M672.4 276.8h1.1M667.8 292.6h1.1M649.0 304.6h1.1M655.2 304.9h1.1M654.1 294.4h1.1M663.7 292.3h1.1M669.4 281.6h1.1M646.0 305.3h1.1M662.3 299.5h1.1M651.7 300.4h1.1M651.5 299.6h1.1M654.9 306.2h1.1M660.9 305.0h1.1M649.3 300.1h1.1M658.5 296.9h1.1M665.4 296.5h1.1M660.2 294.3h1.1M662.7 299.4h1.1M665.3 293.6h1.1M654.1 305.0h1.1M667.0 300.6h1.1M651.1 297.7h1.1M648.0 302.7h1.1M673.9 281.9h1.1M647.7 293.2h1.1M672.6 287.6h1.1M664.3 306.0h1.1M667.1 294.3h1.1M648.6 308.2h1.1M674.6 277.0h1.1M647.1 297.9h1.1M652.9 306.3h1.1M651.8 299.8h1.1M648.3 299.6h1.1M666.1 291.6h1.1M674.1 275.9h1.1M668.6 287.8h1.1M666.1 286.1h1.1M671.6 291.3h1.1M664.0 304.9h1.1M653.3 301.3h1.1M673.8 282.8h1.1M659.0 297.0h1.1M668.9 301.9h1.1M659.5 306.6h1.1M649.6 305.2h1.1M674.5 279.7h1.1M648.1 294.5h1.1M657.1 299.6h1.1M672.7 284.3h1.1M668.6 288.9h1.1M665.8 304.8h1.1M647.2 300.0h1.1M652.6 311.5h1.1M672.6 296.3h1.1M673.2 289.0h1.1M674.1 285.7h1.1M673.1 281.0h1.1M663.8 295.0h1.1M653.5 302.9h1.1M656.1 304.8h1.1M657.5 304.8h1.1M666.8 302.1h1.1M666.3 292.9h1.1M661.6 295.7h1.1M651.3 305.2h1.1M669.1 278.3h1.1M666.2 300.3h1.1M664.7 306.5h1.1M655.1 292.6h1.1M659.0 301.1h1.1M666.6 288.3h1.1M664.6 297.9h1.1M654.0 305.3h1.1M651.1 293.1h1.1M648.8 294.5h1.1M653.1 304.2h1.1M673.4 291.2h1.1M672.7 285.3h1.1M647.2 305.7h1.1M669.1 296.5h1.1M671.0 287.4h1.1M665.3 296.5h1.1M673.5 275.5h1.1M670.2 278.3h1.1M663.8 298.4h1.1M667.4 284.5h1.1M673.1 288.3h1.1M657.1 288.6h1.1M651.5 304.5h1.1M666.4 298.7h1.1M671.7 287.3h1.1M670.7 293.5h1.1M669.3 283.0h1.1M672.3 288.0h1.1M650.4 302.8h1.1M658.9 306.5h1.1M651.1 313.3h1.1M664.0 293.8h1.1M668.4 307.3h1.1M658.5 303.2h1.1M655.5 306.0h1.1M673.4 286.2h1.1M662.7 301.8h1.1M659.1 298.9h1.1M660.6 301.8h1.1M666.5 293.7h1.1M654.9 294.4h1.1M671.0 280.3h1.1M657.6 298.1h1.1M671.8 289.9h1.1M664.0 296.2h1.1M650.5 307.7h1.1M666.0 300.6h1.1M658.9 311.3h1.1M657.8 302.0h1.1M670.4 285.6h1.1M667.3 289.7h1.1M651.0 303.0h1.1M653.3 300.7h1.1M657.5 297.9h1.1M669.9 277.3h1.1M671.1 284.3h1.1M661.1 295.9h1.1M660.5 297.6h1.1M651.0 305.9h1.1M670.9 280.4h1.1M669.0 284.6h1.1M671.1 282.5h1.1M654.9 305.3h1.1M674.0 287.3h1.1M646.7 300.2h1.1M662.3 289.8h1.1M664.0 300.9h1.1M665.2 296.2h1.1M667.8 291.0h1.1M648.1 305.1h1.1M660.7 305.1h1.1M655.6 305.9h1.1M648.9 293.6h1.1M657.5 302.7h1.1M674.0 284.3h1.1M671.1 285.6h1.1M669.3 293.7h1.1M658.5 297.6h1.1M669.5 287.6h1.1M647.6 302.2h1.1M664.5 292.8h1.1M655.1 304.8h1.1M658.2 298.4h1.1M664.3 294.0h1.1M651.8 304.6h1.1M661.6 303.5h1.1M666.5 296.6h1.1M655.3 297.0h1.1M658.2 304.1h1.1M646.4 303.1h1.1M670.3 285.4h1.1M661.9 297.2h1.1M661.0 274.1h1.1M651.7 297.2h1.1M646.1 289.9h1.1M671.7 295.6h1.1M660.0 290.6h1.1M662.8 307.1h1.1"/>
<line x1="43.5" x2="43.5" y1="257.5" y2="395.5" stroke="#111" stroke-width="1"/>
<line x1="43" x2="685" y1="395.5" y2="395.5" stroke="#222" stroke-width="1"/>
<line x1="43" x2="685" y1="258" y2="258" stroke="#222" stroke-width="1"/>
<line x1="684.5" x2="684.5" y1="258" y2="395.5" stroke="#222" stroke-width="1"/>
<line x1="36" x2="43.5" y1="258.5" y2="258.5" stroke="#111" stroke-width="1"/>
<text x="31" y="261.30" text-anchor="end" font-size="8.6">2</text>
<line x1="36" x2="43.5" y1="301.5" y2="301.5" stroke="#111" stroke-width="1"/>
<text x="31" y="304.30" text-anchor="end" font-size="8.6">1</text>
<line x1="36" x2="43.5" y1="344.5" y2="344.5" stroke="#111" stroke-width="1"/>
<text x="31" y="347.30" text-anchor="end" font-size="8.6">0</text>
<line x1="36" x2="43.5" y1="387.5" y2="387.5" stroke="#111" stroke-width="1"/>
<text x="31" y="390.30" text-anchor="end" font-size="8.6">−1</text>
<text transform="translate(10.5,326.5) rotate(-90)" text-anchor="middle" font-size="9.5">log<tspan font-size="6.5" dy="2">10</tspan><tspan dy="-2">(</tspan>ρ /kb)</text>
<text x="-1" y="254.8" font-size="15" font-weight="bold">c</text>
<text x="4.2" y="416.8" font-size="10.4">Barriers</text>
<path d="M54.0 413.3L55.5 411.8L57.0 413.3L55.5 414.8Z" fill="#e02020"/>
<path d="M55.5 413.3L57.0 411.8L58.5 413.3L57.0 414.8Z" fill="#e02020"/>
<path d="M57.0 413.3L58.5 411.8L60.0 413.3L58.5 414.8Z" fill="#e02020"/>
<path d="M58.0 413.3L59.5 411.8L61.0 413.3L59.5 414.8Z" fill="#e02020"/>
<path d="M60.5 413.3L62.0 411.8L63.5 413.3L62.0 414.8Z" fill="#e02020"/>
<path d="M72.6 413.3L74.1 411.8L75.6 413.3L74.1 414.8Z" fill="#e02020"/>
<path d="M80.1 413.3L81.6 411.8L83.1 413.3L81.6 414.8Z" fill="#e02020"/>
<path d="M96.9 413.3L98.4 411.8L99.9 413.3L98.4 414.8Z" fill="#e02020"/>
<path d="M133.8 413.3L135.3 411.8L136.8 413.3L135.3 414.8Z" fill="#e02020"/>
<path d="M135.5 413.3L137.0 411.8L138.5 413.3L137.0 414.8Z" fill="#e02020"/>
<path d="M145.7 413.3L147.2 411.8L148.7 413.3L147.2 414.8Z" fill="#e02020"/>
<path d="M147.2 413.3L148.7 411.8L150.2 413.3L148.7 414.8Z" fill="#e02020"/>
<path d="M158.0 413.3L159.5 411.8L161.0 413.3L159.5 414.8Z" fill="#e02020"/>
<path d="M170.0 413.3L171.5 411.8L173.0 413.3L171.5 414.8Z" fill="#e02020"/>
<path d="M172.0 413.3L173.5 411.8L175.0 413.3L173.5 414.8Z" fill="#e02020"/>
<path d="M173.8 413.3L175.3 411.8L176.8 413.3L175.3 414.8Z" fill="#e02020"/>
<path d="M210.7 413.3L212.2 411.8L213.7 413.3L212.2 414.8Z" fill="#e02020"/>
<path d="M212.0 413.3L213.5 411.8L215.0 413.3L213.5 414.8Z" fill="#e02020"/>
<path d="M248.8 413.3L250.3 411.8L251.8 413.3L250.3 414.8Z" fill="#e02020"/>
<path d="M250.2 413.3L251.7 411.8L253.2 413.3L251.7 414.8Z" fill="#e02020"/>
<path d="M266.5 413.3L268.0 411.8L269.5 413.3L268.0 414.8Z" fill="#e02020"/>
<path d="M269.0 413.3L270.5 411.8L272.0 413.3L270.5 414.8Z" fill="#e02020"/>
<path d="M274.0 413.3L275.5 411.8L277.0 413.3L275.5 414.8Z" fill="#e02020"/>
<path d="M275.5 413.3L277.0 411.8L278.5 413.3L277.0 414.8Z" fill="#e02020"/>
<path d="M284.9 413.3L286.4 411.8L287.9 413.3L286.4 414.8Z" fill="#e02020"/>
<path d="M289.4 413.3L290.9 411.8L292.4 413.3L290.9 414.8Z" fill="#e02020"/>
<path d="M318.3 413.3L319.8 411.8L321.3 413.3L319.8 414.8Z" fill="#e02020"/>
<path d="M324.2 413.3L325.7 411.8L327.2 413.3L325.7 414.8Z" fill="#e02020"/>
<path d="M330.5 413.3L332.0 411.8L333.5 413.3L332.0 414.8Z" fill="#e02020"/>
<path d="M332.5 413.3L334.0 411.8L335.5 413.3L334.0 414.8Z" fill="#e02020"/>
<path d="M334.5 413.3L336.0 411.8L337.5 413.3L336.0 414.8Z" fill="#e02020"/>
<path d="M353.1 413.3L354.6 411.8L356.1 413.3L354.6 414.8Z" fill="#e02020"/>
<path d="M358.5 413.3L360.0 411.8L361.5 413.3L360.0 414.8Z" fill="#e02020"/>
<path d="M360.5 413.3L362.0 411.8L363.5 413.3L362.0 414.8Z" fill="#e02020"/>
<path d="M362.5 413.3L364.0 411.8L365.5 413.3L364.0 414.8Z" fill="#e02020"/>
<path d="M370.3 413.3L371.8 411.8L373.3 413.3L371.8 414.8Z" fill="#e02020"/>
<path d="M404.0 413.3L405.5 411.8L407.0 413.3L405.5 414.8Z" fill="#e02020"/>
<path d="M406.5 413.3L408.0 411.8L409.5 413.3L408.0 414.8Z" fill="#e02020"/>
<path d="M457.6 413.3L459.1 411.8L460.6 413.3L459.1 414.8Z" fill="#e02020"/>
<path d="M460.7 413.3L462.2 411.8L463.7 413.3L462.2 414.8Z" fill="#e02020"/>
<path d="M472.4 413.3L473.9 411.8L475.4 413.3L473.9 414.8Z" fill="#e02020"/>
<path d="M476.5 413.3L478.0 411.8L479.5 413.3L478.0 414.8Z" fill="#e02020"/>
<path d="M482.8 413.3L484.3 411.8L485.8 413.3L484.3 414.8Z" fill="#e02020"/>
<path d="M486.7 413.3L488.2 411.8L489.7 413.3L488.2 414.8Z" fill="#e02020"/>
<path d="M491.8 413.3L493.3 411.8L494.8 413.3L493.3 414.8Z" fill="#e02020"/>
<path d="M497.0 413.3L498.5 411.8L500.0 413.3L498.5 414.8Z" fill="#e02020"/>
<path d="M498.5 413.3L500.0 411.8L501.5 413.3L500.0 414.8Z" fill="#e02020"/>
<path d="M523.0 413.3L524.5 411.8L526.0 413.3L524.5 414.8Z" fill="#e02020"/>
<path d="M523.8 413.3L525.3 411.8L526.8 413.3L525.3 414.8Z" fill="#e02020"/>
<path d="M531.6 413.3L533.1 411.8L534.6 413.3L533.1 414.8Z" fill="#e02020"/>
<path d="M540.5 413.3L542.0 411.8L543.5 413.3L542.0 414.8Z" fill="#e02020"/>
<path d="M542.0 413.3L543.5 411.8L545.0 413.3L543.5 414.8Z" fill="#e02020"/>
<path d="M546.3 413.3L547.8 411.8L549.3 413.3L547.8 414.8Z" fill="#e02020"/>
<path d="M549.5 413.3L551.0 411.8L552.5 413.3L551.0 414.8Z" fill="#e02020"/>
<path d="M188.6 417.8L189.9 416.5L191.2 417.8L189.9 419.1Z" fill="#2048c0"/>
<path d="M306.7 417.8L308.0 416.5L309.3 417.8L308.0 419.1Z" fill="#2048c0"/>
<path d="M320.5 417.8L321.8 416.5L323.1 417.8L321.8 419.1Z" fill="#2048c0"/>
<path d="M329.8 417.8L331.1 416.5L332.4 417.8L331.1 419.1Z" fill="#2048c0"/>
<path d="M367.4 417.8L368.7 416.5L370.0 417.8L368.7 419.1Z" fill="#2048c0"/>
<path d="M548.5 417.8L549.8 416.5L551.1 417.8L549.8 419.1Z" fill="#2048c0"/>
<line x1="45" x2="685" y1="437.3" y2="437.3" stroke="#000" stroke-width="2"/>
<line x1="80.5" x2="80.5" y1="437" y2="444.8" stroke="#111" stroke-width="1"/>
<text x="80.05" y="456.2" text-anchor="middle" font-size="9.2">ch1</text>
<line x1="158.5" x2="158.5" y1="437" y2="444.8" stroke="#111" stroke-width="1"/>
<text x="158.4" y="456.2" text-anchor="middle" font-size="9.2">ch2</text>
<line x1="226.5" x2="226.5" y1="437" y2="444.8" stroke="#111" stroke-width="1"/>
<text x="226.7" y="456.2" text-anchor="middle" font-size="9.2">ch3</text>
<line x1="285.5" x2="285.5" y1="437" y2="444.8" stroke="#111" stroke-width="1"/>
<text x="285.7" y="456.2" text-anchor="middle" font-size="9.2">ch4</text>
<line x1="343.5" x2="343.5" y1="437" y2="444.8" stroke="#111" stroke-width="1"/>
<text x="344.5" y="456.2" text-anchor="middle" font-size="9.2">ch5</text>
<line x1="394.5" x2="394.5" y1="437" y2="444.8" stroke="#111" stroke-width="1"/>
<text x="393.2" y="456.2" text-anchor="middle" font-size="9.2">ch6</text>
<line x1="447.5" x2="447.5" y1="437" y2="444.8" stroke="#111" stroke-width="1"/>
<text x="447.5" y="456.2" text-anchor="middle" font-size="9.2">ch7</text>
<line x1="495.5" x2="495.5" y1="437" y2="444.8" stroke="#111" stroke-width="1"/>
<text x="494.8" y="456.2" text-anchor="middle" font-size="9.2">ch8</text>
<line x1="537.5" x2="537.5" y1="437" y2="444.8" stroke="#111" stroke-width="1"/>
<text x="539.5" y="456.2" text-anchor="middle" font-size="9.2">ch9</text>
<line x1="582.5" x2="582.5" y1="437" y2="444.8" stroke="#111" stroke-width="1"/>
<text x="583.8" y="456.2" text-anchor="middle" font-size="9.2">ch10</text>
<line x1="621.5" x2="621.5" y1="437" y2="444.8" stroke="#111" stroke-width="1"/>
<text x="623.6" y="456.2" text-anchor="middle" font-size="9.2">ch11</text>
<line x1="660.5" x2="660.5" y1="437" y2="444.8" stroke="#111" stroke-width="1"/>
<text x="663" y="456.2" text-anchor="middle" font-size="9.2">ch12</text>
</svg></body></html>
